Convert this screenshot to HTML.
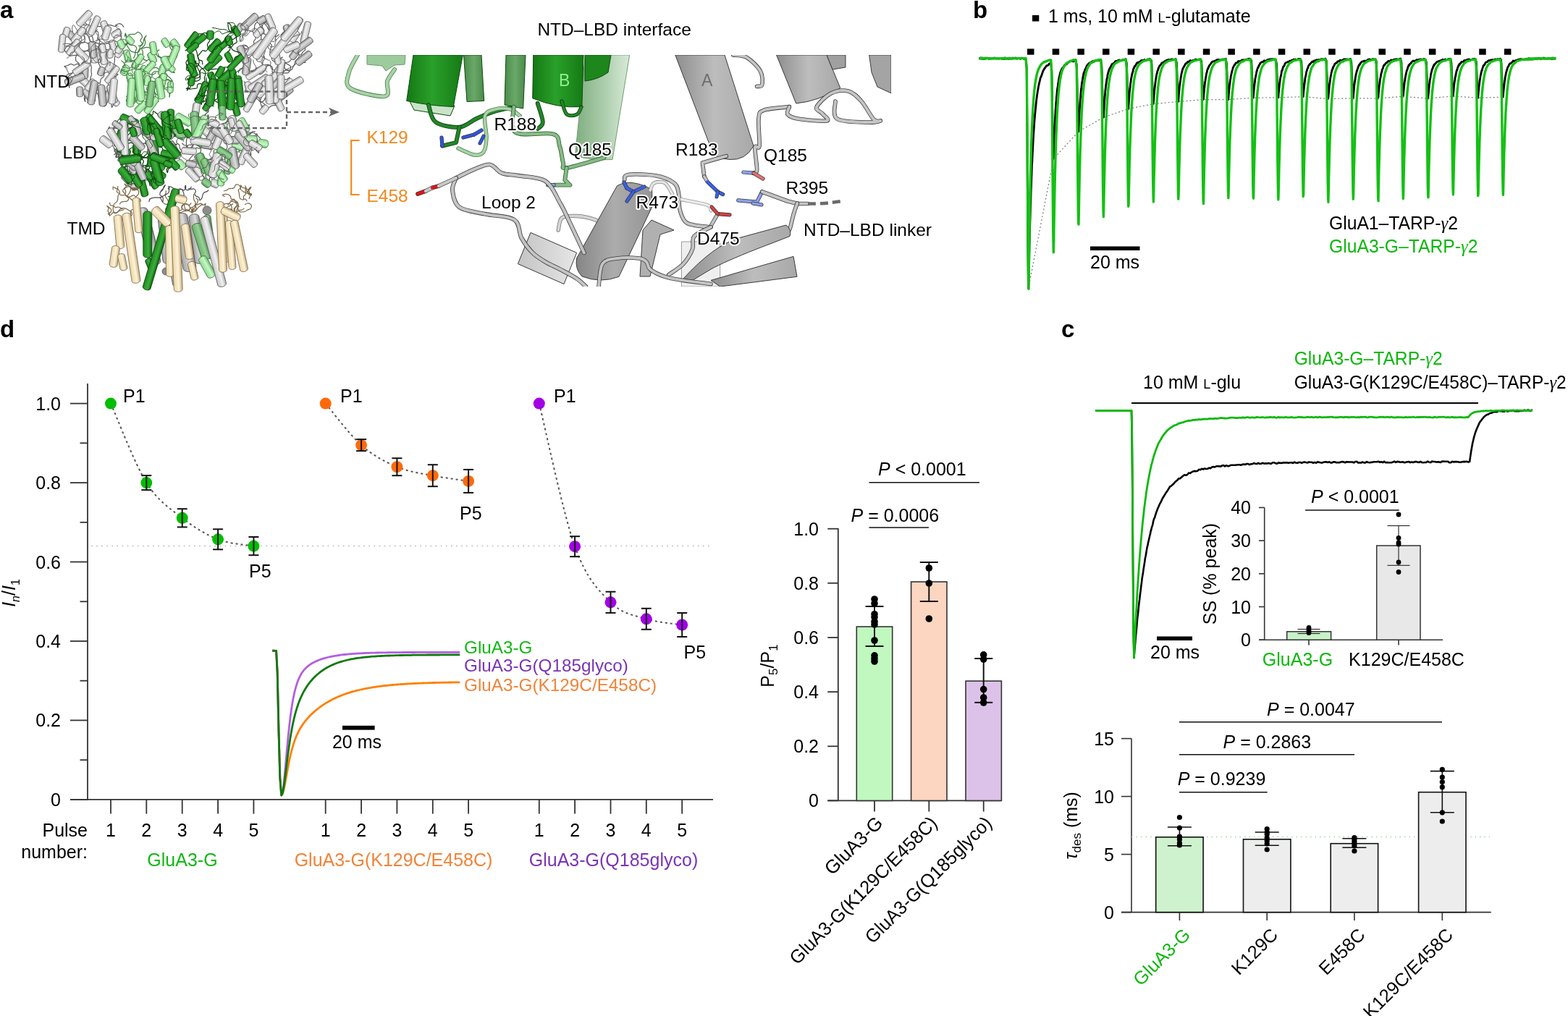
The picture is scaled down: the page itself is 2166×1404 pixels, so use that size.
<!DOCTYPE html>
<html><head><meta charset="utf-8"><title>Figure</title>
<style>html,body{margin:0;padding:0;background:#fff;overflow:hidden;}svg{display:block;}text{font-family:"Liberation Sans", Arial, sans-serif;}</style>
</head><body>
<svg width="2166" height="1404" viewBox="0 0 2166 1404" font-family='"Liberation Sans", Arial, sans-serif'>
<rect width="2166" height="1404" fill="#fff"/>
<defs><linearGradient id="c_gray" x1="0" x2="1" y1="0" y2="0"><stop offset="0" stop-color="#8a8a8a"/><stop offset="0.4" stop-color="#dcdcdc"/><stop offset="1" stop-color="#a4a4a4"/></linearGradient><linearGradient id="c_lgray" x1="0" x2="1" y1="0" y2="0"><stop offset="0" stop-color="#a8a8a8"/><stop offset="0.4" stop-color="#f2f2f2"/><stop offset="1" stop-color="#c6c6c6"/></linearGradient><linearGradient id="c_lgreen" x1="0" x2="1" y1="0" y2="0"><stop offset="0" stop-color="#6cbc6c"/><stop offset="0.4" stop-color="#c6f8c6"/><stop offset="1" stop-color="#92da92"/></linearGradient><linearGradient id="c_mgreen" x1="0" x2="1" y1="0" y2="0"><stop offset="0" stop-color="#4a964a"/><stop offset="0.4" stop-color="#9ad09a"/><stop offset="1" stop-color="#6cb06c"/></linearGradient><linearGradient id="c_dgreen" x1="0" x2="1" y1="0" y2="0"><stop offset="0" stop-color="#0c640c"/><stop offset="0.4" stop-color="#3cae3c"/><stop offset="1" stop-color="#1c881c"/></linearGradient><linearGradient id="c_tan" x1="0" x2="1" y1="0" y2="0"><stop offset="0" stop-color="#c4ab7c"/><stop offset="0.4" stop-color="#fff4d8"/><stop offset="1" stop-color="#ead4a6"/></linearGradient></defs>
<path d="M161 107 C160.2 106.9 157.7 106.1 156.1 106.1 C154.4 106 152.3 105.8 151.1 106.7 C149.9 107.5 149.1 109.6 148.8 111.1 C148.6 112.7 149.7 114.5 149.6 116.1 C149.5 117.7 148.4 119.3 148.2 120.9 C148 122.5 148.1 124.3 148.6 125.9 C149.1 127.4 150.5 128.7 151 130.2 C151.6 131.8 151.4 133.6 152 135.1 C152.6 136.7 154 137.8 154.8 139.3 C155.6 140.8 156.7 142.4 156.6 143.9 C156.6 145.4 154.7 148.4 154.3 148.3 C153.8 148.2 154.2 145 153.9 143.4 C153.5 141.7 152.3 140.3 152.1 138.7 C151.9 137.1 152.8 134.6 152.9 133.7" fill="none" stroke="#5a5a5a" stroke-width="1.2"/>
<path d="M88.5 91.6 C89.3 91.4 91.8 91.1 93.4 90.5 C95 90 96.4 88.4 97.9 88.4 C99.4 88.3 101 90.1 102.6 90.1 C104.1 90 105.8 87.9 107.2 88.1 C108.6 88.3 110.1 90 111.1 91.3 C112 92.6 112.5 94.4 112.9 96 C113.2 97.6 113.6 99.5 113.2 100.9 C112.7 102.4 110.5 103.4 110.1 104.9 C109.8 106.4 110.1 108.6 111 109.8 C111.9 111 114.3 111 115.4 112.1 C116.5 113.3 116.5 115.6 117.6 116.6 C118.7 117.7 120.7 118.7 122.2 118.6 C123.7 118.5 125.8 117.3 126.5 116 C127.1 114.8 126 111.9 125.9 111" fill="none" stroke="#5a5a5a" stroke-width="1.2"/>
<path d="M125.2 83 C125.2 83.9 124.9 86.4 125.1 88 C125.2 89.7 126.2 91.2 126.3 92.9 C126.5 94.5 126 96.2 126 97.9 C126 99.5 126.6 101.2 126.5 102.8 C126.3 104.5 125.4 106 125 107.6 C124.6 109.2 124.4 110.9 124.1 112.5 C123.8 114.2 123.6 115.9 123 117.4 C122.5 119 121.6 120.4 120.7 121.8 C119.8 123.3 118.3 124.4 117.7 125.9 C117.2 127.4 117.7 129.2 117.4 130.9 C117.2 132.5 116.3 134.1 116.3 135.7 C116.4 137.3 117.5 140.6 117.8 140.5 C118 140.5 117.1 136.9 117.7 135.5 C118.4 134.2 121 132.9 121.6 132.3" fill="none" stroke="#5a5a5a" stroke-width="1.2"/>
<path d="M115.2 48.5 C115.5 49.2 117.2 51.4 117.4 52.9 C117.6 54.5 117.2 56.7 116.2 57.8 C115.2 58.9 112.8 58.6 111.6 59.7 C110.4 60.7 109.3 62.6 109.3 64.1 C109.3 65.6 110.4 67.5 111.6 68.6 C112.8 69.6 114.6 70.2 116.2 70.5 C117.8 70.8 119.6 70.1 121.2 70.4 C122.8 70.7 124.4 72.4 125.9 72.2 C127.4 72.1 128.6 70.3 130.2 69.6 C131.7 69 133.4 68.9 135 68.6 C136.7 68.2 138.3 67.5 139.9 67.6 C141.6 67.6 143.1 68.6 144.8 68.8 C146.4 69 148.5 68.2 149.8 68.9 C151.1 69.6 152.2 72.3 152.6 73" fill="none" stroke="#5a5a5a" stroke-width="1.2"/>
<path d="M171.1 37.6 C170.6 36.9 169.3 34.4 168 33.7 C166.6 32.9 164.5 32.5 163 33 C161.6 33.4 160.7 36 159.3 36.3 C157.9 36.7 156.1 35.5 154.4 35.1 C152.8 34.8 151.1 34.6 149.5 34.3 C147.9 34 146.1 32.8 144.6 33.1 C143.2 33.5 142.2 35.7 140.8 36.3 C139.3 36.9 137.4 36.4 135.8 36.5 C134.1 36.7 132.4 36.7 130.8 37.1 C129.2 37.6 127.7 39 126.2 39.1 C124.6 39.1 122.9 38.3 121.4 37.5 C120 36.8 119 34.9 117.5 34.5 C116 34.1 114.2 35.1 112.5 35.1 C110.9 35.1 108.4 34.5 107.6 34.3" fill="none" stroke="#5a5a5a" stroke-width="1.2"/>
<path d="M114.8 46.3 C115.6 46.5 118.3 46.6 119.6 47.5 C121 48.3 121.9 50 122.7 51.4 C123.5 52.9 123.8 54.6 124.5 56.1 C125.2 57.6 125.7 59.4 126.8 60.5 C127.9 61.7 129.7 62.3 131.1 63 C132.6 63.8 134.5 64 135.7 65.1 C136.9 66.1 137.9 67.8 138.3 69.4 C138.7 70.9 138 72.7 138.2 74.4 C138.4 76 139.6 77.8 139.2 79.3 C138.9 80.7 136.6 81.7 136.2 83.2 C135.7 84.7 136.2 86.6 136.6 88.2 C137 89.8 138.3 91.1 138.8 92.7 C139.3 94.3 139.4 96 139.5 97.7 C139.6 99.3 139.3 101.8 139.3 102.7" fill="none" stroke="#5a5a5a" stroke-width="1.2"/>
<path d="M154.4 106.7 C155.2 106.6 157.9 106.5 159.3 105.8 C160.7 105.1 163.2 103 163 102.5 C162.8 102 159.7 102.7 158 102.8 C156.3 102.9 154.5 103.8 153 103.3 C151.6 102.9 150.7 100.4 149.3 100 C147.8 99.6 145.4 100 144.4 101 C143.4 102 144 104.5 143.2 105.8 C142.3 107.2 140.3 107.9 139.5 109.2 C138.7 110.6 138.9 112.5 138.3 114.1 C137.7 115.6 136.9 117.2 135.9 118.5 C134.9 119.8 132.8 120.5 132.3 122 C131.8 123.4 132.3 125.4 132.8 126.9 C133.3 128.5 134.9 129.6 135.5 131.1 C136.1 132.7 136.1 135.3 136.3 136.1" fill="none" stroke="#5a5a5a" stroke-width="1.2"/>
<path d="M119 135.1 C118.6 134.4 116.7 132.1 116.8 130.6 C116.9 129.2 118.2 127.3 119.5 126.4 C120.7 125.4 123.4 126 124.3 125 C125.2 123.9 125.2 121.5 124.9 120 C124.5 118.5 123.3 116.6 122 115.9 C120.7 115.2 118.4 116.4 117 115.7 C115.6 115 115 112.8 113.7 112 C112.3 111.1 109.9 111.5 108.9 110.4 C107.9 109.3 107.5 107 107.8 105.5 C108.1 104 110.1 103 110.7 101.5 C111.3 99.9 111 98.1 111.3 96.5 C111.5 94.8 111.8 93.2 112.2 91.6 C112.5 89.9 112.6 88 113.5 86.8 C114.5 85.5 117.1 84.7 117.9 84.3" fill="none" stroke="#5a5a5a" stroke-width="1.2"/>
<path d="M126.7 48.8 C127 49.6 128 51.9 128.3 53.5 C128.7 55.1 129.3 57 128.8 58.5 C128.3 59.9 126.3 60.8 125.5 62.2 C124.6 63.6 124.5 65.5 123.6 66.8 C122.6 68.2 121.3 69.5 119.9 70.2 C118.4 70.9 116.6 71 114.9 71 C113.3 71 111.3 71 110 70.1 C108.7 69.3 108.5 66.6 107.2 66 C105.9 65.5 103.9 66.9 102.3 66.8 C100.7 66.6 99.2 65.5 97.6 64.9 C96 64.3 94.5 63.4 92.9 63.3 C91.3 63.2 89.6 64.4 88 64.3 C86.4 64.2 83.6 62.2 83.3 62.6 C82.9 63 85.5 66.1 85.9 66.8" fill="none" stroke="#5a5a5a" stroke-width="1.2"/>
<path d="M110.9 77.4 C110 77.3 107.6 76.6 105.9 76.5 C104.3 76.4 102.6 76.5 100.9 76.6 C99.3 76.7 97.4 77.7 96 77.2 C94.6 76.7 93.7 74.8 92.6 73.5 C91.5 72.3 89.6 71 89.4 69.6 C89.3 68.2 90.5 66.3 91.6 65.1 C92.6 63.9 94.3 63.3 95.7 62.3 C97 61.3 98.3 60.2 99.7 59.2 C101 58.3 102.4 57.2 104 56.7 C105.5 56.2 107.4 55.9 108.9 56.2 C110.5 56.5 111.7 58.4 113.2 58.8 C114.8 59.1 116.6 58.2 118.2 58.5 C119.8 58.8 121.5 60.6 122.9 60.3 C124.3 60.1 125.9 57.4 126.4 56.8" fill="none" stroke="#5a5a5a" stroke-width="1.2"/>
<path d="M165.3 40.9 C165.2 41.7 164.7 44.3 165.1 45.9 C165.5 47.4 167.6 48.6 167.8 50.1 C168.1 51.6 167 53.3 166.6 54.9 C166.2 56.5 166.2 58.4 165.4 59.8 C164.7 61.2 162.9 62 162 63.4 C161.1 64.8 160.4 66.5 160.2 68.1 C160.1 69.7 160.4 71.9 161.3 73 C162.3 74.1 166 74.6 166 74.8 C165.9 75 162.2 73.6 161 74.3 C159.8 74.9 159.1 77.1 158.6 78.7 C158.2 80.2 158.5 82 158.4 83.7 C158.3 85.3 157.3 87.3 157.8 88.6 C158.4 90 160.7 90.6 161.6 91.9 C162.6 93.2 163.3 95.7 163.6 96.5" fill="none" stroke="#5a5a5a" stroke-width="1.2"/>
<path d="M150.3 80.8 C150.8 80.2 152.5 78.3 153.6 77.1 C154.7 75.8 155.8 74.6 156.8 73.2 C157.7 71.9 158.2 70.1 159.3 68.9 C160.4 67.6 162.2 67 163.2 65.8 C164.2 64.5 164.4 62.7 165.1 61.1 C165.8 59.6 167.6 57.1 167.2 56.6 C166.7 56 163.9 58.1 162.3 58 C160.8 57.9 159.3 56.2 157.8 56 C156.2 55.8 154.3 56.1 152.8 56.7 C151.3 57.3 150.3 59 148.8 59.7 C147.3 60.4 145.6 60.7 143.9 60.9 C142.3 61.1 140.6 60.9 138.9 60.7 C137.3 60.4 135.7 59.9 134.1 59.6 C132.4 59.2 130 58.9 129.1 58.8" fill="none" stroke="#5a5a5a" stroke-width="1.2"/>
<path d="M144.9 78.1 C144.1 77.9 141.1 77.5 140.2 76.4 C139.2 75.3 139.5 73.2 139.2 71.5 C138.8 69.9 138.3 68.3 137.9 66.7 C137.5 65.1 136.7 63.5 136.7 61.8 C136.7 60.2 138.2 58.4 137.9 57 C137.6 55.5 135 54.6 134.7 53.1 C134.4 51.7 136.2 50 136.2 48.4 C136.2 46.8 135.7 44.7 134.7 43.6 C133.7 42.5 131.3 42.7 130.1 41.7 C128.9 40.6 128.9 38.1 127.7 37.3 C126.5 36.5 124.1 37.4 122.7 36.7 C121.3 36 120.5 34.3 119.3 33.1 C118.1 31.9 116 31.2 115.5 29.8 C115.1 28.4 116.3 25.7 116.5 24.9" fill="none" stroke="#5a5a5a" stroke-width="1.2"/>
<path d="M100.6 67.1 C101.2 67.6 103.5 68.9 104.4 70.2 C105.4 71.5 106.3 73.3 106.3 74.9 C106.3 76.4 104.7 78 104.5 79.6 C104.4 81.2 104.5 83.2 105.2 84.5 C106 85.9 108.6 86.3 109.2 87.7 C109.7 89 108.9 91.1 108.3 92.6 C107.7 94.1 106.5 95.4 105.4 96.7 C104.3 97.9 103.2 99.4 101.9 100.2 C100.5 101 98.6 100.9 97 101.5 C95.5 102 93.3 102.4 92.5 103.6 C91.7 104.8 91.8 108.4 92.3 108.6 C92.8 108.8 94.3 105.9 95.4 104.7 C96.6 103.5 98.4 102.9 99.4 101.6 C100.4 100.3 101.1 97.8 101.4 97.1" fill="none" stroke="#5a5a5a" stroke-width="1.2"/>
<rect x="-4.1" y="-9.7" width="8.2" height="19.5" rx="4.1" ry="2.5" fill="url(#c_lgray)" stroke="#5a5a5a" stroke-width="0.8" transform="translate(156.4 64.8) rotate(-15.6)"/>
<rect x="-4.4" y="-6.3" width="8.7" height="12.6" rx="4.4" ry="2.6" fill="url(#c_gray)" stroke="#4a4a4a" stroke-width="0.8" transform="translate(139.9 98.6) rotate(20.4)"/>
<rect x="-4.5" y="-7" width="9.1" height="14" rx="4.5" ry="2.7" fill="url(#c_gray)" stroke="#4a4a4a" stroke-width="0.8" transform="translate(98.7 49.7) rotate(-38.9)"/>
<rect x="-4.9" y="-14" width="9.9" height="28.1" rx="4.9" ry="3" fill="url(#c_lgray)" stroke="#5a5a5a" stroke-width="0.8" transform="translate(142.2 75.3) rotate(-8.8)"/>
<rect x="-4.9" y="-13.1" width="9.7" height="26.1" rx="4.9" ry="2.9" fill="url(#c_lgray)" stroke="#5a5a5a" stroke-width="0.8" transform="translate(116.5 25.6) rotate(43.4)"/>
<rect x="-4.4" y="-6.8" width="8.8" height="13.5" rx="4.4" ry="2.6" fill="url(#c_lgray)" stroke="#5a5a5a" stroke-width="0.8" transform="translate(91.7 44.3) rotate(16.4)"/>
<rect x="-4.6" y="-8.3" width="9.2" height="16.5" rx="4.6" ry="2.8" fill="url(#c_lgray)" stroke="#5a5a5a" stroke-width="0.8" transform="translate(144.8 37) rotate(-19)"/>
<rect x="-4.8" y="-7" width="9.5" height="13.9" rx="4.8" ry="2.9" fill="url(#c_lgray)" stroke="#5a5a5a" stroke-width="0.8" transform="translate(160.9 46.5) rotate(57.4)"/>
<rect x="-4.8" y="-8.5" width="9.6" height="16.9" rx="4.8" ry="2.9" fill="url(#c_lgray)" stroke="#5a5a5a" stroke-width="0.8" transform="translate(122.8 42.5) rotate(-29.9)"/>
<rect x="-4.4" y="-6.7" width="8.9" height="13.4" rx="4.4" ry="2.7" fill="url(#c_lgray)" stroke="#5a5a5a" stroke-width="0.8" transform="translate(164.3 73.2) rotate(36.1)"/>
<rect x="-4.8" y="-12.7" width="9.6" height="25.4" rx="4.8" ry="2.9" fill="url(#c_lgray)" stroke="#5a5a5a" stroke-width="0.8" transform="translate(108.3 48.7) rotate(39)"/>
<rect x="-4.9" y="-8.8" width="9.9" height="17.6" rx="4.9" ry="3" fill="url(#c_lgray)" stroke="#5a5a5a" stroke-width="0.8" transform="translate(115.5 112) rotate(-47)"/>
<rect x="-4.5" y="-14" width="9" height="28.1" rx="4.5" ry="2.7" fill="url(#c_lgray)" stroke="#5a5a5a" stroke-width="0.8" transform="translate(111 73) rotate(-44.6)"/>
<rect x="-4.1" y="-7.9" width="8.2" height="15.8" rx="4.1" ry="2.4" fill="url(#c_gray)" stroke="#4a4a4a" stroke-width="0.8" transform="translate(117.7 100.9) rotate(3)"/>
<rect x="-4.6" y="-11.3" width="9.2" height="22.6" rx="4.6" ry="2.8" fill="url(#c_gray)" stroke="#4a4a4a" stroke-width="0.8" transform="translate(122.6 132.6) rotate(-36.3)"/>
<rect x="-4.5" y="-6.1" width="9" height="12.2" rx="4.5" ry="2.7" fill="url(#c_lgray)" stroke="#5a5a5a" stroke-width="0.8" transform="translate(141.6 66.8) rotate(-11.4)"/>
<rect x="-4.1" y="-11.3" width="8.2" height="22.6" rx="4.1" ry="2.5" fill="url(#c_gray)" stroke="#4a4a4a" stroke-width="0.8" transform="translate(146.3 136.1) rotate(25)"/>
<rect x="-4.5" y="-9" width="9" height="18" rx="4.5" ry="2.7" fill="url(#c_lgray)" stroke="#5a5a5a" stroke-width="0.8" transform="translate(125 117.3) rotate(38.8)"/>
<rect x="-4.5" y="-6.5" width="8.9" height="12.9" rx="4.5" ry="2.7" fill="url(#c_lgray)" stroke="#5a5a5a" stroke-width="0.8" transform="translate(159.1 140.6) rotate(-41.8)"/>
<rect x="-4.5" y="-14.1" width="8.9" height="28.2" rx="4.5" ry="2.7" fill="url(#c_lgray)" stroke="#5a5a5a" stroke-width="0.8" transform="translate(130.3 35.4) rotate(24)"/>
<rect x="-4.6" y="-6.5" width="9.1" height="12.9" rx="4.6" ry="2.7" fill="url(#c_lgray)" stroke="#5a5a5a" stroke-width="0.8" transform="translate(151.2 92.4) rotate(34.1)"/>
<rect x="-4.8" y="-13.2" width="9.6" height="26.3" rx="4.8" ry="2.9" fill="url(#c_lgray)" stroke="#5a5a5a" stroke-width="0.8" transform="translate(154.9 129.9) rotate(-16.7)"/>
<rect x="-4.1" y="-13.6" width="8.1" height="27.2" rx="4.1" ry="2.4" fill="url(#c_lgray)" stroke="#5a5a5a" stroke-width="0.8" transform="translate(155 103.1) rotate(37.5)"/>
<rect x="-4.3" y="-12.6" width="8.5" height="25.1" rx="4.3" ry="2.6" fill="url(#c_lgray)" stroke="#5a5a5a" stroke-width="0.8" transform="translate(85.7 59.9) rotate(6.3)"/>
<rect x="-4.9" y="-14.3" width="9.9" height="28.7" rx="4.9" ry="3" fill="url(#c_gray)" stroke="#4a4a4a" stroke-width="0.8" transform="translate(103.3 109.8) rotate(68.3)"/>
<rect x="-5" y="-8.7" width="9.9" height="17.4" rx="5" ry="3" fill="url(#c_lgray)" stroke="#5a5a5a" stroke-width="0.8" transform="translate(130.3 78.4) rotate(-1.2)"/>
<rect x="-4.9" y="-9.9" width="9.8" height="19.8" rx="4.9" ry="2.9" fill="url(#c_lgray)" stroke="#5a5a5a" stroke-width="0.8" transform="translate(147 45.6) rotate(17.1)"/>
<rect x="-4.5" y="-7" width="9" height="14" rx="4.5" ry="2.7" fill="url(#c_gray)" stroke="#4a4a4a" stroke-width="0.8" transform="translate(110.2 126.8) rotate(-1.7)"/>
<rect x="-4.9" y="-11.6" width="9.8" height="23.2" rx="4.9" ry="2.9" fill="url(#c_gray)" stroke="#4a4a4a" stroke-width="0.8" transform="translate(127.8 68.9) rotate(-5.5)"/>
<rect x="-4.5" y="-12.7" width="9.1" height="25.3" rx="4.5" ry="2.7" fill="url(#c_lgray)" stroke="#5a5a5a" stroke-width="0.8" transform="translate(112.1 94.4) rotate(56)"/>
<rect x="-4.3" y="-6.1" width="8.5" height="12.3" rx="4.3" ry="2.6" fill="url(#c_lgray)" stroke="#5a5a5a" stroke-width="0.8" transform="translate(152.1 74.1) rotate(-0.1)"/>
<rect x="-4.6" y="-10.7" width="9.2" height="21.3" rx="4.6" ry="2.8" fill="url(#c_lgray)" stroke="#5a5a5a" stroke-width="0.8" transform="translate(167 64.2) rotate(33.1)"/>
<rect x="-4.3" y="-12.6" width="8.5" height="25.3" rx="4.3" ry="2.6" fill="url(#c_lgray)" stroke="#5a5a5a" stroke-width="0.8" transform="translate(101.3 65.3) rotate(36)"/>
<rect x="-4.8" y="-6" width="9.7" height="12" rx="4.8" ry="2.9" fill="url(#c_lgray)" stroke="#5a5a5a" stroke-width="0.8" transform="translate(133.8 119.9) rotate(68.6)"/>
<path d="M100.7 43.9 C100.5 43 99.4 40.6 99.6 39 C99.7 37.4 100.6 34.5 101.5 34.4 C102.3 34.3 103.6 37 104.5 38.4 C105.4 39.8 106.4 41.2 106.9 42.7 C107.4 44.3 106.6 46.4 107.4 47.7 C108.2 49 110.8 49.1 111.7 50.3 C112.6 51.6 113 53.7 112.7 55.2 C112.4 56.7 110.9 58.1 109.7 59.2 C108.5 60.3 106.6 60.7 105.5 61.8 C104.3 63 103.2 64.5 102.8 66.1 C102.3 67.6 103.5 69.9 102.8 71.1 C102 72.2 99.3 71.9 98.1 73 C97 74.1 97 76.2 96 77.5 C95 78.8 92.8 80.1 92.1 80.7" fill="none" stroke="#5a5a5a" stroke-width="1.0"/>
<path d="M93.4 94.4 C92.7 94 89.4 91.6 89.1 91.8 C88.9 92.1 91.3 94.4 92.1 95.8 C93 97.3 93.5 98.9 94.3 100.4 C95.1 101.8 96 103.2 97.1 104.5 C98.1 105.8 100.2 106.8 100.5 108.2 C100.8 109.6 99.6 111.5 98.8 112.9 C97.9 114.3 95.8 115.1 95.3 116.5 C94.8 117.9 95.8 121.5 95.9 121.5 C96 121.5 95.8 118.1 96.2 116.5 C96.6 114.9 98.4 113.4 98.3 112 C98.3 110.5 97.1 108.6 95.9 107.6 C94.7 106.6 91.5 105.5 91.1 106 C90.7 106.5 92.5 110.4 93.4 110.5 C94.2 110.5 95.5 106.9 96 106.2" fill="none" stroke="#5a5a5a" stroke-width="1.0"/>
<path d="M141.5 59.2 C140.8 59.7 138.8 61.3 137.7 62.5 C136.6 63.7 136 65.5 134.8 66.5 C133.5 67.6 131.8 68 130.3 68.8 C128.8 69.6 126.9 70 125.9 71.1 C124.9 72.3 124 74.4 124.3 75.9 C124.6 77.3 126.5 78.4 127.5 79.7 C128.5 81 129.2 82.6 130.3 83.8 C131.5 85 132.9 86.5 134.4 86.7 C135.9 86.9 138.2 86.2 139.2 85.1 C140.1 84.1 140.3 81.8 140.1 80.2 C139.9 78.7 138.1 77.3 138 75.7 C137.9 74.2 139.6 72.4 139.4 70.9 C139.1 69.4 137.9 67.4 136.6 66.8 C135.3 66.1 132.4 66.9 131.6 67" fill="none" stroke="#5a5a5a" stroke-width="1.0"/>
<path d="M163.5 37.1 C162.9 36.6 160.1 33.6 159.8 33.9 C159.4 34.1 160.3 37.5 161.4 38.6 C162.4 39.7 165.1 39.4 165.9 40.6 C166.7 41.8 166.1 43.9 166.2 45.6 C166.2 47.3 167.1 50.2 166.5 50.6 C165.8 51 163.5 48.2 162.1 48.2 C160.6 48.2 158.6 49.5 157.8 50.8 C157 52.1 158 54.5 157.2 55.8 C156.3 57 154.3 57.8 152.7 58.1 C151.2 58.4 149.4 57.1 147.8 57.4 C146.2 57.6 144.7 59.6 143.3 59.5 C141.8 59.4 140 58.2 138.9 57 C137.9 55.8 136.7 53.8 136.9 52.4 C137.2 51 139.8 49.4 140.4 48.8" fill="none" stroke="#5a5a5a" stroke-width="1.0"/>
<path d="M86.8 61.3 C87.6 61.1 90 60.4 91.7 60.3 C93.3 60.2 95.2 60.2 96.7 60.8 C98.2 61.4 99.1 63.4 100.6 63.9 C102.1 64.3 104.2 64.1 105.6 63.5 C107 62.8 107.8 61 109 59.8 C110.2 58.6 111.3 57.3 112.6 56.3 C113.9 55.3 116 54.9 116.8 53.6 C117.5 52.3 116.6 50.2 116.9 48.6 C117.2 47 118.3 45.5 118.8 43.9 C119.2 42.4 119 40.5 119.6 39 C120.3 37.5 121.9 36.5 122.7 35.1 C123.4 33.6 123.6 31.9 124.2 30.3 C124.7 28.7 126.2 25.8 125.9 25.6 C125.6 25.4 122.9 28.5 122.2 29" fill="none" stroke="#5a5a5a" stroke-width="1.0"/>
<path d="M134.7 40.4 C134.3 41.1 132.4 43.4 132.4 44.8 C132.5 46.3 134.6 47.5 135.1 49.1 C135.6 50.6 135.9 52.5 135.5 54.1 C135.1 55.6 133.7 56.9 132.6 58.2 C131.5 59.4 130.2 60.5 129.1 61.7 C128 62.9 126.3 64.1 125.9 65.5 C125.4 67 126.3 68.9 126.2 70.5 C126.1 72.2 125.4 73.8 125.3 75.4 C125.1 77.1 125.1 78.8 125.2 80.4 C125.3 82.1 126.5 84.1 125.9 85.4 C125.3 86.6 123.1 87.8 121.6 87.9 C120.1 88 117.9 87.1 117 86 C116.1 84.8 116.9 82.4 116.2 81 C115.5 79.6 113.3 78 112.7 77.4" fill="none" stroke="#5a5a5a" stroke-width="1.0"/>
<path d="M123.3 51.4 C123.4 52.2 123 55.2 123.8 56.4 C124.6 57.5 126.9 58.5 128.4 58.4 C129.8 58.4 131.2 56.7 132.7 56 C134.2 55.3 135.8 54.4 137.4 54.2 C139 54 141 54 142.3 54.8 C143.7 55.5 144.3 57.6 145.6 58.5 C146.9 59.5 149.2 59.3 150.3 60.3 C151.3 61.4 151.8 63.5 151.8 65.1 C151.8 66.7 151 68.5 150.2 69.9 C149.4 71.3 147.6 72.2 146.9 73.6 C146.2 75 145.8 76.9 145.9 78.5 C146.1 80.1 147 81.8 148 83.1 C149 84.3 151.4 84.7 152 86.1 C152.6 87.4 151.8 90.2 151.7 91.1" fill="none" stroke="#5a5a5a" stroke-width="1.0"/>
<path d="M388.1 84.2 C388.9 84.5 391.4 85.1 392.9 85.8 C394.4 86.6 395.6 87.7 397 88.6 C398.4 89.5 400.5 90.1 401.2 91.3 C401.9 92.6 401.6 94.8 401.1 96.3 C400.6 97.8 399.5 99.6 398.2 100.4 C396.9 101.2 394.9 100.7 393.2 100.9 C391.6 101.1 389.9 101.6 388.3 101.7 C386.6 101.8 384.6 102 383.3 101.2 C382 100.5 381.5 98.2 380.2 97.3 C379 96.3 376.7 96.7 375.5 95.6 C374.4 94.6 374.5 92.2 373.4 91.1 C372.3 90 370.4 89.3 368.8 89.2 C367.2 89 365.2 90.6 363.9 90.1 C362.6 89.5 361.5 86.7 361 86" fill="none" stroke="#5a5a5a" stroke-width="1.2"/>
<path d="M353.1 123.1 C352.3 123.1 349.8 122.9 348.2 122.8 C346.5 122.7 344.7 122 343.2 122.3 C341.6 122.7 338.7 124.4 338.8 124.7 C338.9 125.1 342.6 123.9 343.8 124.6 C345 125.4 345.3 127.6 345.8 129.2 C346.4 130.8 347.2 132.5 347 134.1 C346.8 135.6 344.3 138.1 344.7 138.5 C345.1 139 348 137.6 349.4 136.9 C350.9 136.1 352.1 134.2 353.6 134.1 C355.1 133.9 357.2 134.8 358.2 135.9 C359.2 137.1 359.1 139.2 359.6 140.8 C360 142.4 360.5 144 360.9 145.6 C361.4 147.2 361.9 150.4 362.2 150.4 C362.5 150.4 362.8 146.3 362.9 145.5" fill="none" stroke="#5a5a5a" stroke-width="1.2"/>
<path d="M337.2 32.7 C337.1 33.6 336.1 36.2 336.5 37.7 C337 39.2 338.4 40.8 339.7 41.6 C341 42.4 343 42.1 344.6 42.5 C346.2 42.9 348.2 43.1 349.4 44.1 C350.5 45.1 350.7 47.1 351.4 48.7 C352 50.2 353.4 51.8 353.2 53.3 C353.1 54.8 350.8 55.9 350.4 57.5 C350.1 59 351.9 61.1 351.3 62.4 C350.8 63.6 348.5 64.2 347.1 65 C345.7 65.9 344.3 67.1 342.7 67.4 C341.2 67.7 338.9 67.7 337.8 66.8 C336.6 65.9 335.3 62.7 335.8 62.2 C336.3 61.6 339.4 62.5 340.7 63.3 C342 64.2 343.1 66.7 343.6 67.4" fill="none" stroke="#5a5a5a" stroke-width="1.2"/>
<path d="M350.7 105.2 C351.4 104.6 353 102.3 354.5 101.9 C355.9 101.5 357.9 102.9 359.4 102.7 C361 102.4 362.6 101.3 363.7 100.1 C364.9 99 365.7 97.4 366.4 95.9 C367.2 94.5 367.2 92.3 368.3 91.3 C369.5 90.3 371.9 89.8 373.2 90.2 C374.6 90.7 376 92.5 376.5 94 C377 95.4 375.7 97.4 376.1 99 C376.4 100.5 377.7 101.9 378.6 103.3 C379.5 104.7 380.2 106.6 381.5 107.4 C382.8 108.1 384.8 107.5 386.4 107.8 C388.1 108.2 389.6 109.2 391.2 109.5 C392.8 109.8 394.6 110 396.2 109.6 C397.7 109.1 399.7 107.3 400.4 106.8" fill="none" stroke="#5a5a5a" stroke-width="1.2"/>
<path d="M388.4 48.8 C388.9 48.1 390 45.8 391.2 44.7 C392.4 43.6 394.4 43.3 395.6 42.1 C396.7 41 396.9 38.6 398.2 37.9 C399.4 37.1 402.7 36.9 403.2 37.6 C403.6 38.3 402.2 41 401.1 42.2 C400.1 43.4 397.7 43.5 396.8 44.8 C395.9 46 396.5 48.3 395.7 49.6 C394.8 51 392.6 51.5 391.9 52.9 C391.1 54.3 391.9 56.5 391.1 57.8 C390.3 59.2 388 59.5 387.1 60.8 C386.1 62 386.2 64.2 385.2 65.4 C384.1 66.5 381.9 66.6 380.7 67.7 C379.6 68.8 378.5 70.6 378.4 72.1 C378.2 73.6 379.6 76 379.9 76.8" fill="none" stroke="#5a5a5a" stroke-width="1.2"/>
<path d="M361.2 59.4 C361.1 58.6 360.8 56.1 360.7 54.4 C360.7 52.7 360.7 51.1 361 49.4 C361.3 47.8 362.2 46.2 362.4 44.6 C362.6 43 362.5 41.1 362 39.6 C361.5 38.1 359.7 37 359.2 35.5 C358.7 34 358.3 31.8 359 30.5 C359.7 29.2 362.4 29.2 363.3 28 C364.2 26.7 365 23.5 364.5 23.1 C364 22.8 361.3 24.6 360.3 25.9 C359.4 27.2 360.1 29.8 359 30.7 C358 31.6 355.3 30.5 354.1 31.3 C352.8 32.2 352.1 34.2 351.7 35.7 C351.2 37.3 352.2 39.4 351.5 40.7 C350.8 42.1 348.2 43.3 347.5 43.8" fill="none" stroke="#5a5a5a" stroke-width="1.2"/>
<path d="M379.7 55.3 C379.9 54.5 381 52.1 381 50.4 C381 48.8 380.8 46.7 379.8 45.6 C378.9 44.4 376.8 44.2 375.3 43.5 C373.8 42.7 372 42.2 370.9 41 C369.9 39.8 369.7 37.9 368.8 36.5 C367.9 35.1 366.7 33.9 365.5 32.7 C364.3 31.6 362.8 30.7 361.7 29.5 C360.6 28.3 360.2 26 358.9 25.3 C357.6 24.7 354.2 24.9 353.9 25.5 C353.7 26.1 356.2 27.9 357.4 29.1 C358.5 30.3 359.9 31.4 360.7 32.8 C361.6 34.2 361.7 36 362.4 37.5 C363.1 39.1 364.4 40.4 364.8 42 C365.1 43.5 364.5 46.1 364.5 46.9" fill="none" stroke="#5a5a5a" stroke-width="1.2"/>
<path d="M368.9 122 C368.5 122.8 367.5 125.1 366.7 126.5 C365.9 128 364.8 129.2 363.8 130.6 C362.9 132 361.7 133.3 361.1 134.8 C360.4 136.3 359.3 138.3 359.8 139.6 C360.3 140.9 362.5 141.5 363.8 142.6 C365.1 143.7 366.6 144.7 367.4 146.1 C368.2 147.5 367.9 150.6 368.8 150.9 C369.7 151.2 371.3 148.6 372.7 147.7 C374.1 146.8 375.7 146.1 377.2 145.7 C378.8 145.3 382.2 145.9 382.2 145.5 C382.3 145.1 379.3 143.8 377.8 143.3 C376.2 142.8 374.2 143.2 372.8 142.5 C371.4 141.8 370.5 140.1 369.3 139 C368.1 137.8 366.2 136.2 365.6 135.6" fill="none" stroke="#5a5a5a" stroke-width="1.2"/>
<path d="M341.7 87.2 C341.9 86.4 342.5 83.9 343.1 82.4 C343.8 80.9 344.6 79.3 345.7 78.1 C346.8 76.9 348.3 75.2 349.7 75.1 C351.1 75 352.6 77.6 354 77.5 C355.5 77.5 356.7 75.1 358.2 74.8 C359.8 74.6 361.9 75.1 363.1 76 C364.3 76.9 365.4 78.9 365.5 80.4 C365.5 81.9 363.8 83.3 363.2 84.9 C362.7 86.5 362.8 88.3 362.3 89.8 C361.7 91.4 361.1 93.5 359.9 94.2 C358.7 94.9 356.4 93.3 354.9 93.8 C353.4 94.2 352.5 96.2 351 96.9 C349.6 97.6 347.8 97.9 346.2 98.2 C344.5 98.4 342 98.3 341.2 98.3" fill="none" stroke="#5a5a5a" stroke-width="1.2"/>
<path d="M336.6 112.5 C337.2 113 339.2 114.7 340.6 115.4 C342.1 116.1 344.2 115.7 345.5 116.5 C346.8 117.4 348 119 348.6 120.5 C349.2 122 349.1 123.8 349.1 125.5 C349.1 127.1 349.3 129.3 348.4 130.4 C347.5 131.5 343.6 131.9 343.6 132 C343.7 132.1 347.1 130.7 348.5 131.1 C350 131.5 350.9 133.5 352.2 134.5 C353.5 135.6 355 136.3 356.3 137.4 C357.6 138.5 358.4 140.7 359.8 141 C361.1 141.3 363.3 140.2 364.4 139.2 C365.6 138.1 365.7 135.7 366.9 134.8 C368.2 134 370.4 134.8 371.9 134.1 C373.4 133.5 375.1 131.5 375.8 131" fill="none" stroke="#5a5a5a" stroke-width="1.2"/>
<path d="M422.6 86.4 C421.8 86.4 419.3 86.4 417.6 86.3 C416 86.2 414.2 85.6 412.7 85.9 C411.1 86.2 409.5 87.3 408.3 88.3 C407 89.3 405.9 90.7 405 92.1 C404.1 93.4 403.9 95.7 402.7 96.5 C401.5 97.3 399.4 96.6 397.7 96.8 C396.1 97 394.1 97 392.8 97.9 C391.6 98.8 391.1 100.7 390.4 102.2 C389.7 103.7 389.7 106.1 388.5 106.9 C387.4 107.7 385.1 107.4 383.5 107 C382 106.6 380.7 104.6 379.2 104.5 C377.7 104.3 375.6 105 374.5 106 C373.4 107.1 372.5 109.3 372.7 110.7 C372.9 112.2 375 114.2 375.5 114.9" fill="none" stroke="#5a5a5a" stroke-width="1.2"/>
<path d="M357.8 48 C358.3 47.3 360.2 45.4 360.7 43.9 C361.3 42.4 360.9 40.5 361.3 38.9 C361.7 37.3 362.1 35.6 363 34.2 C363.8 32.8 365.4 31.9 366.5 30.6 C367.6 29.4 369.1 28.1 369.4 26.6 C369.8 25.1 368.9 21.7 368.7 21.7 C368.5 21.7 368.3 25 368.1 26.6 C367.9 28.3 367.1 30.2 367.5 31.6 C368 33 370.4 33.8 371 35.2 C371.6 36.7 370.8 38.6 371.2 40.2 C371.5 41.8 372.2 43.5 373.3 44.8 C374.3 46 375.8 46.9 377.2 47.8 C378.6 48.8 380.1 50.5 381.4 50.5 C382.8 50.4 384.9 48.1 385.6 47.6" fill="none" stroke="#5a5a5a" stroke-width="1.2"/>
<path d="M416.3 64 C416.7 63.3 417.7 60.5 419 59.8 C420.3 59.1 423.8 59.2 424 59.8 C424.3 60.4 420.9 62 420.6 63.4 C420.2 64.8 422.1 66.9 421.8 68.3 C421.4 69.7 419.4 70.7 418.4 71.9 C417.3 73.2 416.7 75.4 415.4 75.9 C414 76.5 412 74.9 410.4 75.2 C408.9 75.5 407.4 76.7 406.1 77.7 C404.8 78.7 403.7 80.1 402.7 81.3 C401.6 82.6 401 84.4 399.7 85.3 C398.4 86.2 396.1 85.8 394.9 86.7 C393.7 87.7 392.7 89.7 392.6 91.2 C392.6 92.7 393.5 94.7 394.6 95.8 C395.6 97 398.3 97.7 399.1 98" fill="none" stroke="#5a5a5a" stroke-width="1.2"/>
<path d="M390.8 78.7 C390.1 79.2 387.9 80.4 386.6 81.5 C385.4 82.5 384.6 84.5 383.2 85.1 C381.8 85.7 379.5 85.6 378.2 84.8 C376.9 84.1 375.6 82.3 375.2 80.8 C374.9 79.4 376.5 77.4 376.1 75.9 C375.7 74.5 373.3 73.5 372.9 72.1 C372.6 70.6 373.5 68.8 373.9 67.2 C374.3 65.6 375.7 63.8 375.4 62.4 C375 61 372.8 60.1 372 58.7 C371.1 57.3 370.8 55.6 370.3 54 C369.7 52.4 369.6 50.5 368.6 49.3 C367.7 48.1 365.9 46.9 364.4 46.6 C362.9 46.3 361.1 47.1 359.5 47.4 C357.8 47.8 355.4 48.4 354.6 48.6" fill="none" stroke="#5a5a5a" stroke-width="1.2"/>
<rect x="-4.4" y="-15.7" width="8.9" height="31.3" rx="4.4" ry="2.7" fill="url(#c_lgray)" stroke="#5a5a5a" stroke-width="0.8" transform="translate(422.2 45.1) rotate(13.7)"/>
<rect x="-4.2" y="-16.3" width="8.4" height="32.6" rx="4.2" ry="2.5" fill="url(#c_gray)" stroke="#4a4a4a" stroke-width="0.8" transform="translate(391 132.3) rotate(51.6)"/>
<rect x="-4.8" y="-10.1" width="9.6" height="20.3" rx="4.8" ry="2.9" fill="url(#c_gray)" stroke="#4a4a4a" stroke-width="0.8" transform="translate(398 43.9) rotate(-18.9)"/>
<rect x="-4.9" y="-12.3" width="9.8" height="24.6" rx="4.9" ry="2.9" fill="url(#c_gray)" stroke="#4a4a4a" stroke-width="0.8" transform="translate(340.7 91.6) rotate(8.5)"/>
<rect x="-4.9" y="-12.9" width="9.8" height="25.8" rx="4.9" ry="2.9" fill="url(#c_gray)" stroke="#4a4a4a" stroke-width="0.8" transform="translate(335.5 75.4) rotate(-22.6)"/>
<rect x="-4.5" y="-7.1" width="9.1" height="14.1" rx="4.5" ry="2.7" fill="url(#c_gray)" stroke="#4a4a4a" stroke-width="0.8" transform="translate(406.2 75.7) rotate(37)"/>
<rect x="-4.6" y="-15.3" width="9.2" height="30.6" rx="4.6" ry="2.8" fill="url(#c_gray)" stroke="#4a4a4a" stroke-width="0.8" transform="translate(418.5 62.7) rotate(54)"/>
<rect x="-4.6" y="-6.7" width="9.3" height="13.4" rx="4.6" ry="2.8" fill="url(#c_gray)" stroke="#4a4a4a" stroke-width="0.8" transform="translate(361.5 27.6) rotate(58.5)"/>
<rect x="-4.4" y="-16.1" width="8.7" height="32.1" rx="4.4" ry="2.6" fill="url(#c_lgray)" stroke="#5a5a5a" stroke-width="0.8" transform="translate(346.8 140.2) rotate(30.2)"/>
<rect x="-4.4" y="-13.2" width="8.8" height="26.4" rx="4.4" ry="2.6" fill="url(#c_gray)" stroke="#4a4a4a" stroke-width="0.8" transform="translate(409.4 36.1) rotate(29.4)"/>
<rect x="-4.2" y="-16.2" width="8.3" height="32.5" rx="4.2" ry="2.5" fill="url(#c_lgray)" stroke="#5a5a5a" stroke-width="0.8" transform="translate(393.2 122) rotate(39)"/>
<rect x="-4.6" y="-6.3" width="9.2" height="12.7" rx="4.6" ry="2.8" fill="url(#c_gray)" stroke="#4a4a4a" stroke-width="0.8" transform="translate(331.1 38.6) rotate(33.9)"/>
<rect x="-4.4" y="-7.1" width="8.8" height="14.3" rx="4.4" ry="2.6" fill="url(#c_lgray)" stroke="#5a5a5a" stroke-width="0.8" transform="translate(343 119.8) rotate(-13.3)"/>
<rect x="-4.8" y="-8.4" width="9.7" height="16.9" rx="4.8" ry="2.9" fill="url(#c_lgray)" stroke="#5a5a5a" stroke-width="0.8" transform="translate(406.6 50.3) rotate(31.9)"/>
<rect x="-4.4" y="-6.8" width="8.7" height="13.6" rx="4.4" ry="2.6" fill="url(#c_lgray)" stroke="#5a5a5a" stroke-width="0.8" transform="translate(364.9 151.4) rotate(42.8)"/>
<rect x="-4.1" y="-9.5" width="8.1" height="19.1" rx="4.1" ry="2.4" fill="url(#c_lgray)" stroke="#5a5a5a" stroke-width="0.8" transform="translate(360.3 76.2) rotate(18.7)"/>
<rect x="-4.1" y="-15.7" width="8.2" height="31.3" rx="4.1" ry="2.5" fill="url(#c_lgray)" stroke="#5a5a5a" stroke-width="0.8" transform="translate(353.8 99.9) rotate(57)"/>
<rect x="-4.2" y="-11.8" width="8.4" height="23.6" rx="4.2" ry="2.5" fill="url(#c_lgray)" stroke="#5a5a5a" stroke-width="0.8" transform="translate(373.3 30.3) rotate(-23.3)"/>
<rect x="-4.6" y="-9" width="9.2" height="18" rx="4.6" ry="2.8" fill="url(#c_lgray)" stroke="#5a5a5a" stroke-width="0.8" transform="translate(386 144.8) rotate(-24.5)"/>
<rect x="-4.9" y="-16.5" width="9.9" height="32.9" rx="4.9" ry="3" fill="url(#c_lgray)" stroke="#5a5a5a" stroke-width="0.8" transform="translate(357.7 114.1) rotate(56.5)"/>
<rect x="-4.6" y="-15.2" width="9.1" height="30.5" rx="4.6" ry="2.7" fill="url(#c_lgray)" stroke="#5a5a5a" stroke-width="0.8" transform="translate(352.3 65.4) rotate(54.7)"/>
<rect x="-4.9" y="-10.2" width="9.8" height="20.5" rx="4.9" ry="3" fill="url(#c_lgray)" stroke="#5a5a5a" stroke-width="0.8" transform="translate(362.5 126.1) rotate(43.9)"/>
<rect x="-4.2" y="-7.5" width="8.5" height="15" rx="4.2" ry="2.5" fill="url(#c_lgray)" stroke="#5a5a5a" stroke-width="0.8" transform="translate(381.6 135) rotate(12.2)"/>
<rect x="-4.1" y="-9.8" width="8.2" height="19.6" rx="4.1" ry="2.5" fill="url(#c_lgray)" stroke="#5a5a5a" stroke-width="0.8" transform="translate(374.3 48.6) rotate(44.3)"/>
<rect x="-4.4" y="-16.9" width="8.8" height="33.8" rx="4.4" ry="2.6" fill="url(#c_lgray)" stroke="#5a5a5a" stroke-width="0.8" transform="translate(382.2 100.8) rotate(31.5)"/>
<rect x="-4.3" y="-11.8" width="8.7" height="23.6" rx="4.3" ry="2.6" fill="url(#c_lgray)" stroke="#5a5a5a" stroke-width="0.8" transform="translate(387.8 93.5) rotate(10.8)"/>
<rect x="-4.4" y="-10.3" width="8.7" height="20.5" rx="4.4" ry="2.6" fill="url(#c_lgray)" stroke="#5a5a5a" stroke-width="0.8" transform="translate(382.6 79.2) rotate(-12)"/>
<rect x="-4.9" y="-11.5" width="9.7" height="23.1" rx="4.9" ry="2.9" fill="url(#c_lgray)" stroke="#5a5a5a" stroke-width="0.8" transform="translate(403 65.2) rotate(66.8)"/>
<rect x="-4.8" y="-7.7" width="9.5" height="15.5" rx="4.8" ry="2.9" fill="url(#c_lgray)" stroke="#5a5a5a" stroke-width="0.8" transform="translate(357.2 45) rotate(42.7)"/>
<rect x="-4.6" y="-7.9" width="9.3" height="15.8" rx="4.6" ry="2.8" fill="url(#c_lgray)" stroke="#5a5a5a" stroke-width="0.8" transform="translate(369.1 112.8) rotate(52.8)"/>
<rect x="-4.9" y="-15.4" width="9.7" height="30.7" rx="4.9" ry="2.9" fill="url(#c_lgray)" stroke="#5a5a5a" stroke-width="0.8" transform="translate(404.9 116.6) rotate(59.2)"/>
<rect x="-4.9" y="-14.3" width="9.9" height="28.6" rx="4.9" ry="3" fill="url(#c_gray)" stroke="#4a4a4a" stroke-width="0.8" transform="translate(344.6 29.9) rotate(47.6)"/>
<rect x="-4.2" y="-13.1" width="8.4" height="26.2" rx="4.2" ry="2.5" fill="url(#c_gray)" stroke="#4a4a4a" stroke-width="0.8" transform="translate(379.2 117.7) rotate(45.7)"/>
<rect x="-4.8" y="-12.7" width="9.5" height="25.4" rx="4.8" ry="2.9" fill="url(#c_gray)" stroke="#4a4a4a" stroke-width="0.8" transform="translate(419.6 80.5) rotate(51.8)"/>
<path d="M378.8 50.2 C378 50.4 374.9 50.3 373.9 51.3 C372.9 52.3 373.4 54.6 373 56.2 C372.6 57.8 371 59.4 371.3 60.9 C371.5 62.3 373.1 64.3 374.4 64.7 C375.8 65.2 378.3 64.4 379.2 63.4 C380.2 62.4 379.7 60.1 380.3 58.5 C380.9 57 381.6 55.4 382.6 54.1 C383.5 52.7 384.9 51.7 386 50.5 C387.2 49.3 388.1 47.6 389.5 46.9 C390.9 46.1 392.8 46.2 394.4 46.1 C396.1 45.9 398.1 46.6 399.4 46 C400.8 45.4 402.3 43.7 402.8 42.3 C403.2 40.8 403 38.4 402.1 37.3 C401.2 36.3 398.1 36.2 397.3 36" fill="none" stroke="#5a5a5a" stroke-width="1.0"/>
<path d="M335.2 64.6 C336.1 64.5 338.8 63.2 340.1 63.7 C341.5 64.1 343.1 66.1 343.3 67.5 C343.5 68.9 342.2 70.6 341.4 72.1 C340.6 73.6 339.4 74.8 338.8 76.4 C338.1 77.9 338.1 79.6 337.7 81.2 C337.2 82.8 335.9 84.5 336.1 86 C336.3 87.5 337.9 88.9 339 90.1 C340.1 91.3 342 91.9 342.9 93.2 C343.8 94.6 343.3 97 344.4 98 C345.5 99 347.8 99.4 349.3 99.2 C350.8 98.9 352.9 97.8 353.5 96.6 C354.2 95.3 353.8 93.1 353.3 91.6 C352.8 90 351.2 88.9 350.6 87.4 C350 85.9 349.8 83.3 349.6 82.5" fill="none" stroke="#5a5a5a" stroke-width="1.0"/>
<path d="M341.5 29.4 C340.9 29.9 339.3 32 337.9 32.8 C336.5 33.7 333.2 33.9 333.2 34.5 C333.2 35.1 336.9 35.3 337.9 36.4 C338.8 37.5 338.8 39.6 339 41.3 C339.2 42.9 339.6 45.1 338.9 46.3 C338.1 47.4 335.6 47.3 334.3 48.4 C333.1 49.5 332 51 331.6 52.6 C331.1 54.1 331.2 57.4 331.7 57.6 C332.1 57.7 333.7 54.8 334.3 53.3 C335 51.8 334.6 49.6 335.6 48.5 C336.6 47.4 339.3 48 340.3 46.9 C341.4 45.8 341.4 43.7 341.9 42.2 C342.4 40.6 343.8 38.8 343.5 37.4 C343.2 36.1 340.6 34.5 340 33.9" fill="none" stroke="#5a5a5a" stroke-width="1.0"/>
<path d="M369.4 100.1 C368.9 99.4 366.6 97.4 366.5 96 C366.4 94.6 367.7 92.7 368.9 91.6 C370 90.6 372.7 90.8 373.5 89.6 C374.2 88.5 374.2 85.9 373.5 84.6 C372.8 83.4 370.5 83.2 369 82.4 C367.6 81.6 366.1 80.9 364.7 80 C363.3 79.1 361.2 78.4 360.6 77.1 C360 75.8 360.9 73.7 361.3 72.1 C361.8 70.5 362.5 69 363.4 67.5 C364.2 66.1 365.3 64.8 366.3 63.5 C367.3 62.2 368.2 60.7 369.4 59.6 C370.6 58.4 371.9 56.9 373.4 56.6 C374.9 56.3 376.9 58 378.3 57.6 C379.7 57.2 381.3 54.7 381.9 54.1" fill="none" stroke="#5a5a5a" stroke-width="1.0"/>
<path d="M414 67.7 C413.6 68.4 411.6 70.5 411.5 72.1 C411.4 73.6 413.5 75.2 413.4 76.7 C413.3 78.2 412 79.8 411 81.1 C410.1 82.5 408.4 83.4 407.6 84.8 C406.8 86.2 407.2 88.3 406.3 89.6 C405.5 90.9 403.8 91.8 402.4 92.7 C401 93.6 399.4 94 397.9 94.8 C396.4 95.6 394.9 96.3 393.5 97.2 C392.1 98.2 391.1 99.8 389.6 100.4 C388.1 101 386.3 101.1 384.7 100.9 C383 100.8 381.4 99.5 379.9 99.5 C378.3 99.6 376.6 100.5 375.2 101.4 C373.9 102.4 372.7 103.7 371.9 105.1 C371 106.5 370.5 109 370.2 109.8" fill="none" stroke="#5a5a5a" stroke-width="1.0"/>
<path d="M344.3 39.8 C343.5 40.2 341 41 339.8 42 C338.5 43.1 338 45 336.8 46 C335.5 47 333 46.7 332.1 47.8 C331.2 48.9 331.2 51.1 331.4 52.8 C331.6 54.4 332.3 57.3 333.1 57.5 C333.9 57.6 336 55.1 336.3 53.7 C336.7 52.2 334.4 49.5 335.1 48.8 C335.7 48.2 338.6 50.1 340 49.6 C341.4 49.1 342.2 47.1 343.3 45.9 C344.5 44.7 345.7 43.5 346.9 42.4 C348.1 41.3 349.3 39.4 350.7 39.2 C352.1 38.9 354.1 40 355.4 40.9 C356.6 41.9 357.4 43.6 358.2 45.1 C359 46.5 359.8 48.9 360.1 49.7" fill="none" stroke="#5a5a5a" stroke-width="1.0"/>
<path d="M416.7 42.8 C416.4 43.6 416.2 46.6 415.1 47.5 C414.1 48.5 411.8 47.9 410.2 48.5 C408.6 49 407.3 50 405.7 50.7 C404.2 51.3 402.6 52.5 401.1 52.4 C399.5 52.4 398 50.3 396.5 50.4 C395 50.4 392.8 51.6 392.1 52.8 C391.4 54 392.6 56.2 392.2 57.8 C391.9 59.4 390.5 60.7 390.1 62.3 C389.8 63.9 390.8 66.1 390.1 67.3 C389.3 68.5 387.1 69.3 385.5 69.5 C384 69.6 382.3 68.3 380.7 68.2 C379.1 68.2 377.4 69.3 375.8 69.1 C374.2 68.9 372.2 68.2 371.2 67.1 C370.2 65.9 370.1 63 369.9 62.2" fill="none" stroke="#5a5a5a" stroke-width="1.0"/>
<path d="M241.4 70 C240.6 69.7 237.9 69.3 236.8 68.2 C235.6 67.1 234.6 65.1 234.7 63.7 C234.8 62.2 236.7 59.2 237.1 59.3 C237.5 59.4 236.4 63 237.1 64.3 C237.8 65.6 239.9 66.1 241.3 67 C242.7 67.9 244.9 68.5 245.5 69.7 C246.1 71 245.3 73.1 245 74.7 C244.7 76.3 244.6 78.3 243.6 79.5 C242.6 80.7 240.5 81.9 239.1 81.7 C237.7 81.6 236.6 79.3 235.1 78.7 C233.6 78.2 231.8 78.3 230.1 78.4 C228.5 78.5 226.8 79.1 225.2 79.2 C223.5 79.2 221.4 79.5 220.2 78.7 C219 77.9 218.5 74.9 218.2 74.1" fill="none" stroke="#3a7a3a" stroke-width="1.2"/>
<path d="M214.6 73.4 C215 74 216.3 76.3 217.5 77.4 C218.7 78.5 220.4 79 221.8 80 C223.1 80.9 224.4 82.1 225.7 83.1 C227 84.1 228.3 85.1 229.6 86.2 C230.9 87.2 232.5 88.2 233.3 89.5 C234.2 90.9 234.2 92.7 234.7 94.3 C235.2 95.9 235.3 98.1 236.4 99 C237.4 100 241 100.6 241.2 100.3 C241.4 99.9 237.8 98.4 237.3 97.1 C236.9 95.8 238.3 93.8 238.3 92.2 C238.4 90.6 238.5 88.3 237.5 87.3 C236.6 86.2 234.1 86.8 232.7 86 C231.4 85.1 230.7 82.7 229.3 82.3 C227.9 81.9 225.3 83.3 224.5 83.5" fill="none" stroke="#3a7a3a" stroke-width="1.2"/>
<path d="M211.3 79.1 C210.5 79.5 208.3 80.7 206.8 81.5 C205.4 82.2 203.8 83.7 202.3 83.6 C200.9 83.5 198.8 82.3 198 81.1 C197.2 79.9 197.5 77.8 197.3 76.1 C197.2 74.5 197.5 72.8 197.2 71.1 C196.9 69.5 195.1 67.8 195.4 66.5 C195.8 65.1 198.3 64.5 199.2 63.1 C200.1 61.8 200.7 60 200.8 58.4 C200.9 56.8 199.5 55 199.8 53.5 C200 52 202.3 49.2 202.2 49.1 C202.1 49.1 199.9 51.7 199.2 53.1 C198.5 54.6 198.6 56.4 198.1 58 C197.5 59.6 197.2 61.7 196 62.5 C194.8 63.4 191.8 63 191 63.1" fill="none" stroke="#3a7a3a" stroke-width="1.2"/>
<path d="M220.9 129.9 C220.1 130 217.3 131.2 216 130.6 C214.6 130.1 213.8 128.1 212.9 126.7 C212 125.3 211.3 123.7 210.6 122.2 C209.9 120.7 208.6 119.1 208.7 117.6 C208.8 116.1 210.1 114.2 211.3 113.3 C212.6 112.5 214.9 113.3 216.3 112.5 C217.6 111.7 218.1 109.7 219.3 108.5 C220.4 107.3 221.9 106.5 223.2 105.4 C224.4 104.3 225.5 103 226.6 101.8 C227.7 100.5 228.5 98.8 229.8 97.9 C231.2 97.1 233.7 97.8 234.7 96.8 C235.7 95.8 235.5 93.6 235.8 91.9 C236.1 90.3 235.9 88.4 236.6 87 C237.3 85.6 239.5 84 240.1 83.4" fill="none" stroke="#3a7a3a" stroke-width="1.2"/>
<path d="M172 50.6 C172.3 49.8 173.3 45.8 173.6 45.9 C174 45.9 173.7 49.2 174 50.9 C174.4 52.5 175.5 53.9 175.8 55.5 C176.1 57.1 176.7 59.3 176 60.5 C175.3 61.7 173.1 62.2 171.5 62.8 C170 63.4 166.7 64.1 166.7 64.1 C166.7 64 169.8 62.9 171.4 62.3 C172.9 61.7 174.4 60.2 175.9 60.2 C177.5 60.2 178.9 61.8 180.5 62.2 C182.1 62.6 184.1 62 185.5 62.7 C186.9 63.4 188.4 65.1 188.7 66.5 C189 68 187.4 69.7 187.1 71.3 C186.7 72.9 186.8 74.6 186.4 76.2 C185.9 77.8 184.7 80 184.3 80.8" fill="none" stroke="#3a7a3a" stroke-width="1.2"/>
<path d="M205.7 108.7 C206.4 108.2 209.1 107.3 209.9 106 C210.7 104.7 209.6 102.3 210.4 101 C211.2 99.8 213.1 98.9 214.7 98.6 C216.3 98.2 218.4 99.5 219.7 98.8 C221 98.2 221.4 95.7 222.6 94.8 C223.9 93.9 225.8 93.7 227.4 93.2 C229 92.7 230.8 92.5 232.1 91.6 C233.4 90.7 234.1 88.9 235.1 87.6 C236.1 86.3 238 85.1 238.2 83.6 C238.3 82.2 237.3 80 236.1 79.1 C234.9 78.2 232.7 77.7 231.2 78 C229.7 78.4 228.7 80.8 227.3 81.1 C225.8 81.4 224 80.4 222.5 79.7 C221 79 219 77.3 218.3 76.9" fill="none" stroke="#3a7a3a" stroke-width="1.2"/>
<path d="M237.3 125 C236.9 125.7 235.5 127.8 234.9 129.4 C234.4 130.9 234.1 134.3 234 134.3 C233.8 134.3 234.4 130.9 234 129.3 C233.7 127.7 232.8 126 231.7 124.9 C230.6 123.7 228.7 123.3 227.3 122.5 C225.9 121.6 224.4 120.9 223.1 119.8 C221.8 118.8 221 116.9 219.6 116.3 C218.1 115.6 215.8 115.3 214.6 116 C213.3 116.7 212.8 118.8 212.2 120.4 C211.6 121.9 210.5 123.8 210.9 125.2 C211.3 126.6 213.9 127.2 214.6 128.6 C215.3 129.9 215 131.9 215.1 133.5 C215.2 135.2 214.3 137.4 215 138.5 C215.7 139.7 218.8 140.2 219.6 140.6" fill="none" stroke="#3a7a3a" stroke-width="1.2"/>
<path d="M203 89.6 C203.8 89.6 206.7 88.8 208 89.5 C209.3 90.2 209.5 93 210.8 93.6 C212.1 94.3 214.3 93 215.8 93.4 C217.4 93.8 218.5 95.4 220 96.1 C221.5 96.8 223.3 96.9 224.8 97.6 C226.2 98.4 227.6 99.5 228.7 100.7 C229.9 101.9 230.6 103.5 231.7 104.8 C232.8 106 234.2 107 235.3 108.2 C236.4 109.4 238.6 111.7 238.3 112.2 C238 112.6 235.1 111.3 233.5 110.9 C231.9 110.5 229.9 110.7 228.6 109.8 C227.4 108.8 227.5 106.3 226.3 105.4 C225 104.5 222.7 103.9 221.4 104.4 C220 104.8 218.5 107.5 218 108.1" fill="none" stroke="#3a7a3a" stroke-width="1.2"/>
<path d="M174.3 107.2 C174.9 107.7 177.3 109 178.2 110.3 C179 111.7 179 113.6 179.1 115.3 C179.2 116.9 178.4 118.7 178.8 120.2 C179.2 121.8 180.1 123.9 181.4 124.5 C182.7 125.2 185.1 124.9 186.4 124.2 C187.7 123.4 188 120.7 189.3 120.1 C190.6 119.5 193 119.8 194.3 120.5 C195.6 121.3 196.1 123.4 197.3 124.5 C198.5 125.6 200 126.5 201.6 127.1 C203.1 127.7 205.1 128.5 206.5 128.1 C207.9 127.7 209.7 126 210.1 124.6 C210.4 123.2 208.4 121.2 208.8 119.8 C209.1 118.4 212 117.7 212.4 116.3 C212.7 114.9 211.2 112.3 210.9 111.5" fill="none" stroke="#3a7a3a" stroke-width="1.2"/>
<path d="M220.2 68.6 C219.5 69 217.4 71.1 215.9 71.1 C214.4 71.2 212.8 69.8 211.3 69 C209.9 68.3 208.6 67 207.1 66.4 C205.6 65.8 203.8 65.3 202.2 65.4 C200.6 65.4 199 66.2 197.4 66.6 C195.8 67.1 193.8 67.1 192.6 68 C191.3 69 191.2 71.6 189.9 72.3 C188.7 73 186.5 72.6 184.9 72.2 C183.3 71.9 181.6 71.2 180.4 70.2 C179.1 69.1 178.4 67.5 177.5 66.1 C176.6 64.7 175 63.3 174.9 61.8 C174.8 60.3 176.8 58.8 177 57.3 C177.2 55.7 176.8 53.9 176.2 52.3 C175.7 50.8 174.2 48.7 173.8 47.9" fill="none" stroke="#3a7a3a" stroke-width="1.2"/>
<path d="M189.9 91.4 C189.6 90.6 187.9 88 188.2 86.7 C188.5 85.3 191.4 84.6 191.8 83.2 C192.3 81.8 191.1 80 190.9 78.3 C190.6 76.7 189.8 74.9 190.2 73.4 C190.5 71.9 192.5 70.8 193 69.3 C193.6 67.8 192.9 65.8 193.5 64.3 C194 62.8 196.3 61.6 196.4 60.2 C196.5 58.8 193.9 57.4 193.9 55.9 C193.9 54.5 196.3 53 196.4 51.5 C196.5 50 195.6 48 194.6 46.9 C193.6 45.7 191.7 44.3 190.3 44.4 C188.9 44.5 187.7 46.8 186.2 47.3 C184.7 47.8 182.8 47.1 181.2 47.3 C179.5 47.6 177.2 48.5 176.4 48.7" fill="none" stroke="#3a7a3a" stroke-width="1.2"/>
<path d="M175.5 83.3 C176.3 83.7 178.5 85.5 180 85.5 C181.5 85.6 183 84 184.6 83.5 C186.1 82.9 188.1 81.8 189.4 82.3 C190.7 82.8 192.1 84.8 192.4 86.3 C192.7 87.8 192 89.8 191.3 91.2 C190.5 92.6 188.2 93.4 187.8 94.8 C187.5 96.3 188.4 98.2 189 99.7 C189.6 101.2 190.3 103.4 191.5 104 C192.8 104.6 195.2 104.1 196.5 103.2 C197.7 102.4 197.7 99.8 199 98.9 C200.2 98 202.6 97.4 203.9 98 C205.2 98.5 205.4 101.3 206.7 102.2 C207.9 103 210.1 103.2 211.6 102.9 C213.1 102.6 215.1 100.6 215.8 100.2" fill="none" stroke="#3a7a3a" stroke-width="1.2"/>
<rect x="-4.5" y="-7" width="8.9" height="14.1" rx="4.5" ry="2.7" fill="url(#c_lgreen)" stroke="#3a7a3a" stroke-width="0.8" transform="translate(203.3 111.4) rotate(12.7)"/>
<rect x="-4.1" y="-8" width="8.1" height="15.9" rx="4.1" ry="2.4" fill="url(#c_lgreen)" stroke="#3a7a3a" stroke-width="0.8" transform="translate(235.4 120.6) rotate(3.1)"/>
<rect x="-4.8" y="-8" width="9.5" height="16" rx="4.8" ry="2.9" fill="url(#c_lgreen)" stroke="#3a7a3a" stroke-width="0.8" transform="translate(210.2 79.8) rotate(-24)"/>
<rect x="-4.6" y="-7.9" width="9.2" height="15.7" rx="4.6" ry="2.8" fill="url(#c_lgreen)" stroke="#3a7a3a" stroke-width="0.8" transform="translate(224.2 96.9) rotate(17.9)"/>
<rect x="-4.9" y="-7.4" width="9.8" height="14.8" rx="4.9" ry="2.9" fill="url(#c_lgreen)" stroke="#3a7a3a" stroke-width="0.8" transform="translate(172.8 97.1) rotate(31)"/>
<rect x="-4.1" y="-9.9" width="8.3" height="19.8" rx="4.1" ry="2.5" fill="url(#c_lgreen)" stroke="#3a7a3a" stroke-width="0.8" transform="translate(183.9 133.8) rotate(14.4)"/>
<rect x="-4.8" y="-9.5" width="9.6" height="19.1" rx="4.8" ry="2.9" fill="url(#c_lgreen)" stroke="#3a7a3a" stroke-width="0.8" transform="translate(194.6 148) rotate(43)"/>
<rect x="-4.6" y="-14.3" width="9.3" height="28.7" rx="4.6" ry="2.8" fill="url(#c_lgreen)" stroke="#3a7a3a" stroke-width="0.8" transform="translate(191.9 121.5) rotate(-27.5)"/>
<rect x="-4.3" y="-6.5" width="8.6" height="13" rx="4.3" ry="2.6" fill="url(#c_lgreen)" stroke="#3a7a3a" stroke-width="0.8" transform="translate(228.7 59) rotate(-32)"/>
<rect x="-4.5" y="-7.5" width="9" height="15.1" rx="4.5" ry="2.7" fill="url(#c_lgreen)" stroke="#3a7a3a" stroke-width="0.8" transform="translate(241.9 61.3) rotate(-34.1)"/>
<rect x="-4.1" y="-7.2" width="8.3" height="14.5" rx="4.1" ry="2.5" fill="url(#c_lgreen)" stroke="#3a7a3a" stroke-width="0.8" transform="translate(179.5 108.1) rotate(-10.4)"/>
<rect x="-4.5" y="-13.1" width="9.1" height="26.2" rx="4.5" ry="2.7" fill="url(#c_lgreen)" stroke="#3a7a3a" stroke-width="0.8" transform="translate(209.1 145.5) rotate(36.3)"/>
<rect x="-4.2" y="-6.4" width="8.5" height="12.9" rx="4.2" ry="2.5" fill="url(#c_lgreen)" stroke="#3a7a3a" stroke-width="0.8" transform="translate(207.8 124.9) rotate(-29.6)"/>
<rect x="-4" y="-6.4" width="8" height="12.9" rx="4" ry="2.4" fill="url(#c_lgreen)" stroke="#3a7a3a" stroke-width="0.8" transform="translate(236.2 93.6) rotate(-36.2)"/>
<rect x="-4.5" y="-9.1" width="9" height="18.2" rx="4.5" ry="2.7" fill="url(#c_lgreen)" stroke="#3a7a3a" stroke-width="0.8" transform="translate(211.8 66.6) rotate(-9.6)"/>
<rect x="-4.1" y="-11.3" width="8.3" height="22.5" rx="4.1" ry="2.5" fill="url(#c_lgreen)" stroke="#3a7a3a" stroke-width="0.8" transform="translate(190.3 84.7) rotate(35.4)"/>
<rect x="-4.4" y="-10.7" width="8.7" height="21.5" rx="4.4" ry="2.6" fill="url(#c_lgreen)" stroke="#3a7a3a" stroke-width="0.8" transform="translate(187.9 110.8) rotate(39.9)"/>
<rect x="-4.5" y="-6.3" width="9" height="12.7" rx="4.5" ry="2.7" fill="url(#c_lgreen)" stroke="#3a7a3a" stroke-width="0.8" transform="translate(167.3 61.2) rotate(-27.3)"/>
<rect x="-4.7" y="-14.6" width="9.4" height="29.2" rx="4.7" ry="2.8" fill="url(#c_lgreen)" stroke="#3a7a3a" stroke-width="0.8" transform="translate(239.5 76.9) rotate(22.2)"/>
<rect x="-4.5" y="-8.9" width="9.1" height="17.7" rx="4.5" ry="2.7" fill="url(#c_lgreen)" stroke="#3a7a3a" stroke-width="0.8" transform="translate(196.8 99) rotate(26)"/>
<rect x="-4.3" y="-8.6" width="8.6" height="17.1" rx="4.3" ry="2.6" fill="url(#c_lgreen)" stroke="#3a7a3a" stroke-width="0.8" transform="translate(175.9 77.4) rotate(-13.7)"/>
<rect x="-4.8" y="-12.8" width="9.6" height="25.5" rx="4.8" ry="2.9" fill="url(#c_lgreen)" stroke="#3a7a3a" stroke-width="0.8" transform="translate(223.8 114.1) rotate(13.6)"/>
<rect x="-4.9" y="-9.2" width="9.8" height="18.5" rx="4.9" ry="3" fill="url(#c_lgreen)" stroke="#3a7a3a" stroke-width="0.8" transform="translate(229.3 86.7) rotate(-26.9)"/>
<rect x="-4.3" y="-6.2" width="8.6" height="12.4" rx="4.3" ry="2.6" fill="url(#c_lgreen)" stroke="#3a7a3a" stroke-width="0.8" transform="translate(179.7 55.9) rotate(-43.5)"/>
<rect x="-4.1" y="-6.8" width="8.1" height="13.6" rx="4.1" ry="2.4" fill="url(#c_lgreen)" stroke="#3a7a3a" stroke-width="0.8" transform="translate(193.3 136.9) rotate(13.9)"/>
<rect x="-4.3" y="-10.3" width="8.5" height="20.6" rx="4.3" ry="2.6" fill="url(#c_lgreen)" stroke="#3a7a3a" stroke-width="0.8" transform="translate(206.5 93.4) rotate(42.3)"/>
<path d="M199.4 116.6 C199.4 115.8 199.9 113.2 199.6 111.6 C199.3 110 197.4 108.5 197.5 107.1 C197.7 105.6 200 104.5 200.4 103 C200.8 101.5 200.5 99.4 199.8 98 C199 96.7 197.3 95.4 195.8 95 C194.3 94.5 192.3 96 190.8 95.5 C189.4 95.1 187.6 93.6 187.1 92.2 C186.6 90.8 188.3 88.6 187.8 87.3 C187.3 85.9 185.5 84.6 184 84 C182.6 83.3 180.7 83.4 179.1 83.3 C177.4 83.3 175.2 83 174.1 83.8 C173 84.7 173.3 87.2 172.5 88.6 C171.6 90 168.8 91.3 169 92.2 C169.2 93.1 172.9 93.6 173.7 93.9" fill="none" stroke="#3a7a3a" stroke-width="1.0"/>
<path d="M176.8 70.3 C176.4 71 174.1 73 174.1 74.5 C174 75.9 176.2 77.3 176.5 78.8 C176.8 80.4 176.8 82.5 176 83.8 C175.2 85 173.1 86.3 171.7 86.3 C170.2 86.3 167.5 83.6 167.4 83.7 C167.3 83.8 170.1 85.8 171.1 87.1 C172 88.5 172 90.5 173.1 91.7 C174.1 92.9 175.8 94.3 177.2 94.4 C178.7 94.6 180.4 93.1 182 92.8 C183.6 92.6 185.6 93.8 187 93.2 C188.3 92.7 188.7 90 190.1 89.3 C191.4 88.6 193.5 89.5 195.1 89.1 C196.6 88.6 197.9 87.3 199.3 86.5 C200.8 85.6 202.9 84.3 203.7 83.9" fill="none" stroke="#3a7a3a" stroke-width="1.0"/>
<path d="M208 121.6 C207.9 120.7 207.3 118.2 207.3 116.6 C207.4 115 208.6 113.4 208.6 111.8 C208.6 110.2 207.8 108.5 207.2 107 C206.6 105.4 206 103.8 205.1 102.4 C204.2 101 203.2 99.2 201.8 98.6 C200.5 98 198.3 98.3 196.9 98.9 C195.4 99.6 194.8 101.9 193.4 102.5 C192 103.2 190 103 188.4 102.7 C186.8 102.5 184.7 102.2 183.7 101.1 C182.7 100 182.4 97.9 182.3 96.3 C182.1 94.7 182.7 93 182.8 91.3 C182.9 89.7 183.4 87.8 182.9 86.3 C182.5 84.8 181 83.6 180 82.3 C179.1 80.9 177.5 79 177 78.3" fill="none" stroke="#3a7a3a" stroke-width="1.0"/>
<path d="M173.2 101.9 C172.4 101.6 169.4 101.4 168.5 100.4 C167.5 99.3 167.1 95.7 167.5 95.5 C167.9 95.3 169.5 98.4 170.9 99.1 C172.3 99.8 174.7 98.8 175.9 99.6 C177 100.4 176.8 103.4 178 104.1 C179.2 104.8 181.3 103.9 183 103.9 C184.7 103.8 186.7 104.6 188 103.9 C189.3 103.2 190.8 101.1 190.8 99.7 C190.8 98.4 189.3 96.2 188 95.6 C186.7 95 184.7 95.8 183 96.2 C181.4 96.5 179.8 97.2 178.2 97.6 C176.6 97.9 174.9 98.4 173.3 98.3 C171.6 98.2 168.4 97.5 168.4 97.2 C168.4 96.8 172.5 96.3 173.3 96.1" fill="none" stroke="#3a7a3a" stroke-width="1.0"/>
<path d="M183.2 129 C182.6 129.6 180.9 131.4 179.6 132.5 C178.3 133.5 176.3 134 175.5 135.3 C174.6 136.6 174 138.8 174.5 140.2 C175 141.5 177.3 142.1 178.4 143.3 C179.4 144.6 179.9 147.6 180.8 147.7 C181.7 147.7 182.5 144.7 183.6 143.5 C184.7 142.3 186.9 141.7 187.5 140.3 C188 139 187.6 136.8 186.9 135.4 C186.2 134 184.6 132.8 183.2 132 C181.8 131.2 179.9 130.4 178.4 130.6 C176.9 130.9 174.1 133.1 174.3 133.5 C174.4 133.9 177.6 133.1 179.3 133.1 C180.9 133.2 183.1 133 184.2 133.9 C185.4 134.8 185.8 137.7 186.1 138.5" fill="none" stroke="#3a7a3a" stroke-width="1.0"/>
<path d="M219.9 105.4 C219.7 106.2 218.4 109 219 110.3 C219.5 111.6 222.1 111.8 223.2 113 C224.2 114.2 224.3 116.2 225.3 117.6 C226.2 118.9 227.3 120.8 228.7 121.2 C230 121.7 231.9 120.1 233.5 120.1 C235.2 120.1 238.2 121.6 238.4 121.2 C238.7 120.8 235.4 118.9 235 117.5 C234.6 116.1 236.5 113.9 236 112.6 C235.4 111.3 233.4 109.8 232 109.6 C230.5 109.4 228.9 111.5 227.3 111.5 C225.8 111.5 224.3 109.4 222.8 109.5 C221.3 109.5 219.8 111.9 218.3 111.8 C216.9 111.7 215.7 109.8 214.2 108.9 C212.8 108.1 210.5 107 209.8 106.7" fill="none" stroke="#3a7a3a" stroke-width="1.0"/>
<path d="M321 44.7 C320.8 43.9 319.9 41.5 319.5 39.9 C319.2 38.3 319.6 36.3 318.9 34.9 C318.1 33.6 315.7 31.4 315.1 31.7 C314.5 31.9 315 35 315.2 36.7 C315.4 38.3 315.6 40.1 316.4 41.5 C317.1 43 318.3 44.5 319.7 45.3 C321.1 46 323.5 45 324.7 45.9 C325.8 46.8 326.7 49.3 326.4 50.6 C326.1 52 324.1 53.2 322.7 54 C321.3 54.8 319.3 54.7 318 55.6 C316.6 56.4 315.7 58.1 314.3 59 C313 60 311.4 60.9 309.8 61.1 C308.2 61.3 306.1 59.9 304.8 60.5 C303.5 61 302.4 63.8 301.9 64.5" fill="none" stroke="#083e08" stroke-width="1.2"/>
<path d="M283.4 112.9 C283.2 112.1 282.3 109.6 282.3 108 C282.4 106.4 283.6 104.8 283.7 103.2 C283.8 101.6 283.8 99.6 283.1 98.2 C282.4 96.8 280.7 95.9 279.5 94.8 C278.3 93.6 277 92.6 275.8 91.4 C274.6 90.2 273.9 88.4 272.5 87.6 C271.1 86.8 268.9 87.5 267.6 86.6 C266.4 85.7 266.3 83 265 82.3 C263.8 81.6 261.4 81.7 260 82.4 C258.7 83.1 257.3 84.9 257 86.4 C256.7 87.8 258 89.6 258.1 91.2 C258.2 92.9 257 94.9 257.6 96.2 C258.2 97.5 260.7 97.7 261.7 99 C262.7 100.2 263.3 102.8 263.6 103.6" fill="none" stroke="#083e08" stroke-width="1.2"/>
<path d="M283.6 135.7 C283.8 136.5 285.2 139 285 140.5 C284.8 142 282 144.4 282.2 144.7 C282.5 144.9 285 142.8 286.5 142.1 C288 141.4 289.7 141 291.2 140.4 C292.8 139.8 294.4 139.4 295.9 138.7 C297.4 137.9 299.4 137.3 300.2 136 C300.9 134.7 299.9 132.6 300.2 131 C300.6 129.4 302.2 128.1 302.4 126.5 C302.6 124.9 302.1 123.1 301.5 121.6 C300.9 120.1 299.9 118.3 298.6 117.5 C297.3 116.7 295.3 117.1 293.7 116.8 C292 116.5 290.2 116.4 288.8 115.6 C287.4 114.8 286 113.4 285.3 112 C284.6 110.6 284.7 107.9 284.6 107.1" fill="none" stroke="#083e08" stroke-width="1.2"/>
<path d="M314.8 65.8 C315.6 65.7 318.3 65.6 319.7 64.8 C321 64 321.6 62 322.9 61 C324.1 59.9 326.6 59.6 327.2 58.3 C327.7 57.1 326.4 55.1 326.4 53.4 C326.4 51.8 327.6 49.8 327 48.5 C326.5 47.1 324.5 46 323 45.5 C321.5 45.1 319.5 45.4 318 46 C316.5 46.5 315.3 47.9 314.1 49.1 C312.9 50.2 311.5 51.4 310.8 52.9 C310.1 54.3 309.5 56.4 309.9 57.8 C310.4 59.2 312.2 60.3 313.4 61.4 C314.7 62.5 316.8 63 317.4 64.4 C318.1 65.7 317.9 68 317.2 69.4 C316.5 70.7 313.9 71.9 313.3 72.4" fill="none" stroke="#083e08" stroke-width="1.2"/>
<path d="M255.7 70.2 C256.4 69.7 258.4 68.1 260 67.6 C261.5 67 263.3 66.7 264.9 66.7 C266.5 66.7 268.6 66.7 269.8 67.7 C271 68.6 271.4 70.6 271.9 72.2 C272.5 73.7 272.4 75.5 272.9 77.1 C273.3 78.7 274.3 80.2 274.6 81.8 C275 83.4 275.4 85.2 275.1 86.8 C274.8 88.3 274.2 90.5 273 91.3 C271.8 92.1 269.6 91.9 268 91.7 C266.4 91.4 265 90.2 263.4 89.8 C261.8 89.3 258.5 89.1 258.5 89.1 C258.4 89.2 261.8 90.3 263.4 90.1 C264.9 89.8 266.3 88.4 267.6 87.5 C269 86.5 270.7 84.7 271.4 84.1" fill="none" stroke="#083e08" stroke-width="1.2"/>
<path d="M263.5 90.6 C263.5 91.4 263 94.2 263.6 95.6 C264.2 97 266.7 97.7 267.1 99.1 C267.6 100.5 266.4 102.3 266.2 104 C266 105.6 265.7 107.4 265.9 109 C266.2 110.6 267.9 112.4 267.5 113.7 C267.2 115.1 264.7 115.7 263.8 117.1 C262.9 118.4 263.2 120.9 262.1 121.8 C261 122.6 257.2 122 257.2 122.2 C257.1 122.5 260.4 123 262.1 123.1 C263.7 123.1 265.4 122.8 267.1 122.5 C268.7 122.3 271 122.6 272 121.7 C273 120.7 272 117.7 273 116.8 C274 115.8 276.5 115.4 277.9 115.9 C279.3 116.3 280.7 118.9 281.3 119.5" fill="none" stroke="#083e08" stroke-width="1.2"/>
<path d="M323.8 93.2 C323 93.4 320.6 94.7 319 94.6 C317.5 94.6 316 93.2 314.3 92.9 C312.7 92.7 310.8 92.5 309.3 93.1 C307.9 93.6 306 95 305.6 96.4 C305.1 97.7 305.6 100.2 306.5 101.3 C307.4 102.4 309.7 103.2 311.2 103 C312.6 102.9 313.8 100.6 315.3 100.3 C316.9 100 319.2 100.2 320.3 101.1 C321.3 102.1 320.8 104.6 321.7 105.9 C322.6 107.2 324.4 107.9 325.6 109 C326.8 110.2 327.6 111.7 328.8 112.8 C330 114 331.9 114.6 332.7 116 C333.6 117.3 334.4 120.6 334.1 120.8 C333.9 120.9 331.8 117.3 331.3 116.6" fill="none" stroke="#083e08" stroke-width="1.2"/>
<path d="M260.7 120.8 C260.4 121.5 258.6 125.3 258.4 125.2 C258.3 125.2 259.2 122 259.8 120.4 C260.4 118.9 261.6 117.5 262 115.9 C262.3 114.3 261.5 112.4 262 110.9 C262.5 109.4 263.6 107.3 264.9 106.8 C266.2 106.3 268.2 107.7 269.8 107.8 C271.5 107.8 273.7 108 274.8 107.1 C275.9 106.3 276.5 104 276.5 102.5 C276.5 100.9 275.6 99.3 274.9 97.7 C274.3 96.2 273.3 94.8 272.6 93.3 C272 91.7 271.7 90.1 271.1 88.5 C270.6 86.9 270.2 85.2 269.3 83.9 C268.4 82.5 267 81.4 265.7 80.4 C264.4 79.4 262.1 78.2 261.4 77.8" fill="none" stroke="#083e08" stroke-width="1.2"/>
<path d="M323.2 84.5 C323.4 83.7 323.6 80.9 324.5 79.6 C325.5 78.4 327.3 77.7 328.9 77.1 C330.4 76.5 333.5 76.9 333.8 76.1 C334 75.3 331.9 73.1 330.6 72.2 C329.2 71.4 327.3 71.7 325.7 71.1 C324.1 70.5 322.4 69.9 321.2 68.8 C320.1 67.7 319.8 65.7 318.7 64.5 C317.6 63.3 315.9 62.7 314.6 61.7 C313.2 60.7 312.1 58.9 310.6 58.7 C309.2 58.5 307.5 59.9 305.9 60.4 C304.4 60.9 302.5 60.8 301.1 61.6 C299.7 62.4 299 64.5 297.6 65.2 C296.2 65.9 294.1 66.4 292.7 65.9 C291.3 65.4 289.8 62.9 289.2 62.2" fill="none" stroke="#083e08" stroke-width="1.2"/>
<path d="M273.7 47 C274.6 46.9 277.1 46.8 278.7 46.6 C280.4 46.3 282.1 45 283.6 45.3 C285 45.6 286.3 47.2 287.5 48.4 C288.7 49.5 290.4 50.8 290.7 52.2 C290.9 53.7 289.9 55.5 289.2 57 C288.5 58.5 286.9 59.7 286.5 61.3 C286.2 62.8 287.6 64.7 287.3 66.2 C287 67.7 286 69.9 284.7 70.5 C283.5 71.1 281.1 69.2 279.8 69.7 C278.4 70.3 277.7 72.3 276.6 73.6 C275.6 74.9 273.8 76 273.4 77.5 C273.1 78.9 273.7 81.2 274.7 82.3 C275.6 83.5 278.4 83.2 279.2 84.4 C280.1 85.5 279.7 88.5 279.7 89.3" fill="none" stroke="#083e08" stroke-width="1.2"/>
<path d="M332.8 143.9 C332.1 143.5 330.1 141.5 328.6 141.3 C327.1 141.1 325.3 142 323.8 142.8 C322.3 143.5 321.2 145 319.7 145.6 C318.2 146.2 316 146.7 314.7 146.1 C313.4 145.5 313.2 142.7 311.9 142 C310.5 141.3 308.5 142 306.9 142 C305.2 142 303.4 142.3 301.9 142 C300.3 141.6 298.8 140.6 297.3 139.8 C295.9 139 294.6 137.9 293.1 137.3 C291.5 136.6 289.6 135.6 288.2 136 C286.8 136.4 286.1 138.9 284.7 139.6 C283.3 140.2 280.8 139.1 279.7 140 C278.6 140.8 278.4 144.7 278 144.6 C277.5 144.6 277.2 140.6 277.1 139.7" fill="none" stroke="#083e08" stroke-width="1.2"/>
<path d="M258.4 107.7 C258.8 108.4 259.9 111.1 261.3 111.8 C262.6 112.5 264.6 111.7 266.3 111.8 C267.9 111.8 269.7 112.4 271.3 112.1 C272.9 111.9 275 111.4 275.9 110.2 C276.8 109.1 276.6 107 276.6 105.3 C276.6 103.6 275.9 101.9 276.1 100.3 C276.3 98.7 276.6 96.6 277.7 95.6 C278.8 94.6 280.9 94.1 282.5 94.2 C284.1 94.3 285.5 95.8 287.1 96.1 C288.7 96.4 290.5 95.9 292.1 95.8 C293.8 95.7 295.4 95.4 297.1 95.3 C298.8 95.2 300.4 95.2 302.1 95.3 C303.7 95.5 305.5 96.6 307 96.3 C308.5 95.9 310.4 93.9 311.1 93.4" fill="none" stroke="#083e08" stroke-width="1.2"/>
<rect x="-4.1" y="-11.8" width="8.2" height="23.7" rx="4.1" ry="2.5" fill="url(#c_dgreen)" stroke="#083e08" stroke-width="0.8" transform="translate(309.3 61.5) rotate(49.3)"/>
<rect x="-4.1" y="-10.7" width="8.2" height="21.3" rx="4.1" ry="2.5" fill="url(#c_dgreen)" stroke="#083e08" stroke-width="0.8" transform="translate(304.4 118.8) rotate(43)"/>
<rect x="-4.4" y="-7.9" width="8.8" height="15.9" rx="4.4" ry="2.6" fill="url(#c_dgreen)" stroke="#083e08" stroke-width="0.8" transform="translate(303.9 99.4) rotate(28.4)"/>
<rect x="-4.1" y="-7.2" width="8.2" height="14.3" rx="4.1" ry="2.5" fill="url(#c_dgreen)" stroke="#083e08" stroke-width="0.8" transform="translate(316 79.1) rotate(-27.8)"/>
<rect x="-4.3" y="-12.9" width="8.5" height="25.7" rx="4.3" ry="2.6" fill="url(#c_dgreen)" stroke="#083e08" stroke-width="0.8" transform="translate(264.6 55.3) rotate(36.5)"/>
<rect x="-4.8" y="-14.4" width="9.6" height="28.8" rx="4.8" ry="2.9" fill="url(#c_dgreen)" stroke="#083e08" stroke-width="0.8" transform="translate(309.5 107.2) rotate(47.9)"/>
<rect x="-5" y="-8.3" width="9.9" height="16.5" rx="5" ry="3" fill="url(#c_dgreen)" stroke="#083e08" stroke-width="0.8" transform="translate(276 135) rotate(31)"/>
<rect x="-5" y="-7.5" width="10" height="15" rx="5" ry="3" fill="url(#c_dgreen)" stroke="#083e08" stroke-width="0.8" transform="translate(312.1 123.9) rotate(54.5)"/>
<rect x="-4.9" y="-6.2" width="9.8" height="12.4" rx="4.9" ry="2.9" fill="url(#c_dgreen)" stroke="#083e08" stroke-width="0.8" transform="translate(290.3 48.4) rotate(3.1)"/>
<rect x="-4.1" y="-7.7" width="8.1" height="15.3" rx="4.1" ry="2.4" fill="url(#c_dgreen)" stroke="#083e08" stroke-width="0.8" transform="translate(317.6 139.6) rotate(-9.6)"/>
<rect x="-4.5" y="-6.6" width="8.9" height="13.2" rx="4.5" ry="2.7" fill="url(#c_dgreen)" stroke="#083e08" stroke-width="0.8" transform="translate(316.4 56.2) rotate(-13)"/>
<rect x="-4.4" y="-9.2" width="8.9" height="18.3" rx="4.4" ry="2.7" fill="url(#c_dgreen)" stroke="#083e08" stroke-width="0.8" transform="translate(326 151.4) rotate(-15.7)"/>
<rect x="-4.7" y="-14.4" width="9.3" height="28.8" rx="4.7" ry="2.8" fill="url(#c_dgreen)" stroke="#083e08" stroke-width="0.8" transform="translate(265 88.1) rotate(-8.5)"/>
<rect x="-4.6" y="-10.3" width="9.2" height="20.7" rx="4.6" ry="2.8" fill="url(#c_dgreen)" stroke="#083e08" stroke-width="0.8" transform="translate(296.3 62.6) rotate(41.5)"/>
<rect x="-4.2" y="-7" width="8.4" height="14" rx="4.2" ry="2.5" fill="url(#c_dgreen)" stroke="#083e08" stroke-width="0.8" transform="translate(286 146.8) rotate(33.8)"/>
<rect x="-4.5" y="-14.2" width="8.9" height="28.4" rx="4.5" ry="2.7" fill="url(#c_dgreen)" stroke="#083e08" stroke-width="0.8" transform="translate(294.8 86.7) rotate(47.9)"/>
<rect x="-4.5" y="-6.6" width="8.9" height="13.2" rx="4.5" ry="2.7" fill="url(#c_dgreen)" stroke="#083e08" stroke-width="0.8" transform="translate(264.6 112.2) rotate(11)"/>
<rect x="-4.6" y="-8.5" width="9.2" height="17.1" rx="4.6" ry="2.8" fill="url(#c_dgreen)" stroke="#083e08" stroke-width="0.8" transform="translate(321.8 103.9) rotate(-8.6)"/>
<rect x="-4.3" y="-7.1" width="8.5" height="14.3" rx="4.3" ry="2.6" fill="url(#c_dgreen)" stroke="#083e08" stroke-width="0.8" transform="translate(321.2 130.8) rotate(33.4)"/>
<rect x="-5" y="-13" width="10" height="26" rx="5" ry="3" fill="url(#c_dgreen)" stroke="#083e08" stroke-width="0.8" transform="translate(296.3 75.1) rotate(35.4)"/>
<rect x="-4.2" y="-13.7" width="8.4" height="27.3" rx="4.2" ry="2.5" fill="url(#c_dgreen)" stroke="#083e08" stroke-width="0.8" transform="translate(325.4 86.7) rotate(44.1)"/>
<rect x="-4" y="-11.5" width="8" height="23" rx="4" ry="2.4" fill="url(#c_dgreen)" stroke="#083e08" stroke-width="0.8" transform="translate(330.1 137) rotate(-33)"/>
<rect x="-4.5" y="-11.9" width="9" height="23.7" rx="4.5" ry="2.7" fill="url(#c_dgreen)" stroke="#083e08" stroke-width="0.8" transform="translate(274.5 56.2) rotate(51.7)"/>
<rect x="-4.3" y="-7.4" width="8.6" height="14.7" rx="4.3" ry="2.6" fill="url(#c_dgreen)" stroke="#083e08" stroke-width="0.8" transform="translate(329.5 128.1) rotate(-16.5)"/>
<rect x="-4.2" y="-10.1" width="8.4" height="20.2" rx="4.2" ry="2.5" fill="url(#c_dgreen)" stroke="#083e08" stroke-width="0.8" transform="translate(281 122.5) rotate(20.8)"/>
<rect x="-4.1" y="-7.7" width="8.1" height="15.4" rx="4.1" ry="2.4" fill="url(#c_dgreen)" stroke="#083e08" stroke-width="0.8" transform="translate(326.1 43.2) rotate(-31)"/>
<rect x="-4.3" y="-8.9" width="8.6" height="17.8" rx="4.3" ry="2.6" fill="url(#c_dgreen)" stroke="#083e08" stroke-width="0.8" transform="translate(266.3 65.9) rotate(50.1)"/>
<rect x="-4.7" y="-10" width="9.5" height="19.9" rx="4.7" ry="2.8" fill="url(#c_dgreen)" stroke="#083e08" stroke-width="0.8" transform="translate(265.5 97.3) rotate(-26.1)"/>
<rect x="-4.5" y="-9.2" width="9" height="18.4" rx="4.5" ry="2.7" fill="url(#c_dgreen)" stroke="#083e08" stroke-width="0.8" transform="translate(293.5 108.5) rotate(-24.4)"/>
<rect x="-4.5" y="-6.3" width="9" height="12.6" rx="4.5" ry="2.7" fill="url(#c_dgreen)" stroke="#083e08" stroke-width="0.8" transform="translate(329.1 111) rotate(-2.9)"/>
<path d="M329.4 100.8 C329.6 100 329.7 97.1 330.7 95.9 C331.6 94.8 335.1 93.7 335.2 93.9 C335.4 94.1 332.8 96.2 331.5 97.2 C330.1 98.1 328.2 98.3 327 99.3 C325.7 100.3 324.2 101.7 323.8 103.2 C323.3 104.6 323.6 106.7 324.2 108.2 C324.8 109.6 326.1 111 327.4 112.1 C328.6 113.2 331.7 114.2 331.6 114.7 C331.5 115.2 328.2 115.4 326.6 115.1 C325 114.8 323.6 112.9 322.1 113 C320.7 113.1 319.3 114.8 317.9 115.7 C316.5 116.6 315.1 118.1 313.6 118.2 C312.1 118.3 310.1 117.3 309 116.2 C307.8 115.2 307 112.6 306.6 111.8" fill="none" stroke="#083e08" stroke-width="1.0"/>
<path d="M313.6 31.6 C314.5 31.5 317 31.1 318.6 31.2 C320.2 31.3 322.4 31.4 323.5 32.4 C324.5 33.4 324.9 35.6 324.8 37.2 C324.8 38.8 323.3 40.2 323 41.8 C322.8 43.4 324 45.5 323.3 46.8 C322.7 48.1 320.1 48.3 319.1 49.5 C318.1 50.7 318 52.7 317.3 54.1 C316.5 55.6 315.7 57.6 314.4 58.3 C313.1 58.9 310.9 57.4 309.4 57.9 C308 58.4 307.2 60.6 305.8 61.3 C304.4 62 301.9 61.2 300.9 62.1 C299.8 63 300.4 65.7 299.5 66.9 C298.5 68.1 296 68 295 69.1 C294 70.3 293.7 73.1 293.5 73.9" fill="none" stroke="#083e08" stroke-width="1.0"/>
<path d="M261 87.9 C261.5 88.6 262.9 90.7 263.9 92 C265 93.3 266.7 94.4 267.1 95.8 C267.6 97.3 267.4 99.4 266.8 100.8 C266.1 102.2 264.5 103.4 263.1 104.2 C261.7 105 259.5 104.6 258.3 105.6 C257.1 106.6 255.7 109.5 256.1 110.1 C256.6 110.8 259.6 110.2 261.1 109.6 C262.6 109 263.6 107.2 265.1 106.6 C266.5 105.9 268.4 106.1 270 105.6 C271.5 105 272.9 103.9 274.3 103.1 C275.8 102.3 277.1 100.7 278.6 100.5 C280.1 100.3 281.9 101.8 283.4 101.7 C285 101.6 287.1 100.9 288 99.7 C288.9 98.6 288.6 95.6 288.8 94.8" fill="none" stroke="#083e08" stroke-width="1.0"/>
<path d="M291.7 130.7 C290.8 130.9 288.4 131.3 286.7 131.7 C285.1 132 283.5 132.3 281.9 132.7 C280.2 133.1 278.4 133.1 277 134 C275.6 134.8 275 137.3 273.6 137.6 C272.3 138 268.9 136.4 268.9 135.9 C268.9 135.5 272.3 135.5 273.7 134.7 C275.2 133.9 276.2 132.5 277.5 131.4 C278.8 130.4 280.2 129.5 281.5 128.4 C282.8 127.3 283.8 125.2 285.1 125 C286.5 124.7 288.3 127.1 289.7 126.9 C291.2 126.8 292.7 125.2 293.8 124 C294.8 122.7 295.6 121.1 296 119.5 C296.5 117.9 295.7 115.8 296.5 114.5 C297.3 113.2 299.9 112.1 300.6 111.6" fill="none" stroke="#083e08" stroke-width="1.0"/>
<path d="M292.8 38.2 C293.6 38.4 296.1 38.6 297.7 39 C299.4 39.3 300.9 40 302.6 40.3 C304.2 40.6 305.9 40.6 307.5 40.7 C309.2 40.9 311 40.6 312.5 41.2 C314 41.8 315 44.2 316.4 44.3 C317.9 44.5 319.8 43.3 321 42.3 C322.2 41.2 323.8 38.1 323.8 38.1 C323.7 38.1 322.1 41.3 320.9 42.2 C319.6 43.1 317.7 43.1 316.1 43.6 C314.5 44.2 313 44.9 311.4 45.4 C309.8 46 307.9 47.2 306.6 46.8 C305.3 46.4 304.7 43.4 303.4 43 C302 42.5 299.9 43.3 298.5 44 C297.1 44.7 295.4 46.8 294.8 47.3" fill="none" stroke="#083e08" stroke-width="1.0"/>
<path d="M295.4 147.7 C294.9 147 293.3 145.1 292.3 143.7 C291.3 142.4 290.6 140.6 289.3 139.8 C288 138.9 285.9 138.6 284.4 138.9 C282.9 139.2 280.7 141.9 280.2 141.5 C279.7 141.2 281.6 138.2 281.3 136.7 C281.1 135.2 279 134.1 278.6 132.5 C278.2 131 278.7 129.2 278.9 127.5 C279.1 125.9 279.2 124 279.9 122.6 C280.7 121.2 282.1 119.9 283.5 119.1 C284.9 118.4 286.8 118.7 288.4 118.1 C289.9 117.5 291.9 116.6 292.5 115.3 C293.2 114.1 292.2 112 292.1 110.4 C292 108.7 291.8 107 292.1 105.4 C292.5 103.8 293.8 101.6 294.2 100.8" fill="none" stroke="#083e08" stroke-width="1.0"/>
<rect x="-5.5" y="-19" width="11" height="38" rx="5.5" ry="3.3" fill="url(#c_dgreen)" stroke="#083e08" stroke-width="0.8" transform="translate(292 128) rotate(8)"/>
<rect x="-5.5" y="-21" width="11" height="42" rx="5.5" ry="3.3" fill="url(#c_dgreen)" stroke="#083e08" stroke-width="0.8" transform="translate(306 132) rotate(-4)"/>
<rect x="-5.5" y="-22" width="11" height="44" rx="5.5" ry="3.3" fill="url(#c_dgreen)" stroke="#083e08" stroke-width="0.8" transform="translate(319 130) rotate(2)"/>
<rect x="-5" y="-20" width="10" height="40" rx="5" ry="3" fill="url(#c_dgreen)" stroke="#083e08" stroke-width="0.8" transform="translate(331 128) rotate(-6)"/>
<rect x="-5" y="-20" width="10" height="40" rx="5" ry="3" fill="url(#c_lgreen)" stroke="#3a7a3a" stroke-width="0.8" transform="translate(181 128) rotate(4)"/>
<rect x="-5.5" y="-22" width="11" height="44" rx="5.5" ry="3.3" fill="url(#c_lgreen)" stroke="#3a7a3a" stroke-width="0.8" transform="translate(193 118) rotate(-6)"/>
<rect x="-5" y="-18" width="10" height="36" rx="5" ry="3" fill="url(#c_mgreen)" stroke="#2a6a2a" stroke-width="0.8" transform="translate(208 130) rotate(8)"/>
<rect x="-5" y="-15" width="10" height="30" rx="5" ry="3" fill="url(#c_lgreen)" stroke="#3a7a3a" stroke-width="0.8" transform="translate(221 122) rotate(-10)"/>
<rect x="-5" y="-17" width="10" height="34" rx="5" ry="3" fill="url(#c_gray)" stroke="#4a4a4a" stroke-width="0.8" transform="translate(128 128) rotate(10)"/>
<rect x="-5" y="-15" width="10" height="30" rx="5" ry="3" fill="url(#c_gray)" stroke="#4a4a4a" stroke-width="0.8" transform="translate(141 132) rotate(-5)"/>
<rect x="-5" y="-18" width="10" height="36" rx="5" ry="3" fill="url(#c_lgray)" stroke="#5a5a5a" stroke-width="0.8" transform="translate(156 126) rotate(6)"/>
<rect x="-5" y="-15" width="10" height="30" rx="5" ry="3" fill="url(#c_gray)" stroke="#4a4a4a" stroke-width="0.8" transform="translate(352 128) rotate(30)"/>
<rect x="-5.5" y="-20" width="11" height="40" rx="5.5" ry="3.3" fill="url(#c_lgray)" stroke="#5a5a5a" stroke-width="0.8" transform="translate(372 124) rotate(-2)"/>
<rect x="-5" y="-17" width="10" height="34" rx="5" ry="3" fill="url(#c_lgray)" stroke="#5a5a5a" stroke-width="0.8" transform="translate(388 120) rotate(0)"/>
<rect x="-5.5" y="-25" width="11" height="50" rx="5.5" ry="3.3" fill="url(#c_lgray)" stroke="#5a5a5a" stroke-width="0.8" transform="translate(366 60) rotate(35)"/>
<rect x="-5.5" y="-27.5" width="11" height="55" rx="5.5" ry="3.3" fill="url(#c_lgray)" stroke="#5a5a5a" stroke-width="0.8" transform="translate(392 58) rotate(38)"/>
<rect x="-5" y="-20" width="10" height="40" rx="5" ry="3" fill="url(#c_lgray)" stroke="#5a5a5a" stroke-width="0.8" transform="translate(403 40) rotate(40)"/>
<path d="M164 208.1 C164.7 208 166.7 207.2 167.9 207.2 C169.2 207.3 170.9 207.7 171.7 208.6 C172.5 209.5 171.7 211.7 172.5 212.5 C173.3 213.3 176.4 213.4 176.4 213.5 C176.4 213.5 173.4 213.6 172.5 212.9 C171.6 212.1 171.3 210.4 171.1 209.1 C170.8 207.8 170.5 206.2 171.1 205.1 C171.6 204.1 173.8 203.9 174.4 202.8 C174.9 201.8 174.5 200.2 174.5 198.8 C174.5 197.5 174.8 196 174.4 194.8 C173.9 193.6 172.7 192.7 171.9 191.6 C171.2 190.5 170.5 189.4 169.9 188.2 C169.3 187 169.4 185.1 168.5 184.5 C167.6 183.8 165.1 184.4 164.5 184.3" fill="none" stroke="#5a5a5a" stroke-width="1.2"/>
<path d="M176.5 209.8 C176.4 210.5 175.5 212.6 175.9 213.8 C176.2 215 178.4 216.9 178.5 216.8 C178.7 216.7 177.8 213.9 176.8 213.2 C175.9 212.4 174 211.9 172.9 212.3 C171.9 212.6 171.7 214.9 170.6 215.5 C169.6 216.1 167.8 215.3 166.7 215.8 C165.5 216.3 164.3 217.5 163.8 218.6 C163.2 219.7 162.7 222.1 163.3 222.6 C163.8 223 165.9 221.2 167.1 221.4 C168.3 221.6 170.5 223.4 170.4 223.7 C170.3 224 167.3 224 166.4 223.3 C165.5 222.6 165.4 220.8 165 219.6 C164.6 218.3 164 217 163.9 215.7 C163.8 214.4 164.4 212.4 164.5 211.7" fill="none" stroke="#5a5a5a" stroke-width="1.2"/>
<path d="M166.9 224.1 C167.2 223.5 168.2 221.7 168.5 220.5 C168.9 219.2 169.3 217.7 168.9 216.5 C168.5 215.3 167.4 214 166.3 213.5 C165.2 213 163.3 212.9 162.3 213.4 C161.3 214 160.5 217 160.2 216.9 C159.9 216.8 160.2 214.2 160.5 212.9 C160.7 211.6 162 210.1 161.7 209.1 C161.3 208 159.4 207.6 158.6 206.6 C157.7 205.5 157.6 204 156.8 203 C156 201.9 154.9 200.9 153.8 200.3 C152.6 199.7 150.9 200 149.9 199.3 C148.9 198.5 148.6 197 147.8 195.9 C147.1 194.7 146.6 193.4 145.6 192.5 C144.7 191.6 142.8 190.8 142.2 190.5" fill="none" stroke="#5a5a5a" stroke-width="1.2"/>
<path d="M158.1 205.5 C158.1 206.2 157.7 208.6 158.3 209.5 C159 210.4 161.1 210.1 162.1 210.9 C163.1 211.6 164.2 212.9 164.4 214.1 C164.7 215.3 163.2 217 163.6 218 C164 219.1 166.1 219.4 166.8 220.4 C167.5 221.4 168 224.2 167.8 224.3 C167.6 224.3 166.3 222.1 165.7 220.9 C165 219.7 165.1 217.8 164.1 217.2 C163.2 216.6 160.5 217.8 160.1 217.2 C159.8 216.6 161.9 214.9 162 213.7 C162.1 212.4 160.6 210.9 160.9 209.8 C161.2 208.7 163.3 208.2 163.8 207.1 C164.4 205.9 163.7 204.2 164.2 203.1 C164.6 201.9 166.3 200.5 166.7 200" fill="none" stroke="#5a5a5a" stroke-width="1.2"/>
<path d="M152.3 180.6 C151.8 180.1 149.3 178.3 149.5 177.7 C149.7 177.1 152.2 177 153.5 177.2 C154.8 177.4 156.2 178.1 157.1 179 C157.9 180 158.6 181.5 158.6 182.7 C158.5 184 156.6 185.2 156.7 186.3 C156.8 187.4 159 188.4 159.1 189.5 C159.2 190.7 157.3 192 157.4 193.1 C157.5 194.3 158.6 195.6 159.5 196.6 C160.4 197.5 161.7 198 162.7 199 C163.6 199.9 165 201 165.1 202.1 C165.3 203.3 164 204.6 163.8 205.9 C163.6 207.2 164.5 208.8 164 209.9 C163.4 210.9 161.8 211.4 160.7 212.1 C159.5 212.8 157.7 213.7 157.1 214" fill="none" stroke="#5a5a5a" stroke-width="1.2"/>
<path d="M150.9 177.9 C151.6 178 153.7 178.7 154.9 178.3 C156.1 178 156.7 176.3 157.8 175.6 C159 175 160.6 174.2 161.7 174.5 C162.7 174.8 163.1 177.1 164.2 177.7 C165.2 178.2 167.1 178.5 168.1 178 C169.2 177.5 169.3 175.1 170.3 174.7 C171.4 174.3 173 175.1 174.3 175.4 C175.6 175.7 178.2 176.3 178.1 176.4 C178.1 176.6 175.4 175.9 174.1 176.3 C172.9 176.6 172 177.9 170.8 178.5 C169.7 179.2 168.3 180 167.1 180 C165.9 180 164.7 178.9 163.4 178.4 C162.2 177.9 160.9 177.5 159.6 177.2 C158.3 176.9 156.3 176.8 155.6 176.7" fill="none" stroke="#5a5a5a" stroke-width="1.2"/>
<path d="M173.2 164.7 C173.7 164.3 176.5 162.6 176.5 162.4 C176.4 162.2 173.9 163.6 172.6 163.6 C171.4 163.5 170.1 161.9 168.9 162 C167.8 162.1 166.6 163.3 165.5 164.1 C164.4 164.9 163 165.6 162.5 166.7 C161.9 167.8 162.9 169.6 162.4 170.7 C161.8 171.8 160.1 172.2 159.4 173.3 C158.6 174.4 158.3 175.8 157.9 177.1 C157.5 178.3 157.8 180.2 157 180.9 C156.1 181.7 154.2 181.8 153 181.4 C151.8 181.1 150.3 179.9 150 178.8 C149.7 177.7 151.1 174.9 151.1 175 C151.2 175 150.6 177.6 150.4 178.9 C150.2 180.2 149.9 182.2 149.8 182.8" fill="none" stroke="#5a5a5a" stroke-width="1.2"/>
<path d="M168.6 189.5 C168.5 190.1 168 192.3 168.5 193.5 C168.9 194.6 170.3 195.4 171.4 196.2 C172.5 196.9 174.4 197 175 197.9 C175.5 198.9 175.4 201 174.8 201.9 C174.1 202.9 172.4 203.2 171.1 203.5 C169.8 203.9 168.4 203.8 167.1 204 C165.8 204.1 164.4 204 163.1 204.4 C161.9 204.8 160.3 205.3 159.6 206.3 C159 207.3 159 209 159.3 210.3 C159.5 211.5 160.9 212.6 161 213.9 C161.2 215.1 159.7 217.4 160.2 217.8 C160.6 218.1 162.7 216.7 163.7 216 C164.8 215.2 165.4 213.6 166.5 213.1 C167.6 212.5 169.8 212.7 170.5 212.6" fill="none" stroke="#5a5a5a" stroke-width="1.2"/>
<path d="M170.5 204.8 C170.5 204.1 170.9 202.1 170.8 200.8 C170.7 199.5 169.8 198.2 169.8 196.9 C169.8 195.6 170.8 194.3 170.8 193 C170.8 191.8 170.1 190.5 169.7 189.2 C169.3 187.9 168.5 186.7 168.5 185.4 C168.5 184.1 169.1 182.7 169.8 181.6 C170.5 180.5 172 179.9 172.6 178.8 C173.3 177.7 172.9 175.7 173.8 175 C174.6 174.2 177.7 174.4 177.7 174.2 C177.7 173.9 175 173.9 173.8 173.5 C172.5 173.2 171.1 171.9 170 172.2 C168.9 172.4 168.2 174.2 167.3 175.1 C166.3 176 164.9 176.7 164.2 177.7 C163.6 178.8 163.4 181 163.2 181.6" fill="none" stroke="#5a5a5a" stroke-width="1.2"/>
<path d="M166.1 188.3 C166.6 187.8 167.8 186 168.9 185.5 C170 184.9 171.6 185.5 172.9 185.1 C174.2 184.8 176.6 183.6 176.5 183.4 C176.4 183.2 173.8 184 172.5 183.8 C171.3 183.6 169.7 182.9 168.9 182 C168.1 181.1 168.3 179.3 167.7 178.2 C167.1 177 165.5 176.2 165.2 175.1 C164.9 173.9 165.1 172.1 165.8 171.1 C166.5 170.1 168 169.5 169.2 169.1 C170.5 168.7 172.2 168.2 173.2 168.7 C174.2 169.3 175.2 171.1 175.2 172.2 C175.1 173.4 173.7 174.5 173 175.6 C172.2 176.7 171.4 177.7 170.6 178.8 C169.8 179.8 168.5 181.3 168 181.9" fill="none" stroke="#5a5a5a" stroke-width="1.2"/>
<path d="M264.4 238.4 C265 238.1 266.7 237 268 236.7 C269.2 236.4 270.7 236.4 272 236.7 C273.2 237.1 274.5 237.9 275.4 238.8 C276.3 239.7 276.3 241.5 277.2 242.3 C278.2 243.1 280 242.8 281.1 243.5 C282.1 244.3 282.7 245.7 283.3 246.8 C283.9 248 284.6 250.6 284.9 250.5 C285.1 250.5 285 247.9 284.8 246.5 C284.7 245.2 284.1 243.9 284.1 242.6 C284 241.3 284 239.8 284.5 238.6 C285 237.5 286.2 236.5 287.3 235.7 C288.3 235 289.5 234.2 290.8 233.9 C292.1 233.6 293.8 234.7 294.8 234.1 C295.8 233.5 296.6 231.8 296.7 230.6 C296.8 229.3 295.9 228 295.4 226.8 C294.9 225.6 293.9 223.8 293.6 223.2" fill="none" stroke="#5a5a5a" stroke-width="1.2"/>
<path d="M323.6 174.3 C323.6 173.6 324 171.2 323.3 170.3 C322.6 169.4 320.8 169.2 319.6 168.8 C318.3 168.3 317 167.5 315.8 167.5 C314.5 167.6 312.7 168 312 168.9 C311.3 169.8 311 171.7 311.4 172.8 C311.7 174 313 175.1 314 175.8 C315.1 176.6 316.4 177.4 317.7 177.4 C318.9 177.5 320.5 176.9 321.4 176.1 C322.4 175.2 323.4 173.6 323.3 172.5 C323.2 171.4 321.8 170.3 320.9 169.3 C320.1 168.2 319.3 167.1 318.3 166.3 C317.3 165.4 315.9 165 314.9 164.1 C313.9 163.3 313 162.2 312.2 161.1 C311.5 160.1 311.2 158.5 310.3 157.7 C309.3 156.8 307.1 155.6 306.6 156 C306.1 156.4 307.2 159.3 307.3 160" fill="none" stroke="#5a5a5a" stroke-width="1.2"/>
<path d="M244.1 193.6 C244.1 194.3 243.7 196.6 244.2 197.6 C244.8 198.7 246.8 198.9 247.5 199.9 C248.2 200.9 247.8 202.6 248.2 203.9 C248.6 205.1 249 206.8 250 207.4 C250.9 208 252.7 207.2 254 207.4 C255.3 207.5 256.7 208.7 257.8 208.4 C259 208.2 259.8 206.6 260.9 205.8 C261.9 205 263.2 204.5 264.2 203.5 C265.1 202.6 265.5 201.2 266.4 200.2 C267.2 199.2 268.1 197.6 269.2 197.4 C270.3 197.1 272 197.8 273 198.6 C273.9 199.4 274.2 201 274.9 202.1 C275.6 203.2 277.1 204 277.5 205.1 C277.8 206.3 277.5 207.9 277.2 209.1 C276.9 210.4 276 211.6 275.7 212.8 C275.4 214.1 275.4 216.2 275.3 216.8" fill="none" stroke="#5a5a5a" stroke-width="1.2"/>
<path d="M261.4 213.4 C261.4 212.8 260.6 210.4 261.1 209.4 C261.7 208.4 263.4 207.9 264.6 207.4 C265.8 206.9 267.3 207 268.5 206.4 C269.6 205.9 270.5 204.3 271.7 204.1 C272.9 203.9 274.4 205.7 275.5 205.4 C276.6 205.1 277.8 203.5 278.1 202.3 C278.4 201.2 277.4 199.8 277.1 198.4 C276.9 197.1 276.7 195.8 276.8 194.5 C276.9 193.1 277.9 191.7 277.6 190.5 C277.3 189.4 275.7 188.5 275.1 187.4 C274.5 186.2 273.6 184.8 273.7 183.7 C273.8 182.5 275.3 181.5 275.9 180.3 C276.5 179.1 276.8 177.8 277 176.5 C277.3 175.2 277.8 173.7 277.5 172.5 C277.2 171.3 276.4 170 275.5 169.1 C274.5 168.1 272.6 167.4 272 167" fill="none" stroke="#5a5a5a" stroke-width="1.2"/>
<path d="M317 178.5 C317.6 178.4 319.7 178.3 321 178 C322.2 177.7 323.6 177.4 324.7 176.7 C325.8 176 326.5 174.1 327.6 173.9 C328.7 173.7 330.1 175 331.3 175.5 C332.5 176 333.7 176.8 335 176.9 C336.3 177.1 337.7 176.6 339 176.4 C340.3 176.2 342 176.4 342.9 175.6 C343.9 174.9 344.9 172.2 344.7 172.1 C344.6 172 342.8 173.9 342 175 C341.1 176 340.1 177 339.6 178.2 C339.1 179.4 339.7 181 339.1 182.2 C338.5 183.3 337.3 184.5 336.2 184.9 C335 185.4 333.1 184.2 332.2 184.8 C331.3 185.4 331.1 187.3 330.6 188.5 C330 189.7 328.9 190.7 328.6 192 C328.3 193.2 328.8 195.3 328.8 196" fill="none" stroke="#5a5a5a" stroke-width="1.2"/>
<path d="M274.1 179.3 C273.7 179.9 272.3 181.4 271.9 182.7 C271.5 183.9 271.9 185.4 271.6 186.7 C271.3 188 270.7 189.2 270.3 190.4 C269.9 191.7 269.8 193.1 269.2 194.3 C268.6 195.5 267.7 196.6 266.8 197.5 C265.9 198.5 265 199.6 263.8 200.1 C262.6 200.6 260.8 199.9 259.8 200.5 C258.8 201.2 258.7 203.1 257.7 204 C256.8 204.8 255.1 204.8 254.1 205.5 C253 206.3 252.4 207.6 251.5 208.6 C250.6 209.6 249.5 210.4 248.7 211.5 C248 212.6 247.4 213.9 247.3 215.2 C247.1 216.5 247.6 217.9 247.7 219.2 C247.8 220.5 247.8 221.9 247.9 223.2 C248 224.5 248 225.9 248.4 227.2 C248.8 228.4 249.9 230.2 250.2 230.8" fill="none" stroke="#5a5a5a" stroke-width="1.2"/>
<path d="M335.3 212.9 C335.9 212.6 337.8 212 339 211.5 C340.2 210.9 341.4 209.6 342.6 209.6 C343.7 209.7 345.4 210.7 346 211.7 C346.7 212.7 346.4 215.6 346.5 215.6 C346.5 215.6 347.1 212.6 346.5 211.6 C345.8 210.7 343.7 210.9 342.8 210.1 C341.8 209.2 341.6 207.7 340.9 206.5 C340.1 205.4 339.1 204.5 338.4 203.4 C337.6 202.3 336.8 201.1 336.5 199.9 C336.2 198.6 336.3 197.2 336.5 195.9 C336.7 194.6 337.4 193.4 337.8 192.1 C338.2 190.8 338.1 189.1 338.9 188.3 C339.7 187.4 341.5 187.6 342.7 187.1 C343.9 186.5 345.1 185.8 346.1 184.9 C347.1 184 347.7 182.4 348.8 181.9 C349.9 181.4 352.1 182 352.8 182" fill="none" stroke="#5a5a5a" stroke-width="1.2"/>
<path d="M268.1 182.3 C267.7 181.7 266.2 180.1 266 178.9 C265.9 177.7 266.5 176.1 267.1 175 C267.7 173.9 269 173.1 269.8 172 C270.6 171 271.5 169.9 271.9 168.7 C272.3 167.5 271.7 165.9 272.2 164.7 C272.7 163.5 273.8 162.1 274.9 161.7 C276 161.3 277.7 162.7 278.8 162.3 C280 162 280.9 160.6 281.9 159.7 C282.8 158.8 283.7 157.8 284.8 157 C285.8 156.1 288 154.6 288 154.6 C288 154.6 285.6 156 284.8 157 C283.9 158 282.9 159.3 282.8 160.5 C282.7 161.7 283.8 163 284 164.3 C284.3 165.6 284.8 167.1 284.5 168.2 C284.1 169.4 282.2 170.3 282.1 171.5 C281.9 172.6 283.4 174.5 283.6 175.1" fill="none" stroke="#5a5a5a" stroke-width="1.2"/>
<path d="M272.2 236.7 C272.6 236.1 274.5 234.6 274.6 233.5 C274.7 232.4 273 231.2 272.8 229.9 C272.5 228.7 272.3 226.9 273 225.9 C273.6 225 275.6 224.2 276.7 224.5 C277.8 224.7 278.8 226.3 279.4 227.4 C280 228.6 279.6 230.5 280.4 231.3 C281.3 232.1 283.4 231.5 284.3 232.2 C285.3 232.9 285.4 234.8 286.3 235.6 C287.3 236.5 288.9 236.4 290.1 237.1 C291.2 237.8 292.7 238.7 293.1 239.7 C293.4 240.8 292.7 242.5 292.1 243.6 C291.5 244.8 289.8 245.4 289.4 246.6 C289.1 247.7 289.5 249.3 289.9 250.5 C290.4 251.7 291.7 253.9 292.3 253.8 C292.9 253.7 293.8 251.3 293.8 250 C293.7 248.8 292.3 247.1 292 246.5" fill="none" stroke="#5a5a5a" stroke-width="1.2"/>
<path d="M318.8 194.5 C319 195.2 319 197.6 319.8 198.4 C320.7 199.2 322.6 199.5 323.8 199.2 C324.9 198.9 325.9 197.6 326.7 196.5 C327.6 195.5 328.8 194.3 328.8 193.1 C328.9 192 328 190.2 327 189.6 C326 189 324.3 189.6 323 189.4 C321.7 189.3 320.2 189.2 319.1 188.6 C318 188 316.7 186.9 316.3 185.7 C315.9 184.6 317.2 182.9 316.8 181.8 C316.5 180.6 315.1 179.7 314.1 178.8 C313.1 177.9 312.1 176.9 311 176.4 C309.8 175.8 308.3 175.9 307.1 175.5 C305.8 175.1 304.7 174.3 303.5 173.7 C302.3 173.2 300.5 173 299.8 172.1 C299.2 171.1 299.8 169.4 299.5 168.1 C299.2 166.8 298.2 165 298 164.4" fill="none" stroke="#5a5a5a" stroke-width="1.2"/>
<path d="M250.8 223.9 C251 224.6 251.6 226.5 252 227.8 C252.4 229 253.4 230.4 253.2 231.6 C253 232.7 250.6 234.6 250.6 234.7 C250.7 234.7 252.5 232.7 253.6 232 C254.7 231.2 256.2 231.1 257.2 230.2 C258.1 229.3 258.5 227.9 259.2 226.8 C260 225.7 261.3 224.8 261.7 223.6 C262.2 222.5 261.6 220.8 262 219.7 C262.5 218.5 263.7 217.6 264.6 216.6 C265.4 215.5 266.9 214.7 267.2 213.6 C267.6 212.4 267.2 210.7 266.6 209.6 C266 208.5 264.8 207.6 263.7 206.8 C262.7 206 261.1 205.9 260.2 205 C259.2 204.1 259.1 202.3 258.1 201.5 C257.2 200.8 255.4 201.1 254.3 200.5 C253.2 199.8 251.9 198.2 251.4 197.7" fill="none" stroke="#5a5a5a" stroke-width="1.2"/>
<path d="M324.2 160.4 C323.6 160.3 321.4 159.6 320.3 160.1 C319.1 160.5 318.5 162.1 317.5 163 C316.5 163.9 315 164.3 314.2 165.3 C313.5 166.3 313.8 168.2 312.9 169 C312 169.9 310.4 169.9 309.1 170.3 C307.9 170.8 306.5 171 305.4 171.8 C304.3 172.5 303.7 174.1 302.6 174.6 C301.4 175.1 299.5 174.3 298.6 174.9 C297.7 175.6 297.9 177.6 297.2 178.7 C296.4 179.7 294.5 180.1 294.1 181.2 C293.6 182.2 294.1 184.1 294.7 185.1 C295.4 186.1 297.6 186.2 298.1 187.2 C298.6 188.3 298.2 190 297.8 191.2 C297.5 192.5 296.1 193.5 295.9 194.7 C295.7 196 295.8 197.7 296.5 198.7 C297.2 199.6 299.4 200.3 300 200.6" fill="none" stroke="#5a5a5a" stroke-width="1.2"/>
<path d="M320.5 188.3 C320.9 188.9 322 190.6 322.4 191.8 C322.9 193.1 322.8 194.5 323.3 195.7 C323.8 196.9 324.6 198.1 325.5 199.1 C326.4 200.1 327.4 201.4 328.5 201.7 C329.7 202 331.3 200.8 332.5 201 C333.7 201.3 334.8 202.5 335.7 203.4 C336.6 204.4 337.6 205.5 337.9 206.8 C338.2 208 337.4 209.4 337.3 210.7 C337.2 212 337.9 213.6 337.4 214.7 C336.9 215.8 335.4 216.5 334.4 217.4 C333.4 218.3 332.4 219.2 331.3 220 C330.2 220.7 329 221.3 327.8 221.8 C326.5 222.3 325.2 223 324 223 C322.7 223 321.4 222.1 320.1 221.9 C318.8 221.7 317.2 221.2 316.1 221.8 C315 222.3 314.1 224.4 313.7 225" fill="none" stroke="#5a5a5a" stroke-width="1.2"/>
<path d="M248.1 172.5 C248.3 173.1 249 175 249.6 176.2 C250.1 177.5 251.1 178.6 251.3 179.9 C251.4 181.1 250.1 182.8 250.5 183.8 C250.9 184.8 252.7 185.3 253.9 185.9 C255 186.6 256.7 186.8 257.4 187.8 C258.1 188.8 258 190.4 258 191.8 C258 193.1 257.5 194.4 257.4 195.7 C257.3 197.1 257.4 198.4 257.5 199.7 C257.6 201.1 257.3 202.7 258 203.7 C258.6 204.7 260.3 205.5 261.5 205.6 C262.7 205.7 264.4 205.1 265.3 204.3 C266.2 203.5 266.6 201.9 266.9 200.7 C267.3 199.4 267.4 198 267.4 196.7 C267.4 195.4 266.4 193.9 266.8 192.7 C267.2 191.6 269.1 191 269.6 189.8 C270 188.7 269.3 186.5 269.3 185.9" fill="none" stroke="#5a5a5a" stroke-width="1.2"/>
<path d="M275.1 180.3 C275.7 180.6 277.4 182 278.6 182.3 C279.9 182.5 281.3 181.9 282.6 181.7 C283.9 181.5 285.7 181.8 286.5 181 C287.4 180.3 286.8 178 287.6 177.2 C288.4 176.4 290.3 176.6 291.5 176.1 C292.6 175.5 293.6 173.9 294.8 173.8 C295.9 173.8 297.4 174.8 298.4 175.6 C299.4 176.4 300.2 177.6 300.8 178.8 C301.4 179.9 301.4 181.4 301.8 182.6 C302.2 183.9 303.3 185.3 303 186.5 C302.8 187.6 300.6 188.2 300.3 189.4 C299.9 190.5 301 192 300.9 193.3 C300.9 194.6 300 195.9 300 197.2 C300 198.5 300.9 199.8 301 201.1 C301 202.4 300.9 203.8 300.3 205 C299.8 206.2 298.2 207.5 297.7 208" fill="none" stroke="#5a5a5a" stroke-width="1.2"/>
<path d="M264 172.4 C264.6 172.1 266.9 171.5 267.5 170.5 C268.2 169.5 267.9 167.8 267.8 166.5 C267.7 165.2 266.7 163.6 267.1 162.6 C267.6 161.5 269.5 161.2 270.4 160.3 C271.4 159.4 272.3 158.3 272.8 157.1 C273.3 155.9 273.5 153.2 273.6 153.2 C273.6 153.2 272.9 155.9 273.1 157.1 C273.3 158.4 274.5 159.5 274.7 160.8 C274.9 162.1 274.6 163.6 274.1 164.8 C273.6 165.9 271.9 166.7 271.6 167.9 C271.3 169.1 271.6 170.7 272.1 171.9 C272.7 173 274.2 173.7 274.9 174.8 C275.6 175.9 276.4 177.4 276.2 178.5 C276 179.7 274.6 180.7 273.6 181.6 C272.6 182.4 271.2 182.8 270.1 183.5 C269 184.2 267.5 185.6 267 186" fill="none" stroke="#5a5a5a" stroke-width="1.2"/>
<path d="M169.6 238.8 C169.7 239.5 169.9 241.5 170 242.8 C170 244.1 169.3 246.4 169.9 246.8 C170.5 247.2 172.3 245.8 173.6 245.4 C174.8 244.9 176.2 244.8 177.4 244.1 C178.5 243.5 180 242.7 180.5 241.6 C181 240.5 180.8 238.6 180.2 237.6 C179.5 236.7 177.3 236.8 176.6 235.9 C175.9 234.9 176.2 233.2 176 231.9 C175.7 230.6 174.9 229.1 175.3 228 C175.6 226.9 177.9 226.5 178.3 225.4 C178.7 224.3 178.1 222.6 177.5 221.5 C176.9 220.4 175.7 219 174.6 218.7 C173.5 218.5 172 219.4 170.8 220 C169.6 220.6 168 221.2 167.4 222.2 C166.9 223.2 167.2 225 167.7 226.2 C168.1 227.4 169.7 228.8 170.1 229.4" fill="none" stroke="#083e08" stroke-width="1.2"/>
<path d="M198.3 187 C198.8 186.5 200 184.4 201.1 184.2 C202.2 183.9 203.7 185.6 204.9 185.5 C206.1 185.5 207.3 184.4 208.5 183.9 C209.8 183.3 211.1 183 212.2 182.3 C213.4 181.6 214.3 180.7 215.4 179.9 C216.5 179.2 218.2 178.8 218.8 177.8 C219.4 176.8 219.1 175.1 218.8 173.8 C218.6 172.5 218.1 170.9 217.2 170.2 C216.2 169.4 214.5 169.7 213.2 169.4 C211.9 169.1 210.2 169.1 209.4 168.2 C208.6 167.4 208.5 165.7 208.3 164.4 C208.2 163.1 207.8 161.5 208.2 160.4 C208.7 159.3 210.6 158.8 211.2 157.7 C211.8 156.5 211.1 154 211.7 153.7 C212.4 153.4 214 155 215.1 155.8 C216.2 156.6 217.8 157.8 218.3 158.2" fill="none" stroke="#083e08" stroke-width="1.2"/>
<path d="M204.8 216.1 C204.2 216.4 202.5 217.6 201.3 217.9 C200 218.2 198.3 218.3 197.3 217.6 C196.3 217 196.2 215.1 195.3 214.1 C194.4 213.2 193.2 212.6 192 211.9 C190.9 211.2 189.3 211 188.5 210.1 C187.7 209.1 188 207.3 187.2 206.3 C186.5 205.3 185.1 204.2 183.9 204 C182.7 203.9 181.2 204.6 180.1 205.3 C179 206 177.6 207 177.3 208.1 C176.9 209.3 178.2 210.8 178.1 212.1 C177.9 213.3 177.2 214.8 176.3 215.6 C175.4 216.5 173.6 216.3 172.5 217 C171.5 217.7 170.1 218.7 169.8 219.9 C169.4 221 169.5 222.9 170.2 223.8 C170.9 224.8 172.6 225.4 173.8 225.6 C175.1 225.8 177.1 225.1 177.8 225" fill="none" stroke="#083e08" stroke-width="1.2"/>
<path d="M171.6 200.4 C170.9 200.5 168.5 200.2 167.6 200.9 C166.7 201.6 165.8 204.5 166.1 204.6 C166.3 204.8 168.8 203.2 169.1 202.1 C169.5 201 169 199.2 168.3 198.2 C167.6 197.1 165 196.1 165.1 195.8 C165.2 195.5 167.7 196.3 169.1 196.3 C170.4 196.2 172.1 196.3 173 195.6 C173.9 194.8 174.2 193.2 174.7 191.9 C175.1 190.7 175.6 189.3 175.6 188 C175.6 186.7 174.7 185.4 174.8 184.1 C174.9 182.9 175.7 181.6 176.3 180.4 C176.9 179.2 177.3 177.6 178.3 177 C179.4 176.4 181 176.5 182.3 176.6 C183.6 176.8 185.1 177 186.2 177.7 C187.2 178.5 187.9 179.8 188.6 180.9 C189.4 182 190.2 183.8 190.5 184.4" fill="none" stroke="#083e08" stroke-width="1.2"/>
<path d="M201.2 242.9 C201.5 242.4 202.2 240.3 203.1 239.4 C204 238.5 205.3 237.8 206.5 237.4 C207.8 237.1 209.3 237.6 210.5 237.2 C211.7 236.8 212.6 235.3 213.8 235 C215 234.7 216.5 235.6 217.8 235.6 C219.1 235.6 220.7 235.7 221.8 235 C222.8 234.4 223.8 232.8 223.8 231.6 C223.9 230.5 222.9 228.9 221.9 228.1 C221 227.3 219.4 227 218.1 227 C216.8 227 215.6 228 214.3 228.1 C213 228.2 211.6 227.4 210.3 227.6 C209 227.7 207.3 228.1 206.6 229 C205.9 229.9 206.6 231.9 206 233 C205.4 234.1 204.2 235 203.2 235.8 C202.2 236.7 200.4 237.2 200 238.3 C199.6 239.3 200.7 241.5 200.9 242.2" fill="none" stroke="#083e08" stroke-width="1.2"/>
<path d="M194.1 247.6 C194.8 247.6 197 247.9 198.1 247.4 C199.3 247 200.3 245.8 201.2 244.9 C202.1 243.9 203.1 243 203.8 241.8 C204.5 240.7 205 239.4 205.3 238.1 C205.5 236.8 205.8 235 205.1 234.1 C204.5 233.2 202.6 233.3 201.4 232.7 C200.2 232.1 198.7 231.5 198 230.5 C197.3 229.5 197.1 227.9 197.2 226.6 C197.2 225.3 198.6 224 198.5 222.8 C198.3 221.7 196.8 220.7 196.1 219.6 C195.3 218.5 194.9 217 193.9 216.3 C192.9 215.6 191.2 216 190 215.4 C188.8 214.8 188 213.6 187 212.8 C185.9 212 184.1 211.6 183.6 210.6 C183.1 209.5 183.4 207.7 183.9 206.6 C184.4 205.4 186.2 204.2 186.7 203.7" fill="none" stroke="#083e08" stroke-width="1.2"/>
<path d="M174.4 188.2 C174.9 187.8 176.6 186.7 177.6 185.9 C178.6 185 179.6 184 180.4 183 C181.3 182 181.8 180.6 182.8 179.8 C183.9 179.1 185.6 178.4 186.7 178.7 C187.8 179 188.6 180.5 189.6 181.5 C190.5 182.4 192.1 183.4 192.2 184.5 C192.4 185.6 191.3 187 190.7 188.2 C190 189.3 188.5 190.2 188.3 191.4 C188.2 192.6 189.7 193.9 189.6 195.2 C189.5 196.4 188.4 197.6 187.9 198.8 C187.5 200.1 186.7 201.6 187 202.7 C187.3 203.8 189.7 204.3 190 205.4 C190.3 206.5 188.5 208.1 188.8 209.2 C189 210.3 190.8 211 191.7 211.9 C192.5 212.9 193.2 214.1 194 215.2 C194.8 216.3 196.1 217.8 196.5 218.3" fill="none" stroke="#083e08" stroke-width="1.2"/>
<path d="M237.5 196.5 C238 197 239.1 198.9 240.3 199.4 C241.4 200 244.2 199.9 244.2 199.8 C244.3 199.7 241.7 198.9 240.4 198.8 C239 198.7 237.6 199.5 236.4 199.2 C235.1 198.9 234.1 197.5 232.9 197.2 C231.6 197 230.2 197.3 228.9 197.7 C227.7 198 226.3 198.6 225.3 199.5 C224.4 200.3 224.4 202.4 223.4 203 C222.4 203.5 220.5 203.2 219.4 202.6 C218.4 202 217.3 200.6 217 199.5 C216.7 198.3 217.2 196.8 217.7 195.5 C218.1 194.3 219 193.2 219.4 191.9 C219.9 190.7 220.5 189.2 220.3 188 C220 186.9 218.2 186 217.9 184.8 C217.6 183.6 218.4 182.2 218.6 180.9 C218.7 179.6 219 177.6 219.1 176.9" fill="none" stroke="#083e08" stroke-width="1.2"/>
<path d="M172.8 232.1 C172.9 231.4 173 229.2 173.6 228.2 C174.3 227.1 176 226.8 176.9 225.8 C177.7 224.8 178 223.3 178.8 222.3 C179.7 221.4 180.9 220.2 182.1 220 C183.3 219.8 184.7 220.5 186 221 C187.2 221.5 188.6 222.1 189.4 223.1 C190.1 224.1 190 225.7 190.6 226.9 C191.1 228.1 191.8 229.8 192.8 230.2 C193.8 230.6 195.4 229.6 196.7 229.4 C198 229.1 199.3 228.8 200.7 228.7 C202 228.6 203.5 229.2 204.7 228.8 C205.8 228.4 206.8 227.2 207.7 226.2 C208.5 225.2 209.4 224.1 209.9 222.8 C210.3 221.6 210.9 219.9 210.4 218.9 C210 217.8 208.3 217.1 207.1 216.7 C205.9 216.2 203.8 216.3 203.1 216.2" fill="none" stroke="#083e08" stroke-width="1.2"/>
<path d="M196.3 205.6 C195.9 205.1 194.2 203.3 194.2 202.2 C194.3 201.1 195.5 199.6 196.6 198.9 C197.6 198.3 199.4 197.8 200.5 198.2 C201.6 198.5 202.6 200 203.2 201.1 C203.8 202.3 204.2 203.7 204.3 205 C204.4 206.3 204 207.6 203.8 208.9 C203.6 210.2 203.6 211.8 202.9 212.8 C202.3 213.9 200.6 214.3 199.7 215.2 C198.8 216.2 198.3 217.5 197.5 218.5 C196.6 219.5 195.7 220.6 194.5 221.2 C193.4 221.9 192 222.1 190.7 222.5 C189.4 222.8 188 222.9 186.9 223.5 C185.7 224.1 184.3 225.2 184 226.3 C183.7 227.4 184.1 229.3 184.9 230.2 C185.7 231.1 187.3 231.4 188.6 231.6 C189.9 231.9 192 231.7 192.6 231.7" fill="none" stroke="#083e08" stroke-width="1.2"/>
<path d="M212.6 236.7 C212.2 236.2 210.3 234.7 210.1 233.6 C209.9 232.4 211.3 231.1 211.4 229.8 C211.5 228.5 210.5 227.2 210.6 225.9 C210.7 224.6 212.1 223.2 211.9 222.1 C211.7 221 209.8 220.2 209.3 219.1 C208.8 217.9 208.8 216.4 208.9 215.1 C209 213.8 209.3 212 210.1 211.3 C211 210.5 212.9 210.2 214.1 210.6 C215.2 211 216.2 212.3 216.9 213.4 C217.6 214.6 218.3 216 218.2 217.2 C218.1 218.5 217.2 219.9 216.3 220.8 C215.4 221.7 214.1 222.3 212.9 222.8 C211.6 223.3 210 223 209 223.8 C208 224.5 207.5 225.9 206.7 227 C205.9 228.1 205.3 229.7 204.2 230.2 C203.1 230.7 200.9 230 200.2 230" fill="none" stroke="#083e08" stroke-width="1.2"/>
<path d="M184.4 260.2 C185 260.2 187.4 260.9 188.4 260.3 C189.3 259.7 189.6 257.9 189.9 256.6 C190.3 255.3 190.8 253.9 190.5 252.7 C190.2 251.5 188.7 250.6 188.1 249.4 C187.5 248.3 186.8 246.7 187 245.6 C187.3 244.4 188.5 242.9 189.6 242.5 C190.6 242.1 192.2 242.6 193.5 242.9 C194.8 243.2 196 244.1 197.3 244.4 C198.5 244.7 200.1 245.2 201.2 244.8 C202.3 244.4 202.8 242.6 203.9 241.8 C205 241.1 206.4 240.7 207.6 240.3 C208.9 239.9 210.2 239.3 211.5 239.3 C212.8 239.3 214 240.2 215.4 240.3 C216.7 240.5 218.3 239.7 219.4 240.2 C220.4 240.7 220.8 242.6 221.9 243.3 C223 243.9 225.1 243.9 225.8 244.1" fill="none" stroke="#083e08" stroke-width="1.2"/>
<path d="M189.9 182.8 C190 182.1 190.8 180 190.5 178.9 C190.2 177.7 188.7 176.8 188.1 175.7 C187.4 174.5 186.8 173.1 186.8 171.9 C186.8 170.6 188 169.3 188 168.1 C188 166.8 187.5 165.1 186.6 164.3 C185.7 163.6 182.7 163.5 182.7 163.6 C182.6 163.7 185.5 164.1 186.5 164.9 C187.4 165.7 188.2 167.3 188.2 168.5 C188.2 169.7 187.3 171.2 186.4 172.1 C185.6 173.1 184.1 173.4 183 174.3 C182 175.1 181 176 180.1 177 C179.3 178 178.6 179.2 177.8 180.3 C177 181.3 176.3 182.9 175.2 183.3 C174.1 183.8 172.5 182.8 171.2 182.9 C170 183.1 168.6 183.6 167.5 184.4 C166.5 185.2 165.5 187 165.1 187.5" fill="none" stroke="#083e08" stroke-width="1.2"/>
<path d="M174.2 215.1 C173.5 215.2 171.3 215 170.2 215.5 C169.1 216.1 167.4 218.4 167.5 218.5 C167.7 218.7 169.6 216.8 170.8 216.2 C172 215.6 173.3 215.2 174.6 215.1 C175.9 215.1 177.4 215.3 178.6 215.8 C179.7 216.4 180.4 218.3 181.6 218.5 C182.7 218.8 184.1 217.7 185.3 217.3 C186.6 216.8 187.9 215.8 189.1 215.9 C190.3 215.9 192.1 216.6 192.7 217.6 C193.3 218.5 192.5 220.3 192.8 221.6 C193.1 222.8 194.6 223.9 194.6 225.2 C194.7 226.4 193.8 227.8 193.1 228.9 C192.4 230 191.6 231.5 190.5 231.9 C189.4 232.3 187.8 231 186.5 231.2 C185.3 231.3 184.2 232.7 183 233 C181.7 233.3 179.6 233 179 233" fill="none" stroke="#083e08" stroke-width="1.2"/>
<path d="M234.1 205.7 C234.8 205.6 237 205.9 238.1 205.3 C239.2 204.7 240.3 203.3 240.5 202.1 C240.7 200.9 240 199.2 239.2 198.3 C238.4 197.4 236.7 197.4 235.5 196.7 C234.4 196.1 233.6 194.5 232.4 194.2 C231.3 194 229.8 195.3 228.6 195.3 C227.3 195.2 225.8 194.7 224.8 193.9 C223.8 193.1 222.7 191.9 222.4 190.7 C222 189.5 222.2 187.9 222.8 186.8 C223.4 185.6 224.6 184.7 225.8 184.1 C226.9 183.5 228.6 182.9 229.7 183.2 C230.8 183.5 232.2 184.9 232.5 186 C232.7 187.1 231.8 188.7 231.2 189.8 C230.6 191 229.9 192.7 228.9 193.1 C227.8 193.5 226.1 192.1 224.9 192.4 C223.8 192.8 222.6 194.8 222.1 195.3" fill="none" stroke="#083e08" stroke-width="1.2"/>
<path d="M181.7 194.5 C181 194.4 178.9 194.4 177.7 193.8 C176.6 193.2 176 191.4 174.8 191.1 C173.7 190.8 172.2 191.6 170.9 192 C169.7 192.5 167.4 193.8 167.4 193.9 C167.4 193.9 170 193.1 171.1 192.4 C172.3 191.7 173.7 191 174.2 189.9 C174.8 188.8 174 187.2 174.2 185.9 C174.3 184.6 174.9 183.3 175 182 C175.1 180.7 174.5 179.3 174.7 178 C174.9 176.7 175.6 175.5 176.1 174.3 C176.5 173 176.6 171.2 177.4 170.5 C178.3 169.8 180.4 169.6 181.4 170.1 C182.5 170.5 182.7 172.8 183.7 173.3 C184.8 173.8 186.5 172.7 187.7 173 C189 173.3 190.2 174.2 191.1 175.1 C192 176 192.7 178 193 178.6" fill="none" stroke="#083e08" stroke-width="1.2"/>
<path d="M287.7 236.5 C287.1 236 284.6 234.8 283.8 233.5 C282.9 232.1 282.1 229.9 282.6 228.6 C283.1 227.3 285.6 226.8 286.6 225.5 C287.5 224.2 287.2 222 288.2 220.8 C289.2 219.7 291.4 219.6 292.7 218.6 C293.9 217.5 294.8 216 295.8 214.7 C296.8 213.3 297.4 211.3 298.7 210.6 C300 209.9 302 210.5 303.7 210.2 C305.3 210 307 209.7 308.5 209.1 C310.1 208.5 311.9 207.7 312.8 206.4 C313.7 205.2 314.1 203.1 313.8 201.5 C313.6 200 311.9 198.8 311.2 197.2 C310.6 195.7 310.2 194.1 309.9 192.4 C309.7 190.8 309.9 188.3 309.9 187.4" fill="none" stroke="#5a5a5a" stroke-width="1.2"/>
<path d="M309.1 242.4 C308.6 243.1 306.8 245 306.3 246.5 C305.7 248 305.5 251.4 305.7 251.5 C305.9 251.5 307.7 248.4 307.7 246.9 C307.7 245.4 305.5 243.7 305.7 242.3 C305.9 240.9 307.9 239.8 309 238.5 C310 237.3 311 235.9 312 234.6 C312.9 233.2 313.4 231.4 314.6 230.3 C315.7 229.2 318 229.1 319 228 C320 226.8 319.6 224.1 320.7 223.3 C321.8 222.4 324 223.2 325.6 222.8 C327.3 222.5 329.4 222.3 330.4 221.2 C331.4 220.1 331.7 217.9 331.6 216.3 C331.4 214.8 329.6 213.3 329.6 211.7 C329.5 210.2 331 207.8 331.3 207" fill="none" stroke="#5a5a5a" stroke-width="1.2"/>
<path d="M356.8 206.5 C356.9 207.3 358 211.2 357.5 211.5 C357.1 211.7 355 209.2 354 207.9 C353 206.6 351.6 204.9 351.7 203.5 C351.7 202.1 353.8 200.9 354.5 199.4 C355.2 197.9 355.6 196.1 355.6 194.5 C355.6 192.9 354.6 191.3 354.5 189.6 C354.4 188 355.6 184.9 355.1 184.7 C354.6 184.4 352.6 186.9 351.5 188.1 C350.3 189.3 349.7 191.5 348.4 192 C347.1 192.6 344.7 192.4 343.4 191.6 C342.1 190.9 342 188 340.7 187.4 C339.4 186.8 337.2 188.5 335.7 188.1 C334.2 187.7 332.6 186.4 331.7 185.1 C330.8 183.8 330.6 181.1 330.4 180.3" fill="none" stroke="#5a5a5a" stroke-width="1.2"/>
<path d="M358.6 196 C358.7 195.2 359.7 192.5 359.3 191.1 C358.8 189.7 357 188.6 355.8 187.5 C354.6 186.4 353.5 185 352 184.3 C350.6 183.6 348.7 183.6 347.1 183.3 C345.5 183 343.7 183 342.2 182.3 C340.7 181.6 339.8 179.2 338.4 179.1 C337 178.9 335.3 180.5 333.9 181.3 C332.4 182.1 330.8 182.7 329.6 183.9 C328.5 185.1 327.2 186.8 327.2 188.3 C327.2 189.7 328.4 191.9 329.6 192.6 C330.9 193.4 333.1 193.2 334.6 192.8 C336.2 192.4 337.9 191.4 338.9 190.2 C339.9 189 339.6 186.6 340.8 185.6 C341.9 184.6 344.8 184.6 345.6 184.4" fill="none" stroke="#5a5a5a" stroke-width="1.2"/>
<rect x="-4.9" y="-6.2" width="9.7" height="12.3" rx="4.9" ry="2.9" fill="url(#c_gray)" stroke="#4a4a4a" stroke-width="0.8" transform="translate(274.9 218.4) rotate(-33.9)"/>
<rect x="-4.6" y="-6.2" width="9.1" height="12.5" rx="4.6" ry="2.7" fill="url(#c_lgray)" stroke="#5a5a5a" stroke-width="0.8" transform="translate(314.8 218.8) rotate(-11.9)"/>
<rect x="-5.3" y="-9.5" width="10.5" height="18.9" rx="5.3" ry="3.2" fill="url(#c_lgreen)" stroke="#3a7a3a" stroke-width="0.8" transform="translate(311.4 180.3) rotate(3)"/>
<rect x="-5.2" y="-7" width="10.3" height="13.9" rx="5.2" ry="3.1" fill="url(#c_lgreen)" stroke="#3a7a3a" stroke-width="0.8" transform="translate(331.4 180) rotate(12)"/>
<rect x="-5.2" y="-12.3" width="10.4" height="24.5" rx="5.2" ry="3.1" fill="url(#c_lgreen)" stroke="#3a7a3a" stroke-width="0.8" transform="translate(253.5 165.4) rotate(-60.9)"/>
<rect x="-4.8" y="-11.1" width="9.5" height="22.2" rx="4.8" ry="2.9" fill="url(#c_mgreen)" stroke="#2a6a2a" stroke-width="0.8" transform="translate(316.5 229.9) rotate(19)"/>
<rect x="-5.1" y="-9.6" width="10.2" height="19.1" rx="5.1" ry="3.1" fill="url(#c_lgray)" stroke="#5a5a5a" stroke-width="0.8" transform="translate(323.2 175) rotate(-85.1)"/>
<rect x="-5.3" y="-6.8" width="10.6" height="13.6" rx="5.3" ry="3.2" fill="url(#c_lgray)" stroke="#5a5a5a" stroke-width="0.8" transform="translate(341.8 208) rotate(20.7)"/>
<rect x="-4.8" y="-6.7" width="9.6" height="13.4" rx="4.8" ry="2.9" fill="url(#c_mgreen)" stroke="#2a6a2a" stroke-width="0.8" transform="translate(276.4 197.9) rotate(-60.5)"/>
<rect x="-4.8" y="-12.1" width="9.6" height="24.3" rx="4.8" ry="2.9" fill="url(#c_lgreen)" stroke="#3a7a3a" stroke-width="0.8" transform="translate(343 191.6) rotate(-83.9)"/>
<rect x="-5.5" y="-7.4" width="10.9" height="14.7" rx="5.5" ry="3.3" fill="url(#c_lgreen)" stroke="#3a7a3a" stroke-width="0.8" transform="translate(363.4 198.3) rotate(-80.5)"/>
<rect x="-5.2" y="-6.1" width="10.4" height="12.2" rx="5.2" ry="3.1" fill="url(#c_lgray)" stroke="#5a5a5a" stroke-width="0.8" transform="translate(296.9 253.7) rotate(-65.7)"/>
<rect x="-5.1" y="-9.2" width="10.2" height="18.3" rx="5.1" ry="3.1" fill="url(#c_lgray)" stroke="#5a5a5a" stroke-width="0.8" transform="translate(284.4 181.7) rotate(-48.9)"/>
<rect x="-4.6" y="-8.4" width="9.2" height="16.7" rx="4.6" ry="2.7" fill="url(#c_gray)" stroke="#4a4a4a" stroke-width="0.8" transform="translate(287 201.3) rotate(-81.7)"/>
<rect x="-5.2" y="-6.5" width="10.3" height="13.1" rx="5.2" ry="3.1" fill="url(#c_mgreen)" stroke="#2a6a2a" stroke-width="0.8" transform="translate(285.3 252.8) rotate(-53.2)"/>
<rect x="-4.6" y="-7" width="9.3" height="14.1" rx="4.6" ry="2.8" fill="url(#c_lgreen)" stroke="#3a7a3a" stroke-width="0.8" transform="translate(274.1 168.5) rotate(-6.1)"/>
<rect x="-5.1" y="-12.6" width="10.1" height="25.3" rx="5.1" ry="3" fill="url(#c_lgreen)" stroke="#3a7a3a" stroke-width="0.8" transform="translate(332.5 203.1) rotate(-70.2)"/>
<rect x="-5.1" y="-11.3" width="10.3" height="22.6" rx="5.1" ry="3.1" fill="url(#c_gray)" stroke="#4a4a4a" stroke-width="0.8" transform="translate(319.8 193.7) rotate(-88.4)"/>
<rect x="-4.6" y="-12.1" width="9.2" height="24.3" rx="4.6" ry="2.8" fill="url(#c_gray)" stroke="#4a4a4a" stroke-width="0.8" transform="translate(293.4 184.3) rotate(28.4)"/>
<rect x="-5.1" y="-9.4" width="10.3" height="18.9" rx="5.1" ry="3.1" fill="url(#c_lgray)" stroke="#5a5a5a" stroke-width="0.8" transform="translate(301 214.8) rotate(-11.4)"/>
<rect x="-5.1" y="-10.9" width="10.2" height="21.9" rx="5.1" ry="3.1" fill="url(#c_mgreen)" stroke="#2a6a2a" stroke-width="0.8" transform="translate(246 185.1) rotate(-62.8)"/>
<rect x="-4.5" y="-12.8" width="9.1" height="25.7" rx="4.5" ry="2.7" fill="url(#c_lgray)" stroke="#5a5a5a" stroke-width="0.8" transform="translate(325.4 221.7) rotate(28.6)"/>
<rect x="-4.9" y="-10.6" width="9.8" height="21.2" rx="4.9" ry="2.9" fill="url(#c_lgreen)" stroke="#3a7a3a" stroke-width="0.8" transform="translate(336.9 172.8) rotate(-29.3)"/>
<rect x="-4.9" y="-12.8" width="9.7" height="25.7" rx="4.9" ry="2.9" fill="url(#c_lgray)" stroke="#5a5a5a" stroke-width="0.8" transform="translate(270.3 154.6) rotate(8.3)"/>
<rect x="-4.7" y="-7.1" width="9.5" height="14.2" rx="4.7" ry="2.8" fill="url(#c_lgreen)" stroke="#3a7a3a" stroke-width="0.8" transform="translate(305.3 249.9) rotate(8.9)"/>
<rect x="-4.8" y="-12.3" width="9.5" height="24.7" rx="4.8" ry="2.9" fill="url(#c_lgray)" stroke="#5a5a5a" stroke-width="0.8" transform="translate(336.4 215.6) rotate(23.5)"/>
<rect x="-5.1" y="-9.8" width="10.1" height="19.6" rx="5.1" ry="3" fill="url(#c_lgray)" stroke="#5a5a5a" stroke-width="0.8" transform="translate(300.2 197.1) rotate(22.4)"/>
<rect x="-4.6" y="-10.1" width="9.3" height="20.2" rx="4.6" ry="2.8" fill="url(#c_mgreen)" stroke="#2a6a2a" stroke-width="0.8" transform="translate(307.1 156) rotate(-1.7)"/>
<rect x="-5" y="-12.7" width="9.9" height="25.4" rx="5" ry="3" fill="url(#c_lgray)" stroke="#5a5a5a" stroke-width="0.8" transform="translate(271.7 232.7) rotate(-34)"/>
<rect x="-5.4" y="-6.9" width="10.8" height="13.8" rx="5.4" ry="3.2" fill="url(#c_lgreen)" stroke="#3a7a3a" stroke-width="0.8" transform="translate(249.7 227.5) rotate(-41.2)"/>
<path d="M291.4 204.2 C291.4 205 291.8 207.6 291.4 209.2 C291 210.7 289 212.2 289.1 213.6 C289.2 215 291.7 216.3 291.8 217.8 C291.9 219.3 290.1 220.8 289.9 222.4 C289.6 224 291.1 226.1 290.4 227.4 C289.8 228.6 287.7 229.6 286.1 229.9 C284.6 230.2 282.4 230.1 281.2 229.2 C279.9 228.4 278.7 226.2 278.8 224.8 C278.9 223.4 280.6 221.7 281.9 220.9 C283.3 220.2 285.3 220.6 286.9 220.5 C288.6 220.5 290.4 221 291.9 220.6 C293.5 220.2 295.5 219.5 296.3 218.2 C297.1 217 296.1 214.7 296.7 213.3 C297.4 211.8 299.7 210.3 300.3 209.7" fill="none" stroke="#5a5a5a" stroke-width="1.0"/>
<path d="M253.8 205.2 C253.6 206.1 253.4 208.6 252.8 210.1 C252.3 211.7 250.2 213.1 250.3 214.5 C250.4 215.9 252.2 217.3 253.4 218.4 C254.6 219.5 256.5 219.9 257.7 221.1 C258.8 222.2 259.4 224 260.4 225.3 C261.4 226.6 262.4 228.1 263.7 229 C265.1 229.8 266.9 229.9 268.5 230.3 C270.2 230.8 271.8 231 273.4 231.5 C275 232.1 276.4 233.1 277.9 233.6 C279.5 234.1 281.5 233.7 282.9 234.5 C284.2 235.2 285.4 236.8 286.2 238.2 C287 239.6 286.9 241.7 287.8 242.9 C288.8 244.1 290.6 245 292.1 245.5 C293.6 246.1 296.2 246.3 297 246.5" fill="none" stroke="#5a5a5a" stroke-width="1.0"/>
<path d="M234.6 174.6 C234.7 173.8 234.8 171.1 235.5 169.7 C236.3 168.3 239.2 166.3 239.2 166.3 C239.1 166.2 235.8 168 235.2 169.3 C234.6 170.6 235.4 172.6 235.7 174.3 C235.9 175.9 236.1 177.6 236.6 179.2 C237.2 180.7 237.9 182.4 238.9 183.6 C240 184.9 243 185.8 242.9 186.6 C242.8 187.5 239.8 189 238.5 188.9 C237.1 188.7 236 186 234.6 185.7 C233.2 185.4 231.3 186.4 229.8 187 C228.2 187.6 226.3 188.1 225.3 189.3 C224.3 190.5 223.3 192.7 223.7 194 C224 195.4 226 196.8 227.5 197.3 C228.9 197.8 231.6 196.9 232.4 196.8" fill="none" stroke="#083e08" stroke-width="1.2"/>
<path d="M231.6 229.6 C232.4 229.8 236.3 230 236.5 230.7 C236.7 231.4 233.4 232.5 232.6 233.8 C231.7 235.2 231.8 238.7 231.4 238.7 C231 238.7 229.9 235.2 230.3 233.8 C230.7 232.4 233.4 231.7 233.8 230.3 C234.2 228.9 233.3 226.9 232.6 225.4 C231.8 224 230.4 222.9 229.2 221.7 C228.1 220.5 226.3 219.7 225.6 218.3 C224.9 216.9 225.1 215 225 213.4 C225 211.7 225.6 210 225.4 208.4 C225.1 206.8 224.6 204.9 223.5 203.7 C222.5 202.5 220.6 202.1 219.2 201.3 C217.8 200.4 216.5 199.1 215 198.5 C213.5 197.9 210.9 197.7 210.1 197.6" fill="none" stroke="#083e08" stroke-width="1.2"/>
<path d="M184.6 221.4 C184.2 220.7 183.2 217.7 182 217.1 C180.7 216.5 178.5 218.3 177.1 217.9 C175.6 217.4 174.8 215 173.4 214.5 C171.9 213.9 168.5 214.1 168.4 214.6 C168.2 215.1 171 216.8 172.5 217.5 C174 218.2 175.7 218.4 177.3 218.7 C179 219 181 219.7 182.3 219.1 C183.6 218.5 184.4 216.5 185.2 215.1 C186.1 213.7 187.2 212.1 187.3 210.5 C187.4 209 186.3 207.3 186 205.7 C185.7 204.1 186.2 202.1 185.5 200.7 C184.8 199.3 183.3 197.6 181.9 197.3 C180.5 196.9 178.5 197.8 177 198.5 C175.6 199.3 173.8 201.2 173.2 201.7" fill="none" stroke="#083e08" stroke-width="1.2"/>
<path d="M201.8 238.1 C201.8 237.3 201.4 234.8 201.5 233.1 C201.6 231.5 201.7 229.6 202.5 228.2 C203.3 226.8 205.7 226.3 206.3 224.9 C206.8 223.5 206.5 221.1 205.7 219.9 C204.9 218.7 202.8 218.2 201.3 217.6 C199.7 217.1 197.9 216.5 196.4 216.7 C194.8 216.8 193.4 218.4 191.8 218.7 C190.2 219.1 188.5 219 186.8 218.9 C185.2 218.8 183.2 217.7 181.9 218.2 C180.6 218.8 179.5 220.8 178.9 222.2 C178.3 223.7 179 225.9 178.3 227.2 C177.5 228.5 175.7 229.6 174.3 230.2 C172.8 230.8 170.6 231.4 169.3 230.9 C168 230.3 166.9 227.5 166.4 226.8" fill="none" stroke="#083e08" stroke-width="1.2"/>
<rect x="-5.4" y="-7.6" width="10.8" height="15.1" rx="5.4" ry="3.2" fill="url(#c_dgreen)" stroke="#083e08" stroke-width="0.8" transform="translate(188.9 206.1) rotate(-1.9)"/>
<rect x="-5.1" y="-11.5" width="10.1" height="23" rx="5.1" ry="3" fill="url(#c_dgreen)" stroke="#083e08" stroke-width="0.8" transform="translate(233.5 213.6) rotate(-78.3)"/>
<rect x="-4.8" y="-12.6" width="9.7" height="25.2" rx="4.8" ry="2.9" fill="url(#c_dgreen)" stroke="#083e08" stroke-width="0.8" transform="translate(197.6 259.4) rotate(-15)"/>
<rect x="-4.5" y="-6.8" width="9" height="13.6" rx="4.5" ry="2.7" fill="url(#c_dgreen)" stroke="#083e08" stroke-width="0.8" transform="translate(188.3 220) rotate(-5)"/>
<rect x="-5.1" y="-13.4" width="10.3" height="26.8" rx="5.1" ry="3.1" fill="url(#c_dgreen)" stroke="#083e08" stroke-width="0.8" transform="translate(178.7 166.3) rotate(-67.1)"/>
<rect x="-5.4" y="-7.7" width="10.8" height="15.5" rx="5.4" ry="3.2" fill="url(#c_dgreen)" stroke="#083e08" stroke-width="0.8" transform="translate(220.4 229.3) rotate(-57.5)"/>
<rect x="-5.3" y="-6.3" width="10.6" height="12.7" rx="5.3" ry="3.2" fill="url(#c_dgreen)" stroke="#083e08" stroke-width="0.8" transform="translate(238.8 171.6) rotate(1.5)"/>
<rect x="-5.2" y="-10.1" width="10.4" height="20.1" rx="5.2" ry="3.1" fill="url(#c_dgreen)" stroke="#083e08" stroke-width="0.8" transform="translate(219.6 240.3) rotate(-54.2)"/>
<rect x="-5.2" y="-8.9" width="10.3" height="17.8" rx="5.2" ry="3.1" fill="url(#c_gray)" stroke="#4a4a4a" stroke-width="0.8" transform="translate(189.3 178.5) rotate(-9.6)"/>
<rect x="-5.2" y="-13.5" width="10.4" height="27" rx="5.2" ry="3.1" fill="url(#c_gray)" stroke="#4a4a4a" stroke-width="0.8" transform="translate(227.8 183.2) rotate(-63.3)"/>
<rect x="-4.7" y="-10.3" width="9.5" height="20.7" rx="4.7" ry="2.8" fill="url(#c_gray)" stroke="#4a4a4a" stroke-width="0.8" transform="translate(211.4 190.8) rotate(-59.1)"/>
<rect x="-5" y="-13.9" width="10.1" height="27.8" rx="5" ry="3" fill="url(#c_dgreen)" stroke="#083e08" stroke-width="0.8" transform="translate(209.6 216.5) rotate(7.6)"/>
<rect x="-4.7" y="-13.5" width="9.3" height="26.9" rx="4.7" ry="2.8" fill="url(#c_gray)" stroke="#4a4a4a" stroke-width="0.8" transform="translate(179.1 251.4) rotate(-44)"/>
<rect x="-5.2" y="-7.4" width="10.3" height="14.8" rx="5.2" ry="3.1" fill="url(#c_gray)" stroke="#4a4a4a" stroke-width="0.8" transform="translate(202.6 183.5) rotate(-59.2)"/>
<rect x="-4.8" y="-13.3" width="9.5" height="26.5" rx="4.8" ry="2.9" fill="url(#c_dgreen)" stroke="#083e08" stroke-width="0.8" transform="translate(209.6 248.9) rotate(-32.3)"/>
<rect x="-4.9" y="-10.3" width="9.8" height="20.6" rx="4.9" ry="2.9" fill="url(#c_dgreen)" stroke="#083e08" stroke-width="0.8" transform="translate(225.6 220.7) rotate(-78.7)"/>
<rect x="-4.7" y="-8.9" width="9.4" height="17.9" rx="4.7" ry="2.8" fill="url(#c_gray)" stroke="#4a4a4a" stroke-width="0.8" transform="translate(186.1 237.7) rotate(-39.1)"/>
<rect x="-5.2" y="-8.5" width="10.3" height="17.1" rx="5.2" ry="3.1" fill="url(#c_dgreen)" stroke="#083e08" stroke-width="0.8" transform="translate(193.2 243.4) rotate(-1.9)"/>
<rect x="-4.7" y="-12.4" width="9.4" height="24.7" rx="4.7" ry="2.8" fill="url(#c_dgreen)" stroke="#083e08" stroke-width="0.8" transform="translate(164.6 191.5) rotate(16.9)"/>
<rect x="-5" y="-14" width="10" height="28" rx="5" ry="3" fill="url(#c_dgreen)" stroke="#083e08" stroke-width="0.8" transform="translate(214 208.1) rotate(-4.2)"/>
<rect x="-5" y="-8.9" width="9.9" height="17.9" rx="5" ry="3" fill="url(#c_dgreen)" stroke="#083e08" stroke-width="0.8" transform="translate(240 226.9) rotate(-43.9)"/>
<rect x="-4.6" y="-8.6" width="9.3" height="17.2" rx="4.6" ry="2.8" fill="url(#c_dgreen)" stroke="#083e08" stroke-width="0.8" transform="translate(211.8 176.7) rotate(-11.9)"/>
<rect x="-5.1" y="-10" width="10.2" height="19.9" rx="5.1" ry="3.1" fill="url(#c_dgreen)" stroke="#083e08" stroke-width="0.8" transform="translate(170.8 208.3) rotate(-62.9)"/>
<rect x="-4.6" y="-11.6" width="9.1" height="23.1" rx="4.6" ry="2.7" fill="url(#c_gray)" stroke="#4a4a4a" stroke-width="0.8" transform="translate(227.8 163.9) rotate(-44.5)"/>
<rect x="-4.8" y="-8.3" width="9.6" height="16.6" rx="4.8" ry="2.9" fill="url(#c_dgreen)" stroke="#083e08" stroke-width="0.8" transform="translate(235.7 159.1) rotate(1)"/>
<rect x="-5.4" y="-10.3" width="10.8" height="20.6" rx="5.4" ry="3.2" fill="url(#c_gray)" stroke="#4a4a4a" stroke-width="0.8" transform="translate(181.3 226.6) rotate(-48.8)"/>
<path d="M167.4 181.1 C167.2 181.9 166.1 184.5 166.5 186 C166.8 187.5 169.2 188.4 169.6 189.9 C170 191.4 169.1 193.2 168.7 194.8 C168.3 196.4 166.6 198.9 167.2 199.6 C167.7 200.3 170.6 199.5 172.1 198.9 C173.6 198.3 175.1 197.3 176.2 196 C177.3 194.8 177.5 192.7 178.7 191.7 C179.9 190.7 182.1 189.8 183.4 190.2 C184.8 190.6 186 192.5 186.7 194 C187.4 195.4 187.2 197.3 187.8 198.8 C188.4 200.3 190 201.5 190.6 203 C191.1 204.5 191 206.3 191.1 208 C191.2 209.6 191.7 211.5 191.1 213 C190.6 214.4 188.4 216.2 187.9 216.8" fill="none" stroke="#083e08" stroke-width="1.0"/>
<path d="M206.6 250.4 C207.3 249.9 209.3 248 210.9 247.8 C212.4 247.5 214.7 247.9 215.8 248.8 C216.8 249.8 216 252.7 217 253.7 C218 254.7 221.8 255.1 221.8 255 C221.8 255 218.7 253.8 217.1 253.3 C215.5 252.8 213.3 253 212.3 252 C211.3 251 211.7 248.7 211.1 247.1 C210.6 245.6 209.6 244.2 209.1 242.6 C208.6 241 209.2 239 208.4 237.6 C207.6 236.3 205.9 234.9 204.4 234.6 C202.9 234.3 200.5 234.8 199.5 235.8 C198.5 236.8 199 239.1 198.5 240.7 C197.9 242.2 196.1 243.6 196 245.1 C195.9 246.6 197.6 248.9 197.9 249.7" fill="none" stroke="#083e08" stroke-width="1.0"/>
<rect x="-5" y="-12.6" width="10" height="25.1" rx="5" ry="3" fill="url(#c_gray)" stroke="#4a4a4a" stroke-width="0.8" transform="translate(189.5 197) rotate(137.1)"/>
<rect x="-5" y="-12.8" width="10" height="25.7" rx="5" ry="3" fill="url(#c_gray)" stroke="#4a4a4a" stroke-width="0.8" transform="translate(210 205) rotate(156)"/>
<rect x="-5" y="-12.8" width="10" height="25.7" rx="5" ry="3" fill="url(#c_gray)" stroke="#4a4a4a" stroke-width="0.8" transform="translate(194 237) rotate(156)"/>
<rect x="-5.5" y="-14.5" width="11" height="29.1" rx="5.5" ry="3.3" fill="url(#c_mgreen)" stroke="#2a6a2a" stroke-width="0.8" transform="translate(280 225.5) rotate(159.1)"/>
<rect x="-5" y="-12.2" width="10" height="24.4" rx="5" ry="3" fill="url(#c_mgreen)" stroke="#2a6a2a" stroke-width="0.8" transform="translate(285.5 230.5) rotate(157.6)"/>
<rect x="-5" y="-12.4" width="10" height="24.9" rx="5" ry="3" fill="url(#c_gray)" stroke="#4a4a4a" stroke-width="0.8" transform="translate(304 185) rotate(122)"/>
<rect x="-5" y="-15.3" width="10" height="30.7" rx="5" ry="3" fill="url(#c_lgray)" stroke="#5a5a5a" stroke-width="0.8" transform="translate(311.5 185.5) rotate(148.2)"/>
<rect x="-4.5" y="-11.5" width="9" height="23.1" rx="4.5" ry="2.7" fill="url(#c_lgray)" stroke="#5a5a5a" stroke-width="0.8" transform="translate(346 221.5) rotate(137.3)"/>
<rect x="-4.5" y="-11.5" width="9" height="23.1" rx="4.5" ry="2.7" fill="url(#c_lgray)" stroke="#5a5a5a" stroke-width="0.8" transform="translate(266 241.5) rotate(137.3)"/>
<rect x="-4.5" y="-13" width="9" height="26" rx="4.5" ry="2.7" fill="url(#c_gray)" stroke="#4a4a4a" stroke-width="0.8" transform="translate(241 207) rotate(150.9)"/>
<rect x="-4.5" y="-10.8" width="9" height="21.7" rx="4.5" ry="2.7" fill="url(#c_gray)" stroke="#4a4a4a" stroke-width="0.8" transform="translate(180 220.5) rotate(132.5)"/>
<rect x="-5.2" y="-24.5" width="10.4" height="48.9" rx="5.2" ry="3.1" fill="url(#c_lgray)" stroke="#5a5a5a" stroke-width="0.8" transform="translate(171.6 190.2) rotate(176.9)"/>
<rect x="-5.2" y="-17.4" width="10.4" height="34.7" rx="5.2" ry="3.1" fill="url(#c_lgray)" stroke="#5a5a5a" stroke-width="0.8" transform="translate(159.4 192.5) rotate(148.2)"/>
<rect x="-5.2" y="-9.7" width="10.4" height="19.4" rx="5.2" ry="3.1" fill="url(#c_lgray)" stroke="#5a5a5a" stroke-width="0.8" transform="translate(146.7 196) rotate(127.6)"/>
<rect x="-4" y="-7.4" width="8" height="14.8" rx="4" ry="2.4" fill="url(#c_gray)" stroke="#4a4a4a" stroke-width="0.8" transform="translate(162 173) rotate(126.9)"/>
<rect x="-4" y="-7" width="8" height="14" rx="4" ry="2.4" fill="url(#c_gray)" stroke="#4a4a4a" stroke-width="0.8" transform="translate(183 166.5) rotate(139.4)"/>
<rect x="-4.5" y="-19.1" width="9" height="38.2" rx="4.5" ry="2.7" fill="url(#c_dgreen)" stroke="#083e08" stroke-width="0.8" transform="translate(215.4 173.5) rotate(140.7)"/>
<rect x="-5.8" y="-12.4" width="11.5" height="24.8" rx="5.8" ry="3.4" fill="url(#c_dgreen)" stroke="#083e08" stroke-width="0.8" transform="translate(201.6 174.1) rotate(164.8)"/>
<rect x="-5.8" y="-19.7" width="11.5" height="39.4" rx="5.8" ry="3.4" fill="url(#c_dgreen)" stroke="#083e08" stroke-width="0.8" transform="translate(229.8 173.4) rotate(173.6)"/>
<rect x="-5.8" y="-15.7" width="11.5" height="31.5" rx="5.8" ry="3.4" fill="url(#c_dgreen)" stroke="#083e08" stroke-width="0.8" transform="translate(236.1 204.7) rotate(138.8)"/>
<rect x="-4.5" y="-6.4" width="9" height="12.8" rx="4.5" ry="2.7" fill="url(#c_dgreen)" stroke="#083e08" stroke-width="0.8" transform="translate(184.2 182.5) rotate(161.1)"/>
<rect x="-5.8" y="-15.2" width="11.5" height="30.3" rx="5.8" ry="3.4" fill="url(#c_dgreen)" stroke="#083e08" stroke-width="0.8" transform="translate(179.6 220.2) rotate(81.7)"/>
<rect x="-5.8" y="-12.5" width="11.5" height="25" rx="5.8" ry="3.4" fill="url(#c_dgreen)" stroke="#083e08" stroke-width="0.8" transform="translate(173.8 241.6) rotate(140.2)"/>
<rect x="-5.8" y="-19" width="11.5" height="38" rx="5.8" ry="3.4" fill="url(#c_dgreen)" stroke="#083e08" stroke-width="0.8" transform="translate(217.1 238) rotate(164.7)"/>
<rect x="-5.2" y="-13.5" width="10.4" height="27.1" rx="5.2" ry="3.1" fill="url(#c_dgreen)" stroke="#083e08" stroke-width="0.8" transform="translate(220.6 219.5) rotate(109.7)"/>
<rect x="-4.5" y="-5.8" width="9" height="11.6" rx="4.5" ry="2.7" fill="url(#c_dgreen)" stroke="#083e08" stroke-width="0.8" transform="translate(232.1 226.6) rotate(111.6)"/>
<rect x="-4.8" y="-10.1" width="9.5" height="20.2" rx="4.8" ry="2.9" fill="url(#c_dgreen)" stroke="#083e08" stroke-width="0.8" transform="translate(247.7 174.6) rotate(161.6)"/>
<rect x="-4.2" y="-6.3" width="8.5" height="12.5" rx="4.2" ry="2.5" fill="url(#c_dgreen)" stroke="#083e08" stroke-width="0.8" transform="translate(259.3 184.4) rotate(141.6)"/>
<rect x="-4.8" y="-9.6" width="9.5" height="19.1" rx="4.8" ry="2.9" fill="url(#c_dgreen)" stroke="#083e08" stroke-width="0.8" transform="translate(188.9 249.7) rotate(149)"/>
<rect x="-4.5" y="-13.1" width="9" height="26.3" rx="4.5" ry="2.7" fill="url(#c_dgreen)" stroke="#083e08" stroke-width="0.8" transform="translate(219 190) rotate(163.3)"/>
<rect x="-5.8" y="-17.9" width="11.5" height="35.9" rx="5.8" ry="3.4" fill="url(#c_mgreen)" stroke="#2a6a2a" stroke-width="0.8" transform="translate(269.6 171.8) rotate(175.4)"/>
<rect x="-5.8" y="-18.2" width="11.5" height="36.4" rx="5.8" ry="3.4" fill="url(#c_lgreen)" stroke="#3a7a3a" stroke-width="0.8" transform="translate(277.1 176.3) rotate(-154.5)"/>
<rect x="-5.2" y="-14.2" width="10.4" height="28.4" rx="5.2" ry="3.1" fill="url(#c_lgray)" stroke="#5a5a5a" stroke-width="0.8" transform="translate(277.1 195.9) rotate(99.1)"/>
<rect x="-4.8" y="-10.4" width="9.5" height="20.7" rx="4.8" ry="2.9" fill="url(#c_lgray)" stroke="#5a5a5a" stroke-width="0.8" transform="translate(261 208.6) rotate(94.6)"/>
<rect x="-4.5" y="-7.5" width="9" height="15" rx="4.5" ry="2.7" fill="url(#c_gray)" stroke="#4a4a4a" stroke-width="0.8" transform="translate(263.9 226.6) rotate(103.9)"/>
<rect x="-6.3" y="-17.6" width="12.7" height="35.1" rx="6.3" ry="3.8" fill="url(#c_lgray)" stroke="#5a5a5a" stroke-width="0.8" transform="translate(297.4 228.3) rotate(-165.5)"/>
<rect x="-5.8" y="-15.2" width="11.5" height="30.5" rx="5.8" ry="3.4" fill="url(#c_gray)" stroke="#4a4a4a" stroke-width="0.8" transform="translate(322.7 218.4) rotate(168.7)"/>
<rect x="-5.5" y="-11" width="11" height="22" rx="5.5" ry="3.3" fill="url(#c_lgray)" stroke="#5a5a5a" stroke-width="0.8" transform="translate(322.1 170.5) rotate(166.9)"/>
<rect x="-5.2" y="-15" width="10.4" height="30" rx="5.2" ry="3.1" fill="url(#c_gray)" stroke="#4a4a4a" stroke-width="0.8" transform="translate(336 195.4) rotate(140.8)"/>
<rect x="-4.8" y="-9.6" width="9.5" height="19.1" rx="4.8" ry="2.9" fill="url(#c_lgray)" stroke="#5a5a5a" stroke-width="0.8" transform="translate(352.8 201.1) rotate(121)"/>
<rect x="-4.8" y="-7.2" width="9.5" height="14.4" rx="4.8" ry="2.9" fill="url(#c_lgray)" stroke="#5a5a5a" stroke-width="0.8" transform="translate(295.6 170.6) rotate(113)"/>
<rect x="-4.8" y="-11.2" width="9.5" height="22.3" rx="4.8" ry="2.9" fill="url(#c_mgreen)" stroke="#2a6a2a" stroke-width="0.8" transform="translate(310 211.5) rotate(122.7)"/>
<rect x="-4.8" y="-9.2" width="9.5" height="18.3" rx="4.8" ry="2.9" fill="url(#c_lgreen)" stroke="#3a7a3a" stroke-width="0.8" transform="translate(306.5 243.2) rotate(146.3)"/>
<rect x="-4" y="-6" width="8" height="12" rx="4" ry="2.4" fill="url(#c_lgreen)" stroke="#3a7a3a" stroke-width="0.8" transform="translate(319 234) rotate(123.7)"/>
<rect x="-4.5" y="-8.5" width="9" height="16.9" rx="4.5" ry="2.7" fill="url(#c_lgray)" stroke="#5a5a5a" stroke-width="0.8" transform="translate(310 228.9) rotate(126.9)"/>
<rect x="-4.5" y="-11.6" width="9" height="23.3" rx="4.5" ry="2.7" fill="url(#c_lgray)" stroke="#5a5a5a" stroke-width="0.8" transform="translate(334 178) rotate(153.4)"/>
<path d="M189.1 166.3 C188.5 166.6 186.8 167.9 185.5 168.1 C184.3 168.4 181.9 167.3 181.5 167.8 C181.2 168.3 182.6 170.3 183.4 171.3 C184.2 172.4 185.1 173.6 186.1 174.2 C187.2 174.9 188.7 175 190 175.4 C191.2 175.8 192.7 176 193.8 176.6 C194.9 177.3 196.1 178.3 196.6 179.4 C197.2 180.6 197 182.1 197 183.4 C197.1 184.8 196.5 186.1 196.7 187.4 C196.9 188.7 197.6 190 198.3 191.1 C199.1 192.2 200.7 192.7 201.2 193.9 C201.6 195 201.1 197.2 201 197.9" fill="none" stroke="#083e08" stroke-width="1.0"/>
<path d="M207.5 159 C207.3 159.6 206.6 161.6 205.8 162.6 C205 163.7 203.2 164.2 202.8 165.3 C202.5 166.4 203 168.1 203.6 169.2 C204.1 170.4 205.1 171.8 206.2 172.2 C207.3 172.6 208.9 171.9 210.2 171.7 C211.5 171.5 213.1 170.5 214.1 171 C215.2 171.4 215.7 173.1 216.4 174.3 C217 175.4 217.5 176.7 218.2 177.8 C219 178.9 220.7 179.6 221 180.7 C221.3 181.8 219.7 183.4 219.9 184.5 C220.2 185.7 221.5 186.8 222.5 187.6 C223.5 188.4 225.4 189.3 226 189.6" fill="none" stroke="#083e08" stroke-width="1.0"/>
<path d="M231.7 154.1 C231.8 154.7 231.8 157.2 232.6 158 C233.4 158.7 236.5 158.3 236.5 158.7 C236.6 159 234.1 159.7 232.9 160.3 C231.7 160.9 230.4 161.5 229.4 162.3 C228.4 163.1 227.6 164.2 226.6 165.2 C225.7 166.1 224 166.8 223.7 167.9 C223.4 169 224.1 170.7 224.8 171.8 C225.5 172.8 227.6 173.1 228 174.1 C228.4 175.2 227.4 176.7 227.2 178.1 C227 179.4 227 180.7 227 182.1 C226.9 183.4 226.4 185 227 186.1 C227.6 187.1 229.8 187.9 230.4 188.2" fill="none" stroke="#083e08" stroke-width="1.0"/>
<path d="M187.7 258 C187.4 257.4 187.1 255 186.2 254.3 C185.3 253.6 183.6 253.8 182.2 253.8 C180.9 253.9 179.5 254.6 178.3 254.4 C177 254.1 174.8 252.4 174.8 252.4 C174.9 252.3 177.4 253.2 178.6 253.8 C179.7 254.4 181.3 256.4 181.9 256.1 C182.4 255.8 181.6 253.4 181.8 252.1 C182.1 250.8 182.5 249.5 183.2 248.3 C183.8 247.2 185.5 246.3 185.7 245.2 C185.8 244.1 184.9 242.2 183.9 241.6 C183 241 181.1 242 179.9 241.6 C178.7 241.2 177.3 239.7 176.7 239.3" fill="none" stroke="#083e08" stroke-width="1.0"/>
<path d="M198.8 249.2 C199.4 249.2 201.5 249.2 202.8 248.8 C204 248.5 205.4 247.1 206.5 247.3 C207.5 247.5 208.7 249.1 209.2 250.2 C209.8 251.3 210.2 253 209.8 254.2 C209.4 255.3 207.5 257.2 207 257 C206.5 256.8 206.4 254.2 206.8 253 C207.1 251.8 208.4 250.9 209.1 249.7 C209.8 248.6 209.8 246.7 210.8 246.1 C211.7 245.5 213.9 245.5 214.8 246.1 C215.7 246.7 215.4 248.9 216.3 249.8 C217.1 250.7 218.6 251.2 219.8 251.7 C221 252.2 223 252.8 223.6 253" fill="none" stroke="#083e08" stroke-width="1.0"/>
<path d="M187 204.9 C186.6 205.5 184.9 207 184.7 208.2 C184.4 209.4 185 211.1 185.7 212 C186.5 213 188 213.4 189.2 214 C190.4 214.5 191.8 215.6 192.9 215.5 C194.1 215.4 195.2 214.1 196.2 213.2 C197.1 212.3 197.6 210.5 198.6 210 C199.7 209.5 201.6 209.6 202.6 210.2 C203.7 210.8 203.9 212.8 204.9 213.5 C205.9 214.2 207.7 214.8 208.8 214.5 C209.8 214.1 210.2 211.9 211.2 211.3 C212.3 210.7 214.2 210.3 215.2 210.8 C216.2 211.3 217 213.6 217.4 214.1" fill="none" stroke="#083e08" stroke-width="1.0"/>
<path d="M214.1 168.4 C213.6 168.8 212.1 170.7 210.9 170.8 C209.8 171 208.4 169.1 207.3 169.3 C206.1 169.4 204.8 170.8 204.3 171.9 C203.7 173 203.9 174.6 203.9 175.9 C203.9 177.2 203.8 178.7 204.2 179.9 C204.6 181.1 206.2 181.9 206.6 183.1 C207 184.3 206.5 185.8 206.7 187.1 C206.9 188.4 208 189.6 208 190.9 C208 192.1 206.6 193.4 206.7 194.7 C206.8 195.9 208 197 208.7 198.2 C209.3 199.3 210.6 200.6 210.5 201.7 C210.3 202.8 208.4 204.3 208 204.9" fill="none" stroke="#083e08" stroke-width="1.0"/>
<path d="M222.7 163.4 C223 163.9 223.8 165.8 224.7 166.8 C225.5 167.8 226.5 168.8 227.6 169.5 C228.7 170.2 230 170.7 231.3 171.2 C232.5 171.7 233.8 172 235 172.6 C236.2 173.2 237.9 173.8 238.4 174.8 C238.8 175.8 237.7 177.5 237.9 178.8 C238.1 180 239.3 181 239.8 182.3 C240.4 183.5 241.5 185.8 241.2 186 C240.9 186.2 239 184.4 238 183.6 C237 182.7 235.8 181.9 235.1 180.8 C234.5 179.7 234.9 177.8 234.2 176.9 C233.4 176 231.2 175.5 230.6 175.2" fill="none" stroke="#083e08" stroke-width="1.0"/>
<path d="M302.9 224.8 C303.5 225.3 304.9 226.7 306 227.4 C307.1 228.2 308.3 228.7 309.5 229.4 C310.7 230 311.9 230.5 313 231.3 C314 232.1 315.3 233 315.8 234.2 C316.3 235.3 316.7 237.7 316.1 238.1 C315.6 238.5 313.7 237 312.5 236.5 C311.3 236 310 234.7 308.8 234.9 C307.7 235 306.6 236.4 305.8 237.4 C304.9 238.4 304 239.5 303.5 240.7 C302.9 241.9 302.1 243.5 302.5 244.6 C302.9 245.6 304.5 246.5 305.7 247 C306.9 247.6 309 247.6 309.6 247.7" fill="none" stroke="#5a5a5a" stroke-width="1.0"/>
<path d="M299.1 219.5 C299.6 219.1 301 217.6 302 216.7 C302.9 215.8 303.8 214.7 305 214.1 C306.2 213.5 307.8 212.9 308.9 213.3 C310 213.7 311.3 215.2 311.6 216.3 C311.8 217.4 311.1 219.4 310.2 220.1 C309.3 220.7 307.4 219.9 306.2 220.2 C304.9 220.6 303.4 221.2 302.7 222.2 C301.9 223.2 302.5 225.2 301.7 226.1 C300.9 226.9 298.7 226.4 297.8 227.2 C297 228 297 229.7 296.7 231 C296.5 232.3 296.7 233.8 296.1 235 C295.6 236.1 293.9 237.5 293.5 238" fill="none" stroke="#5a5a5a" stroke-width="1.0"/>
<path d="M308.8 191.9 C309.2 191.3 310.2 189.7 311.1 188.6 C311.9 187.6 312.7 186.2 313.8 185.7 C314.9 185.1 316.7 186.1 317.8 185.5 C318.8 184.9 319.6 183.5 320.2 182.3 C320.8 181.2 321 179.8 321.4 178.5 C321.8 177.3 322.1 175.9 322.6 174.7 C323 173.5 324.2 172.3 324.3 171.1 C324.4 169.8 323.7 168.5 323.3 167.2 C322.9 165.9 322.8 164.2 321.9 163.5 C321 162.8 319 162.5 317.9 162.9 C316.8 163.3 315.9 164.7 315.2 165.9 C314.6 167 314.1 169 313.9 169.6" fill="none" stroke="#5a5a5a" stroke-width="1.0"/>
<path d="M276.3 180.1 C276.7 179.7 278.5 178.5 279.1 177.3 C279.7 176.2 279.3 174.4 280 173.4 C280.7 172.4 282.1 171.8 283.4 171.3 C284.6 170.8 286 170.8 287.2 170.3 C288.4 169.8 289.5 168.7 290.7 168.3 C291.9 167.8 293.5 168 294.6 167.4 C295.7 166.8 296.7 165.6 297.3 164.5 C297.9 163.3 297.3 161.5 298 160.5 C298.7 159.5 300.4 159.3 301.5 158.6 C302.6 157.9 303.6 156.4 304.7 156.2 C305.9 156 308.5 157 308.5 157.5 C308.6 158 305.5 159 304.9 159.3" fill="none" stroke="#5a5a5a" stroke-width="1.0"/>
<path d="M260.8 156.9 C260.8 157.6 260 159.9 260.5 160.9 C261 161.9 262.9 162.8 264 162.7 C265.2 162.6 266.1 160.7 267.3 160.4 C268.5 160.1 269.9 160.8 271.3 161 C272.6 161.2 274.2 160.9 275.2 161.6 C276.2 162.3 276.2 164.5 277.2 165 C278.3 165.6 279.9 164.7 281.2 164.8 C282.6 164.8 284.1 165.7 285.2 165.3 C286.3 165 286.9 163.2 288.1 162.5 C289.2 161.9 290.6 161.7 291.9 161.6 C293.3 161.4 294.6 161.5 295.9 161.7 C297.2 161.9 299.1 162.6 299.8 162.8" fill="none" stroke="#5a5a5a" stroke-width="1.0"/>
<path d="M271.1 250.1 C271.8 249.9 273.6 248.9 274.9 248.7 C276.2 248.6 277.8 249.6 278.9 249.1 C280 248.7 281.2 247.2 281.4 246 C281.6 244.9 280.6 243.5 280 242.3 C279.5 241 278.6 239.9 278.3 238.7 C277.9 237.4 277.5 235.8 277.9 234.7 C278.4 233.6 279.8 232.6 280.9 232 C282.1 231.5 284 232 284.9 231.3 C285.7 230.5 285.6 228.7 286.2 227.5 C286.9 226.4 287.7 225 288.8 224.4 C289.9 223.9 291.7 224.8 292.8 224.2 C293.8 223.6 294.7 221.5 295 220.9" fill="none" stroke="#5a5a5a" stroke-width="1.0"/>
<path d="M336.4 178.4 C336.9 178.8 338.8 179.8 339.5 180.9 C340.2 182 340.3 183.5 340.6 184.7 C340.9 186 341.8 187.5 341.5 188.6 C341.2 189.8 339.7 190.6 338.9 191.6 C338 192.6 336.7 193.6 336.4 194.8 C336.2 196 336.5 197.6 337.2 198.7 C337.8 199.8 339 200.8 340.2 201.3 C341.3 201.9 343.2 201.2 344.1 201.9 C345 202.6 344.7 204.7 345.5 205.7 C346.3 206.6 347.8 207.6 349 207.6 C350.2 207.6 351.5 206.6 352.6 205.8 C353.6 205 354.8 203.3 355.3 202.8" fill="none" stroke="#5a5a5a" stroke-width="1.0"/>
<path d="M253.7 195.7 C253.4 195.1 252.9 192.9 252 192.1 C251.1 191.2 249.4 190.6 248.2 190.7 C247 190.8 244.7 192.7 244.7 192.7 C244.7 192.7 246.9 191 248.2 190.6 C249.4 190.2 250.8 190.5 252.1 190.3 C253.5 190.1 254.7 189.6 256 189.4 C257.4 189.2 259 188.7 260 189.2 C261.1 189.7 261.3 191.9 262.4 192.5 C263.4 193.1 265.1 193.1 266.4 192.8 C267.6 192.6 268.8 191.6 269.9 191 C271.1 190.4 272.3 189.8 273.5 189.2 C274.7 188.6 276.6 187.9 277.2 187.7" fill="none" stroke="#5a5a5a" stroke-width="1.0"/>
<path d="M191 278.7 C190.6 278.2 188.8 276.9 188.3 275.7 C187.8 274.6 187.6 272.9 188.1 271.7 C188.5 270.6 190.2 269.9 190.8 268.8 C191.4 267.6 192 266.1 191.8 264.9 C191.5 263.7 190.3 262.5 189.2 261.8 C188.1 261.1 186.7 260.8 185.4 260.6 C184.1 260.5 182.5 261.3 181.4 260.8 C180.3 260.3 179.9 258.4 178.9 257.7 C177.8 256.9 176.3 257 175.1 256.4 C173.9 255.8 172.1 253.8 171.9 254 C171.7 254.1 174.1 256.2 174.1 257.3 C174.2 258.4 172.3 259.6 172.2 260.8 C172.2 262 173.7 263.2 173.8 264.5 C174 265.7 173.1 267.7 172.9 268.4" fill="none" stroke="#7a6644" stroke-width="1.2"/>
<path d="M162.8 256.9 C162.8 257.6 162.7 259.6 162.5 260.9 C162.2 262.2 161.1 263.7 161.4 264.8 C161.7 265.9 164 266.5 164.2 267.6 C164.5 268.7 163.2 270 162.9 271.3 C162.6 272.6 163 274 162.7 275.3 C162.4 276.6 162 278 161.2 279 C160.4 280.1 158.7 280.4 158 281.5 C157.2 282.5 156.9 283.9 156.6 285.2 C156.3 286.5 156 287.9 156.1 289.2 C156.2 290.5 156.4 292.2 157.2 293 C158 293.9 159.9 294.5 161 294.3 C162.1 294 162.9 292.2 164 291.6 C165.2 291 166.7 291.2 167.9 290.8 C169.2 290.4 171 289.5 171.6 289.2" fill="none" stroke="#7a6644" stroke-width="1.2"/>
<path d="M189.5 255 C189.8 255.6 191.3 257.5 191.2 258.6 C191.1 259.8 189.9 261.2 188.9 261.9 C187.8 262.6 186.2 263.1 185 262.9 C183.9 262.6 183 261.2 181.9 260.3 C180.9 259.4 180.1 258 178.9 257.7 C177.8 257.4 176.3 258.2 175 258.6 C173.8 259.1 172.3 259.5 171.4 260.3 C170.5 261.2 169.5 262.8 169.6 263.9 C169.7 265 171.3 265.9 172 267.1 C172.8 268.2 173.1 269.6 174 270.6 C174.9 271.5 176.2 272.6 177.3 272.7 C178.5 272.8 179.8 271.7 181.1 271.2 C182.3 270.7 183.7 269.6 184.8 269.8 C186 270 187.4 272 187.9 272.4" fill="none" stroke="#7a6644" stroke-width="1.2"/>
<path d="M193.3 274.4 C193.5 275 194.8 277.8 194.4 278.2 C194 278.6 191.9 277.3 190.7 276.8 C189.4 276.3 188.2 275 187.1 275 C185.9 275.1 184.8 277.1 183.7 277.1 C182.5 277 181.5 275.6 180.4 274.7 C179.4 273.9 178.5 272.9 177.4 272.1 C176.4 271.3 175.3 270.3 174.1 269.9 C172.9 269.5 171.4 269.9 170.1 269.8 C168.8 269.6 167 269.9 166.1 269.2 C165.3 268.4 165.5 266.6 165 265.3 C164.5 264.1 164.2 262.6 163.3 261.7 C162.4 260.9 160.8 260.7 159.6 260.1 C158.4 259.5 156.5 258 156 258.3 C155.5 258.7 156.4 261.7 156.5 262.3" fill="none" stroke="#7a6644" stroke-width="1.2"/>
<path d="M165.1 282.4 C165.5 281.9 166.4 279.9 167.5 279.2 C168.5 278.6 170.1 278.7 171.4 278.5 C172.7 278.3 174.4 278.7 175.4 278 C176.4 277.4 177.6 275.9 177.6 274.7 C177.7 273.6 175.7 272.3 175.8 271.2 C175.8 270 177.3 269 178 267.8 C178.6 266.7 179.3 265.5 179.8 264.3 C180.4 263.1 180.4 261.3 181.2 260.5 C182.1 259.8 183.8 259.9 185.2 259.7 C186.5 259.5 187.8 259.6 189.2 259.6 C190.5 259.5 193 259.1 193.1 259.4 C193.2 259.8 191 261.2 189.7 261.5 C188.5 261.9 187 261.1 185.7 261.4 C184.5 261.7 182.9 263.1 182.3 263.5" fill="none" stroke="#7a6644" stroke-width="1.2"/>
<path d="M169.5 288.4 C168.9 288.6 166.7 288.6 165.6 289.3 C164.6 290 164.2 291.7 163.2 292.5 C162.2 293.3 160.9 294 159.7 294.3 C158.4 294.5 156.8 293.5 155.7 293.9 C154.6 294.4 154.2 296.7 153.1 297 C152 297.3 149.4 296.3 149.3 295.7 C149.2 295.2 152 294.6 152.7 293.6 C153.4 292.6 153.9 290.8 153.6 289.7 C153.3 288.6 151.8 287.7 150.8 286.8 C149.8 285.9 147.8 284.2 147.7 284.3 C147.5 284.5 149.7 286.4 150 287.6 C150.2 288.8 148.8 290.3 149 291.5 C149.2 292.7 150.7 293.6 151.1 294.9 C151.5 296.1 151.4 298.2 151.4 298.9" fill="none" stroke="#7a6644" stroke-width="1.2"/>
<path d="M151.3 279.9 C151.5 280.5 151.7 282.9 152.6 283.6 C153.4 284.4 155.3 283.8 156.5 284.3 C157.7 284.8 158.4 286.6 159.6 286.8 C160.8 287.1 162.2 285.9 163.5 286 C164.8 286.1 165.9 287.3 167.2 287.6 C168.4 287.9 169.8 287.6 171.2 287.7 C172.5 287.9 173.8 288.2 175 288.7 C176.2 289.3 177.2 290.2 178.4 290.9 C179.5 291.6 181.1 292 181.8 293 C182.4 294 182.7 295.9 182.2 297 C181.8 298.1 179.4 299.7 179.1 299.5 C178.9 299.3 180.4 297.1 180.6 295.8 C180.8 294.5 179.9 292.9 180.4 291.8 C180.9 290.7 183 289.6 183.5 289.2" fill="none" stroke="#7a6644" stroke-width="1.2"/>
<path d="M310.7 271.8 C310.2 271.4 307.3 270.1 307.4 269.5 C307.5 269 310 268.5 311.3 268.4 C312.6 268.3 314.1 268.3 315.2 268.7 C316.4 269.2 317.6 270.3 318.3 271.3 C319 272.4 318.7 274.5 319.6 275.1 C320.4 275.8 322.6 274.7 323.5 275.3 C324.5 276 324.5 277.9 325.3 278.9 C326.1 280 327.9 280.3 328.4 281.4 C329 282.5 328.8 284.1 328.7 285.4 C328.5 286.7 327.7 287.9 327.3 289.2 C327 290.5 326.3 292.9 326.8 293.2 C327.2 293.4 328.8 291.4 330 290.8 C331.2 290.3 332.7 290.6 334 290.1 C335.2 289.6 336.7 288.2 337.3 287.9" fill="none" stroke="#7a6644" stroke-width="1.2"/>
<path d="M336.5 275.2 C336.5 274.5 336.1 272.4 336.6 271.2 C337.1 270.1 338.9 269.4 339.3 268.3 C339.7 267.1 339.1 265.6 339 264.3 C338.9 262.9 339.4 261.1 338.7 260.3 C338 259.4 335.8 259.9 334.8 259.2 C333.8 258.4 333 255.7 332.6 255.8 C332.2 255.9 332.9 258.7 332.4 259.8 C331.8 260.9 329.6 261.3 329.3 262.4 C328.9 263.5 329.9 265 330.2 266.3 C330.4 267.6 330.5 268.9 330.7 270.3 C330.9 271.6 330.7 273.2 331.5 274.2 C332.2 275.1 333.8 275.8 335 276 C336.3 276.1 337.8 274.7 338.9 275 C340 275.4 341 277.6 341.4 278.1" fill="none" stroke="#7a6644" stroke-width="1.2"/>
<path d="M341.7 264.5 C342.2 264.1 343.8 262.9 344.7 261.9 C345.6 260.9 347.1 258.7 346.9 258.6 C346.7 258.4 344.4 259.9 343.7 261 C343 262 342.6 263.5 342.6 264.8 C342.6 266.1 342.8 267.9 343.6 268.7 C344.5 269.4 347.5 269.4 347.6 269.2 C347.7 269 345.2 268 344.1 267.3 C343 266.5 341.7 265.7 341 264.7 C340.3 263.6 340.3 262.1 339.9 260.8 C339.6 259.5 338.7 257 338.8 257 C338.9 256.9 339.7 259.6 340.5 260.6 C341.3 261.6 342.9 262.1 343.6 263.1 C344.4 264.2 344.3 265.7 344.9 266.9 C345.5 268.1 346.9 269.6 347.3 270.1" fill="none" stroke="#7a6644" stroke-width="1.2"/>
<path d="M330.7 285.3 C330 285.2 327.7 284.4 326.7 284.9 C325.6 285.4 324.8 287 324.4 288.2 C324 289.4 324.7 291.1 324.2 292.2 C323.7 293.3 321.7 295 321.2 294.8 C320.7 294.6 321.8 291.8 321.2 290.8 C320.7 289.8 318.9 288.7 317.8 288.8 C316.6 288.9 315.8 290.8 314.6 291.2 C313.4 291.6 311.6 290.7 310.6 291.2 C309.5 291.8 308.3 294.5 308.2 294.5 C308.2 294.4 309.6 292.2 310.2 291 C310.8 289.8 310.8 288.2 311.7 287.3 C312.5 286.4 314.1 286.1 315.2 285.5 C316.4 284.8 317.5 284.1 318.7 283.4 C319.9 282.8 321.6 281.9 322.2 281.6" fill="none" stroke="#7a6644" stroke-width="1.2"/>
<path d="M306.1 286.8 C306.3 286.2 306.8 284 307.6 283.1 C308.5 282.3 310.1 282 311.4 281.7 C312.7 281.4 314.1 281.2 315.4 281.4 C316.6 281.6 318.2 282.1 319 283 C319.8 284 320 285.6 320.2 286.9 C320.4 288.2 319.6 289.9 320.2 290.9 C320.9 291.8 323.5 292.8 323.9 292.4 C324.4 292 322.6 289.6 323 288.6 C323.3 287.5 325.5 287.2 326.2 286.2 C326.8 285.1 327.4 283.4 327 282.3 C326.7 281.1 325.2 280.2 324.1 279.5 C322.9 278.9 321.5 278 320.3 278.1 C319.1 278.3 318 279.5 317 280.4 C316.1 281.3 315 283 314.6 283.6" fill="none" stroke="#7a6644" stroke-width="1.2"/>
<path d="M308.8 263.8 C309.5 263.7 311.6 263.7 312.8 263.2 C314 262.7 314.8 261.3 316 260.8 C317.2 260.4 318.7 260.8 320 260.5 C321.3 260.2 322.9 260 323.8 259.2 C324.7 258.3 324.5 256.2 325.4 255.5 C326.3 254.9 328.3 254.8 329.4 255.3 C330.5 255.7 331.4 257.2 331.9 258.4 C332.5 259.5 332.2 261.2 332.8 262.2 C333.5 263.3 334.9 264 336 264.7 C337.1 265.4 338.4 265.9 339.6 266.4 C340.9 266.8 342.2 267.3 343.5 267.6 C344.8 267.8 347.1 267.3 347.4 267.9 C347.8 268.6 346 270.2 345.4 271.4 C344.8 272.6 344.1 274.4 343.8 275.1" fill="none" stroke="#7a6644" stroke-width="1.2"/>
<path d="M338 282.7 C338.6 282.5 340.4 281.2 341.6 281 C342.9 280.9 344.6 281.1 345.6 281.8 C346.5 282.5 347.5 284.2 347.4 285.3 C347.4 286.5 346.4 288 345.5 288.8 C344.5 289.6 342.9 289.6 341.7 290.2 C340.5 290.8 339.6 291.9 338.3 292.3 C337.1 292.8 335.7 293 334.4 293 C333.1 293 331.4 292.9 330.5 292.2 C329.5 291.5 329 289.9 328.8 288.6 C328.5 287.3 329 285.9 329 284.6 C329 283.3 329.3 281.7 328.7 280.6 C328.2 279.5 327 278.5 325.8 277.9 C324.7 277.2 323.3 276.6 322.1 276.5 C320.8 276.4 318.9 277.3 318.2 277.5" fill="none" stroke="#7a6644" stroke-width="1.2"/>
<path d="M265.9 287.4 C266.1 288 267.2 290 267 291.2 C266.9 292.4 265.2 294.8 265 294.7 C264.8 294.6 266.2 291.9 265.8 290.8 C265.5 289.6 263.9 288.9 263.1 287.9 C262.3 286.8 261.9 285.4 261.1 284.4 C260.3 283.3 259.3 282.1 258.2 281.7 C257 281.3 255.4 281.7 254.2 282.2 C253 282.7 251.3 283.5 251 284.6 C250.6 285.6 251.2 287.5 251.9 288.4 C252.7 289.4 254.2 289.8 255.5 290.3 C256.7 290.8 258.1 291.7 259.3 291.5 C260.4 291.3 261.9 289.5 262.5 289.1" fill="none" stroke="#7a6644" stroke-width="1.2"/>
<path d="M225.4 280.1 C225.9 280.5 227.6 281.8 228.8 282.2 C230 282.6 231.8 282 232.8 282.7 C233.7 283.4 233.5 285.6 234.4 286.3 C235.4 287 237.2 287.2 238.4 286.8 C239.6 286.5 241.2 285.3 241.5 284.2 C241.7 283.1 241 281.2 240.2 280.4 C239.3 279.7 237.5 280.1 236.3 279.7 C235 279.3 233.6 278.8 232.6 278 C231.7 277.1 231.3 275.7 230.6 274.5 C229.9 273.4 228.7 272.4 228.5 271.2 C228.2 269.9 228.9 268.5 229.1 267.2 C229.2 265.9 229.2 263.9 229.2 263.2" fill="none" stroke="#7a6644" stroke-width="1.2"/>
<path d="M280.1 282.1 C279.6 282.4 277.8 283.4 276.7 284.2 C275.7 285 274.7 285.9 273.8 286.9 C272.8 287.8 272.3 289.4 271.2 289.9 C270.1 290.5 268.4 289.8 267.2 290.4 C266.1 290.9 264.6 293.3 264.3 293.1 C264 292.9 264.8 290.2 265.6 289.3 C266.4 288.4 268.5 288.4 269.1 287.4 C269.8 286.5 269.2 284.8 269.4 283.4 C269.5 282.1 270.2 280.7 269.9 279.5 C269.7 278.2 268.3 277.3 267.9 276 C267.5 274.8 267.4 273.4 267.4 272.1 C267.4 270.7 267.7 268.7 267.8 268.1" fill="none" stroke="#7a6644" stroke-width="1.2"/>
<path d="M230.7 286.1 C230.3 286.7 228.2 289 228.5 289.5 C228.8 290 231.3 288.6 232.5 288.9 C233.7 289.1 234.7 290.5 236 290.8 C237.2 291.2 238.7 290.7 240 291 C241.2 291.4 242.3 292.9 243.5 292.9 C244.7 292.9 245.9 291.8 247.2 291.3 C248.4 290.7 250.1 290.7 250.9 289.8 C251.6 288.9 251.2 287.1 251.6 285.9 C252.1 284.6 252.7 283 253.7 282.4 C254.7 281.8 256.4 282.1 257.7 282.2 C259 282.4 260.4 283.7 261.5 283.4 C262.6 283.1 263.8 280.9 264.2 280.4" fill="none" stroke="#7a6644" stroke-width="1.2"/>
<path d="M255.8 277.5 C255.5 278.1 254.5 279.9 254.3 281.2 C254.2 282.5 254.7 283.9 254.9 285.2 C255.2 286.5 255.2 288.2 256 289 C256.9 289.8 258.7 289.5 259.9 290.1 C261.1 290.6 261.8 292.1 263 292.6 C264.2 293 265.7 293.1 267 292.8 C268.3 292.6 269.9 292.1 270.6 291.2 C271.3 290.2 271.3 288.5 271.2 287.2 C271.1 285.9 269.7 284.5 270 283.4 C270.2 282.3 272 281.5 272.6 280.4 C273.2 279.2 273.7 277.6 273.4 276.5 C273.1 275.3 271.1 274 270.7 273.6" fill="none" stroke="#7a6644" stroke-width="1.2"/>
<path d="M245.7 293.2 C246.4 293.3 248.5 294.1 249.7 293.9 C250.9 293.7 251.9 292.3 253.1 291.9 C254.4 291.5 255.8 291.7 257.1 291.5 C258.5 291.4 260.1 291.5 261.1 290.8 C262 290.1 261.8 288 262.7 287.2 C263.6 286.4 265.4 286.7 266.6 286.1 C267.7 285.5 268.5 284.1 269.7 283.6 C270.8 283 272.3 283 273.6 282.6 C274.8 282.2 276.1 281.1 277.3 281.2 C278.5 281.3 279.6 283.3 280.7 283.3 C281.9 283.3 283.9 281 284.2 281.3 C284.5 281.6 282.9 284.4 282.7 285" fill="none" stroke="#7a6644" stroke-width="1.2"/>
<path d="M232.1 261.6 C232.4 261 233.7 258 233.9 258 C234.1 258.1 233.7 260.7 233.5 262 C233.4 263.3 233.7 264.9 233.1 266 C232.5 267 231 267.7 229.9 268.4 C228.8 269 227.5 269.5 226.3 270.2 C225.2 270.8 224.2 271.9 223 272.4 C221.8 272.9 220.4 273.1 219.1 273.2 C217.8 273.3 216.4 272.8 215.1 272.9 C213.8 273 212.4 273.2 211.1 273.5 C209.8 273.8 208.2 274 207.3 274.8 C206.5 275.7 206.1 278.6 206 278.6 C205.9 278.6 206.7 275.3 206.8 274.7" fill="none" stroke="#4a4a4a" stroke-width="1.2"/>
<path d="M288.5 262.7 C287.9 263 286.4 264.3 285.2 264.9 C284 265.5 282.4 265.5 281.5 266.4 C280.6 267.3 280.3 268.8 279.9 270.1 C279.4 271.3 279.5 272.8 278.8 273.9 C278.1 275 276.5 276.8 275.8 276.6 C275.1 276.4 275.6 273.6 274.8 272.7 C274 271.8 272 272.1 271.1 271.3 C270.1 270.5 269 269.1 268.8 267.9 C268.7 266.7 270.5 265.4 270.4 264.2 C270.2 263.1 269 261.5 267.9 261 C266.9 260.6 265.3 261.5 263.9 261.4 C262.6 261.3 260.7 260.6 260 260.5" fill="none" stroke="#4a4a4a" stroke-width="1.2"/>
<path d="M232 271.4 C232.7 271.5 234.8 272.2 236 271.9 C237.2 271.5 238.3 270.3 239.1 269.3 C239.9 268.2 240 266.7 240.9 265.7 C241.7 264.7 243 264.1 244.1 263.3 C245.2 262.5 246.1 261.2 247.3 261 C248.5 260.8 250.3 261.2 251.2 261.9 C252.2 262.7 252.7 264.2 253.2 265.4 C253.7 266.6 254.4 268.1 254.1 269.3 C253.9 270.5 252.1 271.4 251.9 272.6 C251.6 273.8 252.6 276.5 252.5 276.5 C252.5 276.5 252.2 273.8 251.6 272.6 C251.1 271.5 249.6 270 249.1 269.5" fill="none" stroke="#4a4a4a" stroke-width="1.2"/>
<path d="M264.4 257.8 C264 258.4 263.3 260.4 262.3 261.2 C261.4 262 259.7 262.8 258.6 262.6 C257.4 262.4 255.9 261.1 255.5 260 C255.2 258.9 256.1 256 256.3 256.1 C256.5 256.1 257 258.9 256.6 260 C256.2 261.2 254.8 262.7 253.7 262.9 C252.7 263.1 251.3 261.2 250.1 261.3 C248.9 261.3 247.8 262.9 246.5 263.1 C245.3 263.3 243.7 263.1 242.5 262.6 C241.4 262.1 240.5 260.9 239.4 260.1 C238.3 259.4 237.2 258.4 236 258 C234.8 257.6 232.7 257.9 232 257.9" fill="none" stroke="#4a4a4a" stroke-width="1.2"/>
<path d="M221.5 265.3 C222 264.9 223.9 263.9 224.6 262.8 C225.4 261.8 225.3 260.2 225.9 259 C226.5 257.9 228.1 255.7 228.2 255.7 C228.3 255.8 227.1 258.2 226.4 259.3 C225.7 260.4 224.6 261.3 223.7 262.3 C222.9 263.4 221.9 264.4 221.4 265.6 C221 266.8 220.5 268.5 221 269.6 C221.5 270.6 223.6 270.7 224.4 271.7 C225.1 272.7 225.3 274.3 225.3 275.6 C225.4 276.9 225.2 279.5 224.8 279.5 C224.4 279.6 223.6 277.2 222.9 276 C222.3 274.8 221.4 273 221.1 272.4" fill="none" stroke="#4a4a4a" stroke-width="1.2"/>
<rect x="-8" y="-40.9" width="16" height="81.9" rx="8" ry="4.8" fill="url(#c_gray)" stroke="#4a4a4a" stroke-width="0.8" transform="translate(205 327) rotate(165.6)"/>
<rect x="-9" y="-40.9" width="18" height="81.8" rx="9" ry="5.4" fill="url(#c_gray)" stroke="#4a4a4a" stroke-width="0.8" transform="translate(256 335) rotate(170.3)"/>
<rect x="-7" y="-34.5" width="14" height="68.9" rx="7" ry="4.2" fill="url(#c_gray)" stroke="#4a4a4a" stroke-width="0.8" transform="translate(272 330) rotate(172.4)"/>
<rect x="-7" y="-34.4" width="14" height="68.8" rx="7" ry="4.2" fill="url(#c_gray)" stroke="#4a4a4a" stroke-width="0.8" transform="translate(228.5 330) rotate(173.3)"/>
<rect x="-5" y="-30.7" width="10" height="61.5" rx="5" ry="3" fill="url(#c_mgreen)" stroke="#2a6a2a" stroke-width="0.8" transform="translate(289.7 327.5) rotate(172.3)"/>
<rect x="-5" y="-24.4" width="10" height="48.8" rx="5" ry="3" fill="url(#c_tan)" stroke="#7a6644" stroke-width="0.8" transform="translate(189.8 297.3) rotate(175)"/>
<rect x="-5" y="-33" width="10" height="66" rx="5" ry="3" fill="url(#c_tan)" stroke="#7a6644" stroke-width="0.8" transform="translate(310 330) rotate(178.1)"/>
<rect x="-5.5" y="-14.5" width="11" height="29" rx="5.5" ry="3.3" fill="url(#c_gray)" stroke="#4a4a4a" stroke-width="0.8" transform="translate(242 381) rotate(169.7)"/>
<circle cx="286" cy="290.8" r="6" fill="#8c8c8c" stroke="#555" stroke-width="0.8"/>
<circle cx="229" cy="375" r="5" fill="#8c8c8c" stroke="#555" stroke-width="0.8"/>
<rect x="-5.5" y="-23.3" width="11" height="46.7" rx="5.5" ry="3.3" fill="url(#c_tan)" stroke="#7a6644" stroke-width="0.8" transform="translate(164.5 320.4) rotate(174.8)"/>
<rect x="-5.5" y="-14.9" width="11" height="29.8" rx="5.5" ry="3.3" fill="url(#c_tan)" stroke="#7a6644" stroke-width="0.8" transform="translate(158.3 354.5) rotate(-171.6)"/>
<rect x="-5" y="-11.7" width="10" height="23.4" rx="5" ry="3" fill="url(#c_tan)" stroke="#7a6644" stroke-width="0.8" transform="translate(169.2 362.2) rotate(168.4)"/>
<rect x="-6" y="-48.9" width="12" height="97.8" rx="6" ry="3.6" fill="url(#c_tan)" stroke="#7a6644" stroke-width="0.8" transform="translate(181.4 342.8) rotate(171.6)"/>
<rect x="-6" y="-32" width="12" height="64" rx="6" ry="3.6" fill="url(#c_dgreen)" stroke="#083e08" stroke-width="0.8" transform="translate(203.8 324.1) rotate(180)"/>
<rect x="-4.5" y="-9.2" width="9" height="18.4" rx="4.5" ry="2.7" fill="url(#c_dgreen)" stroke="#083e08" stroke-width="0.8" transform="translate(207.5 366) rotate(157.4)"/>
<rect x="-5.5" y="-72.8" width="11" height="145.6" rx="5.5" ry="3.3" fill="url(#c_dgreen)" stroke="#083e08" stroke-width="0.8" transform="translate(222.6 330.8) rotate(-163.3)"/>
<rect x="-6.5" y="-15.9" width="13" height="31.8" rx="6.5" ry="3.9" fill="url(#c_tan)" stroke="#7a6644" stroke-width="0.8" transform="translate(223.1 299.3) rotate(135.2)"/>
<rect x="-5.5" y="-8.2" width="11" height="16.5" rx="5.5" ry="3.3" fill="url(#c_tan)" stroke="#7a6644" stroke-width="0.8" transform="translate(249.8 275.1) rotate(103.5)"/>
<rect x="-5.5" y="-35.3" width="11" height="70.6" rx="5.5" ry="3.3" fill="url(#c_tan)" stroke="#7a6644" stroke-width="0.8" transform="translate(234.5 347) rotate(179.1)"/>
<rect x="-6" y="-59.3" width="12" height="118.6" rx="6" ry="3.6" fill="url(#c_tan)" stroke="#7a6644" stroke-width="0.8" transform="translate(243.8 344) rotate(177.5)"/>
<rect x="-5.5" y="-24.7" width="11" height="49.4" rx="5.5" ry="3.3" fill="url(#c_tan)" stroke="#7a6644" stroke-width="0.8" transform="translate(258.9 333.8) rotate(171.8)"/>
<rect x="-5" y="-13" width="10" height="26" rx="5" ry="3" fill="url(#c_tan)" stroke="#7a6644" stroke-width="0.8" transform="translate(266.6 374.3) rotate(166.4)"/>
<rect x="-6.5" y="-26.1" width="13" height="52.2" rx="6.5" ry="3.9" fill="url(#c_mgreen)" stroke="#2a6a2a" stroke-width="0.8" transform="translate(278.2 333.8) rotate(162.6)"/>
<rect x="-6" y="-16.1" width="12" height="32.3" rx="6" ry="3.6" fill="url(#c_lgreen)" stroke="#3a7a3a" stroke-width="0.8" transform="translate(286 369) rotate(151.4)"/>
<rect x="-6" y="-50" width="12" height="99.9" rx="6" ry="3.6" fill="url(#c_lgray)" stroke="#5a5a5a" stroke-width="0.8" transform="translate(294.6 347.8) rotate(164.9)"/>
<rect x="-5.5" y="-48.8" width="11" height="97.7" rx="5.5" ry="3.3" fill="url(#c_tan)" stroke="#7a6644" stroke-width="0.8" transform="translate(306 327.5) rotate(177.5)"/>
<rect x="-5.5" y="-14.1" width="11" height="28.2" rx="5.5" ry="3.3" fill="url(#c_tan)" stroke="#7a6644" stroke-width="0.8" transform="translate(318.7 295.8) rotate(116.1)"/>
<rect x="-5" y="-33.9" width="10" height="67.9" rx="5" ry="3" fill="url(#c_tan)" stroke="#7a6644" stroke-width="0.8" transform="translate(318.6 338.6) rotate(175.6)"/>
<rect x="-5.5" y="-36.1" width="11" height="72.2" rx="5.5" ry="3.3" fill="url(#c_tan)" stroke="#7a6644" stroke-width="0.8" transform="translate(330.3 339.9) rotate(168.2)"/>
<text x="0" y="24.5" font-size="33" font-weight="bold">a</text>
<text x="46.5" y="121" font-size="24.5">NTD</text>
<text x="86.5" y="219" font-size="24.5">LBD</text>
<text x="92.5" y="324" font-size="24.5">TMD</text>
<path d="M287.5 126.5 H396 V177 H287.5 Z" fill="none" stroke="#666" stroke-width="2.4" stroke-dasharray="6 4"/>
<path d="M396 155 H458" fill="none" stroke="#666" stroke-width="2.4" stroke-dasharray="6 4"/>
<path d="M454 148.8 L469 154.9 L454 161 L458 154.9 Z" fill="#666"/>
<defs><linearGradient id="gdk" x1="0" x2="1" y1="0" y2="0"><stop offset="0" stop-color="#147814"/><stop offset="0.45" stop-color="#2aa02a"/><stop offset="1" stop-color="#157a15"/></linearGradient><linearGradient id="gmid" x1="0" x2="1"><stop offset="0" stop-color="#4a8c4a"/><stop offset="0.5" stop-color="#6aa86a"/><stop offset="1" stop-color="#4a8a4a"/></linearGradient><linearGradient id="gpale" x1="0" x2="1"><stop offset="0" stop-color="#7fae7f"/><stop offset="0.5" stop-color="#a9cba9"/><stop offset="1" stop-color="#d8ead8"/></linearGradient><linearGradient id="ggr" x1="0" x2="1"><stop offset="0" stop-color="#8e8e8e"/><stop offset="0.5" stop-color="#bdbdbd"/><stop offset="1" stop-color="#a8a8a8"/></linearGradient><linearGradient id="ggr2" x1="0" x2="1"><stop offset="0" stop-color="#868686"/><stop offset="0.5" stop-color="#acacac"/><stop offset="1" stop-color="#959595"/></linearGradient><linearGradient id="ggl" x1="0" x2="1"><stop offset="0" stop-color="#c4c4c4"/><stop offset="1" stop-color="#e6e6e6"/></linearGradient><clipPath id="ccl"><rect x="470" y="76" width="761" height="320"/></clipPath></defs>
<g clip-path="url(#ccl)">
<path d="M507 76 L560 76 L559 89 L545 90 L533 98 L528 91 L507 89 Z" fill="#9ccc9c" stroke="#6a9a6a" stroke-width="1"/>
<path d="M494 76 C492 80 483.7 92.3 482 100 C480.3 107.7 475.7 116.5 484 122 C492.3 127.5 523.5 134.7 532 133 C540.5 131.3 532.8 118.2 535 112 C537.2 105.8 543.3 98.7 545 96" fill="none" stroke="#4a7a4a" stroke-width="5.800000000000001" stroke-linecap="round" stroke-linejoin="round" /><path d="M494 76 C492 80 483.7 92.3 482 100 C480.3 107.7 475.7 116.5 484 122 C492.3 127.5 523.5 134.7 532 133 C540.5 131.3 532.8 118.2 535 112 C537.2 105.8 543.3 98.7 545 96" fill="none" stroke="#a8d4a8" stroke-width="4.2" stroke-linecap="round" stroke-linejoin="round" />
<path d="M566 140 L628 146 L622 160 L572 152 Z" fill="#c9e3c9" stroke="#0c4a0c" stroke-width="1"/>
<path d="M640.5 76 L665 76 L668.7 139.4 L645 140.5 Z" fill="url(#gmid)" stroke="#0c4a0c" stroke-width="1"/>
<path d="M571 76 L639.3 76 L626.3 147.6 Q592 146 561.7 139.4 Z" fill="url(#gdk)" stroke="#0c4a0c" stroke-width="1"/>
<path d="M699 76 L726 76 L722.7 150 L697 145 Z" fill="url(#gmid)" stroke="#0c4a0c" stroke-width="1"/>
<path d="M808.5 76 L869.7 76 L846 220.5 Q820 222 794.4 215.8 Z" fill="url(#gpale)" stroke="#6f9f6f" stroke-width="1"/>
<path d="M736.8 76 L806 76 L803.8 147.6 Q770 150 735.7 135.8 Z" fill="url(#gdk)" stroke="#0c4a0c" stroke-width="1"/>
<path d="M808 76 L844 76 L840 100 Q826 110 808 112 Z" fill="#1d861d" stroke="#0c4a0c" stroke-width="1"/>
<text x="772" y="118.5" font-size="23" fill="#8ef08e">B</text>
<path d="M592 145 C593.6 148.9 594.6 163.6 601.7 168.7 C608.8 173.8 625.2 176.6 634.6 175.8 C644 175 650.2 167.5 658 164 C665.8 160.5 673.8 157.1 681.6 154.6 C689.4 152.1 701.1 149.8 705 148.8" fill="none" stroke="#0a3a0a" stroke-width="5.800000000000001" stroke-linecap="round" stroke-linejoin="round" /><path d="M592 145 C593.6 148.9 594.6 163.6 601.7 168.7 C608.8 173.8 625.2 176.6 634.6 175.8 C644 175 650.2 167.5 658 164 C665.8 160.5 673.8 157.1 681.6 154.6 C689.4 152.1 701.1 149.8 705 148.8" fill="none" stroke="#23862a" stroke-width="4.2" stroke-linecap="round" stroke-linejoin="round" />
<path d="M634.6 175.8 L630 197 L611 201.6" fill="none" stroke="#0a3a0a" stroke-width="5.800000000000001" stroke-linecap="round" stroke-linejoin="round" /><path d="M634.6 175.8 L630 197 L611 201.6" fill="none" stroke="#23862a" stroke-width="4.2" stroke-linecap="round" stroke-linejoin="round" />
<path d="M742.7 142.9 C743.9 147.2 749.8 162.8 749.8 168.7 C749.8 174.5 743.9 176.4 742.7 178" fill="none" stroke="#0a3a0a" stroke-width="5.800000000000001" stroke-linecap="round" stroke-linejoin="round" /><path d="M742.7 142.9 C743.9 147.2 749.8 162.8 749.8 168.7 C749.8 174.5 743.9 176.4 742.7 178" fill="none" stroke="#23862a" stroke-width="4.2" stroke-linecap="round" stroke-linejoin="round" />
<path d="M776 140 C777.2 143 779.5 155 783 158 C786.5 161 793.7 159.7 797 158 C800.3 156.3 802 149.7 803 148" fill="none" stroke="#0a3a0a" stroke-width="5.1" stroke-linecap="round" stroke-linejoin="round" /><path d="M776 140 C777.2 143 779.5 155 783 158 C786.5 161 793.7 159.7 797 158 C800.3 156.3 802 149.7 803 148" fill="none" stroke="#23862a" stroke-width="3.5" stroke-linecap="round" stroke-linejoin="round" />
<path d="M633 205 C636.7 206.5 649.2 213.2 655 214 C660.8 214.8 665.2 214 668 210 C670.8 206 671.7 198.3 672 190 C672.3 181.7 668 166.5 670 160 C672 153.5 678.2 152.5 684 151 C689.8 149.5 699.3 149.5 705 151 C710.7 152.5 715.8 158.5 718 160" fill="none" stroke="#4a7a4a" stroke-width="5.4" stroke-linecap="round" stroke-linejoin="round" /><path d="M633 205 C636.7 206.5 649.2 213.2 655 214 C660.8 214.8 665.2 214 668 210 C670.8 206 671.7 198.3 672 190 C672.3 181.7 668 166.5 670 160 C672 153.5 678.2 152.5 684 151 C689.8 149.5 699.3 149.5 705 151 C710.7 152.5 715.8 158.5 718 160" fill="none" stroke="#a8d4a8" stroke-width="3.8" stroke-linecap="round" stroke-linejoin="round" />
<path d="M709.8 147.6 C710.2 153.5 703 176.5 712 182.8 C721 189.1 753.7 182.1 763.9 185.2 C774.1 188.3 770.6 195 773 201.6 C775.4 208.2 776.4 219.9 778 225 C779.6 230.1 773.3 233.2 782.7 232 C792.1 230.8 825.8 220.3 834.4 218" fill="none" stroke="#2c5a2c" stroke-width="5.800000000000001" stroke-linecap="round" stroke-linejoin="round" /><path d="M709.8 147.6 C710.2 153.5 703 176.5 712 182.8 C721 189.1 753.7 182.1 763.9 185.2 C774.1 188.3 770.6 195 773 201.6 C775.4 208.2 776.4 219.9 778 225 C779.6 230.1 773.3 233.2 782.7 232 C792.1 230.8 825.8 220.3 834.4 218" fill="none" stroke="#86bc86" stroke-width="4.2" stroke-linecap="round" stroke-linejoin="round" />
<path d="M782.7 232 L780.3 248.7 L787.4 255.7 L765 255.7" fill="none" stroke="#2c5a2c" stroke-width="5.800000000000001" stroke-linecap="round" stroke-linejoin="round" /><path d="M782.7 232 L780.3 248.7 L787.4 255.7 L765 255.7" fill="none" stroke="#86bc86" stroke-width="4.2" stroke-linecap="round" stroke-linejoin="round" />
<line x1="765" y1="255.7" x2="756.8" y2="255.7" stroke="#333" stroke-width="5.199999999999999" stroke-linecap="round"/><line x1="765" y1="255.7" x2="756.8" y2="255.7" stroke="#8aa0e8" stroke-width="3.8" stroke-linecap="round"/>
<line x1="611" y1="201.6" x2="610" y2="190" stroke="#333" stroke-width="5.199999999999999" stroke-linecap="round"/><line x1="611" y1="201.6" x2="610" y2="190" stroke="#2f55e0" stroke-width="3.8" stroke-linecap="round"/>
<line x1="640" y1="190" x2="655" y2="186" stroke="#333" stroke-width="5.199999999999999" stroke-linecap="round"/><line x1="655" y1="186" x2="665" y2="180" stroke="#333" stroke-width="5.199999999999999" stroke-linecap="round"/><line x1="640" y1="190" x2="655" y2="186" stroke="#2f55e0" stroke-width="3.8" stroke-linecap="round"/><line x1="655" y1="186" x2="665" y2="180" stroke="#2f55e0" stroke-width="3.8" stroke-linecap="round"/>
<line x1="668" y1="188" x2="663" y2="198" stroke="#333" stroke-width="5.0" stroke-linecap="round"/><line x1="668" y1="188" x2="663" y2="198" stroke="#2f55e0" stroke-width="3.6" stroke-linecap="round"/>
<path d="M733 321.4 L796.6 349.3 L779 392.5 L715.4 364.6 Z" fill="url(#ggl)" stroke="#3a3a3a" stroke-width="1"/>
<path d="M771.2 318 C772.1 315.2 772.1 304.2 776.3 301 C780.5 297.8 789 298.1 796.6 298.5 C804.2 298.9 816.1 301.5 822 303.6 C827.9 305.7 830.5 309.9 832.2 311.2" fill="none" stroke="#777" stroke-width="5.4" stroke-linecap="round" stroke-linejoin="round" /><path d="M771.2 318 C772.1 315.2 772.1 304.2 776.3 301 C780.5 297.8 789 298.1 796.6 298.5 C804.2 298.9 816.1 301.5 822 303.6 C827.9 305.7 830.5 309.9 832.2 311.2" fill="none" stroke="#d4d4d4" stroke-width="3.8" stroke-linecap="round" stroke-linejoin="round" />
<path d="M852.5 256.7 Q872 246 900.7 262 L900.7 285.9 L855 382.3 Q830 392 804 382 Q794 372 796.6 357 Z" fill="url(#ggr2)" stroke="#3a3a3a" stroke-width="1"/>
<path d="M888 318 L900 304 L931 318 L912 324 L898 382 L884 382 Z" fill="#b0b0b0" stroke="#3a3a3a" stroke-width="1"/>
<path d="M932.8 76 L1001 76 L1040.9 201.6 Q1030 222 1008 220.4 Q990 219 984.5 211 Z" fill="url(#ggr)" stroke="#3a3a3a" stroke-width="1"/>
<text x="969" y="118.5" font-size="23" fill="#6e6e6e">A</text>
<path d="M1072.6 76 L1142 76 L1160.8 121.7 Q1130 140 1099.7 142.9 Z" fill="url(#ggr)" stroke="#3a3a3a" stroke-width="1"/>
<path d="M1142 76 L1168 76 L1168 93 L1150 96 Z" fill="#a0a0a0" stroke="#3a3a3a" stroke-width="1"/>
<path d="M1200.7 76 L1231 76 L1231 128.8 L1212 120 L1204 100 Z" fill="#a4a4a4" stroke="#3a3a3a" stroke-width="1"/>
<path d="M1012.7 75.9 C1015.8 76.5 1025.2 75.7 1031.5 79.4 C1037.8 83.1 1046.8 91.9 1050.3 98.2 C1053.8 104.5 1053.5 113.5 1052.7 117 C1051.9 120.5 1046.8 119 1045.6 119.4" fill="none" stroke="#3a3a3a" stroke-width="5.6" stroke-linecap="round" stroke-linejoin="round" /><path d="M1012.7 75.9 C1015.8 76.5 1025.2 75.7 1031.5 79.4 C1037.8 83.1 1046.8 91.9 1050.3 98.2 C1053.8 104.5 1053.5 113.5 1052.7 117 C1051.9 120.5 1046.8 119 1045.6 119.4" fill="none" stroke="#c4c4c4" stroke-width="4" stroke-linecap="round" stroke-linejoin="round" />
<path d="M1090.3 147.6 C1084.4 148.4 1062 149.6 1055 152.3 C1048 155 1049 155.8 1048 164 C1047 172.2 1049.8 194.9 1049 201.6 C1048.2 208.3 1043.6 198.5 1043 204 C1042.4 209.5 1045.9 228.6 1045.6 234.5 C1045.3 240.4 1041.8 238.4 1041 239.2" fill="none" stroke="#3a3a3a" stroke-width="5.6" stroke-linecap="round" stroke-linejoin="round" /><path d="M1090.3 147.6 C1084.4 148.4 1062 149.6 1055 152.3 C1048 155 1049 155.8 1048 164 C1047 172.2 1049.8 194.9 1049 201.6 C1048.2 208.3 1043.6 198.5 1043 204 C1042.4 209.5 1045.9 228.6 1045.6 234.5 C1045.3 240.4 1041.8 238.4 1041 239.2" fill="none" stroke="#c4c4c4" stroke-width="4" stroke-linecap="round" stroke-linejoin="round" />
<path d="M1090.3 147.6 C1089.9 149.3 1086 155.3 1088 158 C1090 160.7 1093 162.5 1102 164 C1111 165.5 1136.3 168.2 1142 167 C1147.7 165.8 1138.3 160.2 1136 157 C1133.7 153.8 1126 152.7 1128 148 C1130 143.3 1140.7 132.7 1148 129 C1155.3 125.3 1165 124.2 1172 126 C1179 127.8 1184.2 133.5 1190 140 C1195.8 146.5 1202.7 160.5 1207 165 C1211.3 169.5 1218 166.3 1216 167 C1214 167.7 1205 169.5 1195 169 C1185 168.5 1162.8 168.8 1156 164 C1149.2 159.2 1154.3 144 1154 140" fill="none" stroke="#3a3a3a" stroke-width="5.6" stroke-linecap="round" stroke-linejoin="round" /><path d="M1090.3 147.6 C1089.9 149.3 1086 155.3 1088 158 C1090 160.7 1093 162.5 1102 164 C1111 165.5 1136.3 168.2 1142 167 C1147.7 165.8 1138.3 160.2 1136 157 C1133.7 153.8 1126 152.7 1128 148 C1130 143.3 1140.7 132.7 1148 129 C1155.3 125.3 1165 124.2 1172 126 C1179 127.8 1184.2 133.5 1190 140 C1195.8 146.5 1202.7 160.5 1207 165 C1211.3 169.5 1218 166.3 1216 167 C1214 167.7 1205 169.5 1195 169 C1185 168.5 1162.8 168.8 1156 164 C1149.2 159.2 1154.3 144 1154 140" fill="none" stroke="#c4c4c4" stroke-width="4" stroke-linecap="round" stroke-linejoin="round" />
<line x1="1041" y1="239.2" x2="1027" y2="238" stroke="#333" stroke-width="5.199999999999999" stroke-linecap="round"/><line x1="1041" y1="239.2" x2="1027" y2="238" stroke="#8aa0e8" stroke-width="3.8" stroke-linecap="round"/>
<line x1="1041" y1="239.2" x2="1054" y2="247" stroke="#333" stroke-width="5.199999999999999" stroke-linecap="round"/><line x1="1041" y1="239.2" x2="1054" y2="247" stroke="#e07070" stroke-width="3.8" stroke-linecap="round"/>
<path d="M1003.3 215.7 L970.4 225 L972.8 243.9" fill="none" stroke="#3a3a3a" stroke-width="5.6" stroke-linecap="round" stroke-linejoin="round" /><path d="M1003.3 215.7 L970.4 225 L972.8 243.9" fill="none" stroke="#c4c4c4" stroke-width="4" stroke-linecap="round" stroke-linejoin="round" />
<line x1="972.8" y1="243.9" x2="977" y2="251" stroke="#333" stroke-width="5.199999999999999" stroke-linecap="round"/><line x1="977" y1="251" x2="991.5" y2="265" stroke="#333" stroke-width="5.199999999999999" stroke-linecap="round"/><line x1="991.5" y1="265" x2="998.6" y2="268.6" stroke="#333" stroke-width="5.199999999999999" stroke-linecap="round"/><line x1="972.8" y1="243.9" x2="977" y2="251" stroke="#c2c2c2" stroke-width="3.8" stroke-linecap="round"/><line x1="977" y1="251" x2="991.5" y2="265" stroke="#3a60e8" stroke-width="3.8" stroke-linecap="round"/><line x1="991.5" y1="265" x2="998.6" y2="268.6" stroke="#3a60e8" stroke-width="3.8" stroke-linecap="round"/>
<line x1="991.5" y1="265" x2="990" y2="272" stroke="#333" stroke-width="5.0" stroke-linecap="round"/><line x1="991.5" y1="265" x2="990" y2="272" stroke="#3a60e8" stroke-width="3.6" stroke-linecap="round"/>
<line x1="1019.8" y1="276.8" x2="1045.6" y2="279.2" stroke="#333" stroke-width="5.199999999999999" stroke-linecap="round"/><line x1="1045.6" y1="279.2" x2="1052.7" y2="265" stroke="#333" stroke-width="5.199999999999999" stroke-linecap="round"/><line x1="1019.8" y1="276.8" x2="1045.6" y2="279.2" stroke="#8aa0e8" stroke-width="3.8" stroke-linecap="round"/><line x1="1045.6" y1="279.2" x2="1052.7" y2="265" stroke="#8aa0e8" stroke-width="3.8" stroke-linecap="round"/>
<line x1="1040" y1="281" x2="1052" y2="283" stroke="#333" stroke-width="5.0" stroke-linecap="round"/><line x1="1040" y1="281" x2="1052" y2="283" stroke="#8aa0e8" stroke-width="3.6" stroke-linecap="round"/>
<path d="M1052.7 265 L1088 278 L1102 281.5 L1116 281.5" fill="none" stroke="#3a3a3a" stroke-width="5.6" stroke-linecap="round" stroke-linejoin="round" /><path d="M1052.7 265 L1088 278 L1102 281.5 L1116 281.5" fill="none" stroke="#c4c4c4" stroke-width="4" stroke-linecap="round" stroke-linejoin="round" />
<path d="M1116 281.5 Q1140 282 1165.5 277.5" fill="none" stroke="#6a6a6a" stroke-width="4.5" stroke-dasharray="11 6"/>
<path d="M1101.3 280.8 C1100.5 283.3 1097.9 290.1 1096.2 296 C1094.5 301.9 1092.7 311.6 1091 316.3 C1089.3 321 1086.8 322.7 1086 324" fill="none" stroke="#3a3a3a" stroke-width="5.6" stroke-linecap="round" stroke-linejoin="round" /><path d="M1101.3 280.8 C1100.5 283.3 1097.9 290.1 1096.2 296 C1094.5 301.9 1092.7 311.6 1091 316.3 C1089.3 321 1086.8 322.7 1086 324" fill="none" stroke="#c4c4c4" stroke-width="4" stroke-linecap="round" stroke-linejoin="round" />
<path d="M941.4 334 L994.7 334 L994.7 396 L941.4 396 Z" fill="#efefef" stroke="#9a9a9a" stroke-width="1"/>
<path d="M944 385 Q985 340 1020 329 L1086 311 Q1094 318 1091 326.5 L1045.5 344 Q1000 362 982 372 L956.6 387.4 Z" fill="url(#ggr)" stroke="#3a3a3a" stroke-width="1"/>
<path d="M982 387.4 L1096 354.4 L1101 382.3 L994.7 396 Z" fill="url(#ggr)" stroke="#3a3a3a" stroke-width="1"/>
<path d="M862.6 249 C863.5 247.7 860.5 242.5 867.7 241.4 C874.9 240.3 895.2 240.8 905.8 242.7 C916.4 244.6 925.9 248.7 931.2 252.9 C936.5 257.1 936.3 262.1 937.6 268 C938.9 273.9 937.3 282 938.8 288.4 C940.3 294.8 943 302.4 946.4 306.2 C949.8 310 953.1 309.9 959 311.2 C964.9 312.5 978.2 313.4 982 313.8" fill="none" stroke="#3a3a3a" stroke-width="5.6" stroke-linecap="round" stroke-linejoin="round" /><path d="M862.6 249 C863.5 247.7 860.5 242.5 867.7 241.4 C874.9 240.3 895.2 240.8 905.8 242.7 C916.4 244.6 925.9 248.7 931.2 252.9 C936.5 257.1 936.3 262.1 937.6 268 C938.9 273.9 937.3 282 938.8 288.4 C940.3 294.8 943 302.4 946.4 306.2 C949.8 310 953.1 309.9 959 311.2 C964.9 312.5 978.2 313.4 982 313.8" fill="none" stroke="#c4c4c4" stroke-width="4" stroke-linecap="round" stroke-linejoin="round" />
<path d="M898.2 263 C899.1 261.3 899.9 254.6 903.3 252.9 C906.7 251.2 914.3 250.4 918.5 252.9 C922.7 255.4 927 265.5 928.7 268" fill="none" stroke="#888" stroke-width="5.0" stroke-linecap="round" stroke-linejoin="round" /><path d="M898.2 263 C899.1 261.3 899.9 254.6 903.3 252.9 C906.7 251.2 914.3 250.4 918.5 252.9 C922.7 255.4 927 265.5 928.7 268" fill="none" stroke="#e4e4e4" stroke-width="3.4" stroke-linecap="round" stroke-linejoin="round" />
<path d="M941.4 275.7 C947.3 277 970.2 280.8 977 283.3 C983.8 285.9 981.2 289.7 982 291" fill="none" stroke="#999" stroke-width="5.0" stroke-linecap="round" stroke-linejoin="round" /><path d="M941.4 275.7 C947.3 277 970.2 280.8 977 283.3 C983.8 285.9 981.2 289.7 982 291" fill="none" stroke="#ececec" stroke-width="3.4" stroke-linecap="round" stroke-linejoin="round" />
<line x1="862" y1="252" x2="866" y2="260" stroke="#333" stroke-width="5.199999999999999" stroke-linecap="round"/><line x1="866" y1="260" x2="875" y2="265" stroke="#333" stroke-width="5.199999999999999" stroke-linecap="round"/><line x1="875" y1="265" x2="890" y2="258" stroke="#333" stroke-width="5.199999999999999" stroke-linecap="round"/><line x1="862" y1="252" x2="866" y2="260" stroke="#3a60e8" stroke-width="3.8" stroke-linecap="round"/><line x1="866" y1="260" x2="875" y2="265" stroke="#3a60e8" stroke-width="3.8" stroke-linecap="round"/><line x1="875" y1="265" x2="890" y2="258" stroke="#3a60e8" stroke-width="3.8" stroke-linecap="round"/>
<line x1="875" y1="265" x2="866" y2="278" stroke="#333" stroke-width="5.0" stroke-linecap="round"/><line x1="875" y1="265" x2="866" y2="278" stroke="#3a60e8" stroke-width="3.6" stroke-linecap="round"/>
<line x1="982" y1="312" x2="991.5" y2="295.6" stroke="#333" stroke-width="5.199999999999999" stroke-linecap="round"/><line x1="991.5" y1="295.6" x2="1008" y2="296.8" stroke="#333" stroke-width="5.199999999999999" stroke-linecap="round"/><line x1="982" y1="312" x2="991.5" y2="295.6" stroke="#c2c2c2" stroke-width="3.8" stroke-linecap="round"/><line x1="991.5" y1="295.6" x2="1008" y2="296.8" stroke="#d04040" stroke-width="3.8" stroke-linecap="round"/>
<line x1="991.5" y1="295.6" x2="983" y2="286" stroke="#333" stroke-width="5.0" stroke-linecap="round"/><line x1="991.5" y1="295.6" x2="983" y2="286" stroke="#d04040" stroke-width="3.6" stroke-linecap="round"/>
<path d="M982 313.8 C978.2 315.9 963.2 321.4 959 326.5 C954.8 331.6 959.1 337.9 956.6 344.3 C954.1 350.7 949.5 358.7 944 364.6 C938.5 370.5 927 377.3 923.6 379.8" fill="none" stroke="#3a3a3a" stroke-width="5.6" stroke-linecap="round" stroke-linejoin="round" /><path d="M982 313.8 C978.2 315.9 963.2 321.4 959 326.5 C954.8 331.6 959.1 337.9 956.6 344.3 C954.1 350.7 949.5 358.7 944 364.6 C938.5 370.5 927 377.3 923.6 379.8" fill="none" stroke="#c4c4c4" stroke-width="4" stroke-linecap="round" stroke-linejoin="round" />
<path d="M630 246 C634.2 244 647.2 237.1 655 234 C662.8 230.9 670.5 226.6 676.9 227.5 C683.3 228.4 686.9 236.8 693.3 239.3 C699.7 241.8 705.4 240.9 715.4 242.7 C725.4 244.5 743.8 244 753.5 250.3 C763.2 256.7 768.3 271.5 773.8 280.8 C779.3 290.1 781 294.8 786.5 306.2 C792 317.6 803.4 342.1 806.8 349.3" fill="none" stroke="#3a3a3a" stroke-width="5.800000000000001" stroke-linecap="round" stroke-linejoin="round" /><path d="M630 246 C634.2 244 647.2 237.1 655 234 C662.8 230.9 670.5 226.6 676.9 227.5 C683.3 228.4 686.9 236.8 693.3 239.3 C699.7 241.8 705.4 240.9 715.4 242.7 C725.4 244.5 743.8 244 753.5 250.3 C763.2 256.7 768.3 271.5 773.8 280.8 C779.3 290.1 781 294.8 786.5 306.2 C792 317.6 803.4 342.1 806.8 349.3" fill="none" stroke="#c4c4c4" stroke-width="4.2" stroke-linecap="round" stroke-linejoin="round" />
<path d="M630 246 C629.2 248.8 624.2 256.1 625 262.8 C625.8 269.5 627.1 280.8 634.6 286.3 C642.1 291.8 657.2 292.8 669.8 295.7 C682.4 298.6 701.8 298.1 710.3 303.6 C718.8 309.2 716.3 321.4 720.5 329 C724.7 336.6 730.2 343.8 735.7 349.3 C741.2 354.8 747.1 358.2 753.5 362 C759.9 365.8 766.6 368.4 773.8 372.2 C781 376 790.7 380.9 796.6 384.9 C802.5 388.9 807.2 394.1 809.3 396" fill="none" stroke="#3a3a3a" stroke-width="5.800000000000001" stroke-linecap="round" stroke-linejoin="round" /><path d="M630 246 C629.2 248.8 624.2 256.1 625 262.8 C625.8 269.5 627.1 280.8 634.6 286.3 C642.1 291.8 657.2 292.8 669.8 295.7 C682.4 298.6 701.8 298.1 710.3 303.6 C718.8 309.2 716.3 321.4 720.5 329 C724.7 336.6 730.2 343.8 735.7 349.3 C741.2 354.8 747.1 358.2 753.5 362 C759.9 365.8 766.6 368.4 773.8 372.2 C781 376 790.7 380.9 796.6 384.9 C802.5 388.9 807.2 394.1 809.3 396" fill="none" stroke="#c4c4c4" stroke-width="4.2" stroke-linecap="round" stroke-linejoin="round" />
<path d="M827 396 C827.9 390.8 828 371.1 832.2 364.6 C836.5 358.1 844 358.3 852.5 357 C861 355.7 876.2 356.2 883 357 C889.8 357.8 890.6 359.5 893.1 362 C895.6 364.5 894 368.8 898.2 372.2 C902.4 375.6 910.9 379.8 918.5 382.3 C926.1 384.8 933.4 385.7 944 387.4 C954.6 389.1 975.7 391.6 982 392.5" fill="none" stroke="#3a3a3a" stroke-width="5.6" stroke-linecap="round" stroke-linejoin="round" /><path d="M827 396 C827.9 390.8 828 371.1 832.2 364.6 C836.5 358.1 844 358.3 852.5 357 C861 355.7 876.2 356.2 883 357 C889.8 357.8 890.6 359.5 893.1 362 C895.6 364.5 894 368.8 898.2 372.2 C902.4 375.6 910.9 379.8 918.5 382.3 C926.1 384.8 933.4 385.7 944 387.4 C954.6 389.1 975.7 391.6 982 392.5" fill="none" stroke="#c4c4c4" stroke-width="4" stroke-linecap="round" stroke-linejoin="round" />
<line x1="577" y1="268" x2="588" y2="264" stroke="#333" stroke-width="5.6" stroke-linecap="round"/><line x1="588" y1="264" x2="597" y2="259.5" stroke="#333" stroke-width="5.6" stroke-linecap="round"/><line x1="597" y1="259.5" x2="606" y2="257" stroke="#333" stroke-width="5.6" stroke-linecap="round"/><line x1="606" y1="257" x2="630" y2="246" stroke="#333" stroke-width="5.6" stroke-linecap="round"/><line x1="577" y1="268" x2="588" y2="264" stroke="#e01515" stroke-width="4.2" stroke-linecap="round"/><line x1="588" y1="264" x2="597" y2="259.5" stroke="#c8c8c8" stroke-width="4.2" stroke-linecap="round"/><line x1="597" y1="259.5" x2="606" y2="257" stroke="#e01515" stroke-width="4.2" stroke-linecap="round"/><line x1="606" y1="257" x2="630" y2="246" stroke="#c8c8c8" stroke-width="4.2" stroke-linecap="round"/>
</g>
<text x="682.5" y="180" font-size="24.5" fill="#000" stroke="#fff" stroke-width="4" stroke-linejoin="round" paint-order="stroke">R188</text>
<text x="785" y="215" font-size="24.5" fill="#000" stroke="#fff" stroke-width="4" stroke-linejoin="round" paint-order="stroke">Q185</text>
<text x="933" y="215" font-size="24.5" fill="#000" stroke="#fff" stroke-width="4" stroke-linejoin="round" paint-order="stroke">R183</text>
<text x="1055" y="223" font-size="24.5" fill="#000" stroke="#fff" stroke-width="4" stroke-linejoin="round" paint-order="stroke">Q185</text>
<text x="1085.5" y="267.5" font-size="24.5" fill="#000" stroke="#fff" stroke-width="4" stroke-linejoin="round" paint-order="stroke">R395</text>
<text x="665" y="288" font-size="24.5" fill="#000" stroke="#fff" stroke-width="4" stroke-linejoin="round" paint-order="stroke">Loop 2</text>
<text x="878.5" y="288" font-size="24.5" fill="#000" stroke="#fff" stroke-width="4" stroke-linejoin="round" paint-order="stroke">R473</text>
<text x="963" y="337.5" font-size="24.5" fill="#000" stroke="#fff" stroke-width="4" stroke-linejoin="round" paint-order="stroke">D475</text>
<text x="1110" y="325.5" font-size="24.5" fill="#000" stroke="#fff" stroke-width="4" stroke-linejoin="round" paint-order="stroke">NTD–LBD linker</text>
<text x="506.5" y="197.5" font-size="24.5" fill="#f08a1e">K129</text>
<text x="506.5" y="278.5" font-size="24.5" fill="#f08a1e">E458</text>
<path d="M496.6 194 H485.2 V269 H496.6" fill="none" stroke="#f08a1e" stroke-width="2.2"/>
<text x="742.4" y="49" font-size="24.5">NTD–LBD interface</text>
<text x="1344" y="24.5" font-size="33" font-weight="bold">b</text>
<rect x="1426" y="21" width="9.3" height="8.5" fill="#000" />
<text x="1448" y="31" font-size="25">1 ms, 10 mM <tspan font-size="18">L</tspan>-glutamate</text>
<rect x="1419" y="67.4" width="9.5" height="8.3" fill="#000" />
<rect x="1453.7" y="67.4" width="9.5" height="8.3" fill="#000" />
<rect x="1488.4" y="67.4" width="9.5" height="8.3" fill="#000" />
<rect x="1523" y="67.4" width="9.5" height="8.3" fill="#000" />
<rect x="1557.7" y="67.4" width="9.5" height="8.3" fill="#000" />
<rect x="1592.4" y="67.4" width="9.5" height="8.3" fill="#000" />
<rect x="1627.1" y="67.4" width="9.5" height="8.3" fill="#000" />
<rect x="1661.8" y="67.4" width="9.5" height="8.3" fill="#000" />
<rect x="1696.4" y="67.4" width="9.5" height="8.3" fill="#000" />
<rect x="1731.1" y="67.4" width="9.5" height="8.3" fill="#000" />
<rect x="1765.8" y="67.4" width="9.5" height="8.3" fill="#000" />
<rect x="1800.5" y="67.4" width="9.5" height="8.3" fill="#000" />
<rect x="1835.2" y="67.4" width="9.5" height="8.3" fill="#000" />
<rect x="1869.8" y="67.4" width="9.5" height="8.3" fill="#000" />
<rect x="1904.5" y="67.4" width="9.5" height="8.3" fill="#000" />
<rect x="1939.2" y="67.4" width="9.5" height="8.3" fill="#000" />
<rect x="1973.9" y="67.4" width="9.5" height="8.3" fill="#000" />
<rect x="2008.6" y="67.4" width="9.5" height="8.3" fill="#000" />
<rect x="2043.2" y="67.4" width="9.5" height="8.3" fill="#000" />
<rect x="2077.9" y="67.4" width="9.5" height="8.3" fill="#000" />
<path d="M1353 80.5 L1353.3 80.2 L1353.7 81 L1354 80.1 L1354.4 80.9 L1354.7 80.6 L1355.1 80.1 L1355.4 80.8 L1355.8 80.1 L1356.1 80.7 L1356.5 80.1 L1356.8 80.1 L1357.2 80.7 L1357.5 81.3 L1357.9 80.2 L1358.2 80.4 L1358.6 81 L1358.9 81.5 L1359.3 80.9 L1359.6 80.6 L1360 81.6 L1360.3 80.1 L1360.7 81.4 L1361 80.5 L1362.2 80.2 L1363.4 80.2 L1364.6 80.5 L1365.8 81.3 L1367 80.3 L1368.2 80.9 L1369.4 81 L1370.6 80.6 L1371.8 80.9 L1373 80.1 L1374.2 80.1 L1375.4 80.3 L1376.6 81.1 L1377.8 80.7 L1379 80.5 L1380.2 80.9 L1381.4 80.7 L1382.6 80.5 L1383.8 81.3 L1384.2 81.1 L1384.5 80.4 L1384.9 80.9 L1385.2 80.8 L1385.6 81.4 L1385.9 81.2 L1386.3 80.5 L1386.6 81.6 L1387 80.2 L1387.3 80.7 L1387.7 81.2 L1388 80.2 L1388.4 80.8 L1388.7 80.1 L1389.1 81.1 L1389.4 81.2 L1389.8 80.9 L1390.1 81.4 L1390.5 80.5 L1390.8 81.1 L1391.2 81 L1391.5 80.9 L1391.9 80.7 L1392.2 81.3 L1392.6 81.5 L1392.9 80.8 L1393.3 81.1 L1393.6 80.1 L1394 81.1 L1394.3 81 L1394.7 81.6 L1395 81.3 L1395.4 80.5 L1396.6 80.6 L1397.8 81.1 L1399 80 L1400.2 80.7 L1401.4 80.3 L1402.6 80.2 L1403.8 80.1 L1405 81.2 L1406.2 80.2 L1407.4 80.4 L1408.6 80.6 L1409.8 81.4 L1411 80.1 L1412.2 80.7 L1413.4 80.9 L1414.6 81.4 L1415.8 81.3 L1417 81.4 L1418.2 94.3 L1418.5 127.5 L1418.9 175.5 L1419.2 233 L1419.6 291 L1419.9 340.9 L1420.3 378.8 L1420.6 398.4 L1421 389.9 L1421.3 372.9 L1421.7 356.6 L1422 340.6 L1422.4 325.7 L1422.7 312.7 L1423.1 299.8 L1423.4 288 L1423.8 277.2 L1424.1 266 L1424.5 255.7 L1424.8 246.3 L1425.2 237.5 L1425.5 228 L1425.9 221.4 L1426.2 213.8 L1426.6 206.9 L1426.9 200.1 L1427.3 193.2 L1427.6 187.3 L1428 181.3 L1428.3 176.9 L1428.7 171 L1429 166.4 L1429.4 162.2 L1429.7 158 L1430.1 154.3 L1431.3 142 L1432.5 132.2 L1433.7 124.4 L1434.9 117.7 L1436.1 112.6 L1437.3 107.5 L1438.5 105.1 L1439.7 101.5 L1440.9 98 L1442.1 95.9 L1443.3 94.1 L1444.5 92.5 L1445.7 90.7 L1446.9 90.7 L1448.1 89.9 L1449.3 88.1 L1450.5 87.4 L1451.7 86.1 L1452.9 98.5 L1453.2 116.7 L1453.6 139.3 L1453.9 164.8 L1454.3 187 L1454.6 205.5 L1455 218.6 L1455.3 219.5 L1455.7 207.6 L1456 197.9 L1456.4 187.8 L1456.7 180 L1457.1 173 L1457.4 165.7 L1457.8 159 L1458.1 152.4 L1458.5 147.1 L1458.8 141.9 L1459.2 138.4 L1459.5 133.9 L1459.9 130.5 L1460.2 126.4 L1460.6 123 L1460.9 121.1 L1461.3 118.7 L1461.6 116.1 L1462 113.8 L1462.3 111.8 L1462.7 109.8 L1463 107.2 L1463.4 106.1 L1463.7 104.4 L1464.1 102.5 L1464.4 101.2 L1465.6 98 L1466.8 95.2 L1468 93.7 L1469.2 92.4 L1470.4 90.2 L1471.6 89.9 L1472.8 89 L1474 88.2 L1475.2 86.6 L1476.4 85.7 L1477.6 85.2 L1478.8 84.7 L1480 84.4 L1481.2 84.7 L1482.4 84.8 L1483.6 84.4 L1484.8 83.6 L1486 83.6 L1487.2 89.1 L1487.6 99 L1487.9 115.4 L1488.3 133.6 L1488.6 151.3 L1489 166.7 L1489.3 177.3 L1489.7 182 L1490 177.2 L1490.4 168.6 L1490.7 162.2 L1491.1 156 L1491.4 149.2 L1491.8 143.8 L1492.1 139.8 L1492.5 134.9 L1492.8 130 L1493.2 126.2 L1493.5 122.8 L1493.9 120.9 L1494.2 117.9 L1494.6 114.2 L1494.9 112.9 L1495.3 111 L1495.6 108.5 L1496 106.2 L1496.3 104.8 L1496.7 102.6 L1497 101 L1497.4 101.2 L1497.7 99.5 L1498.1 98.2 L1498.4 97.9 L1498.8 96.1 L1499.1 96 L1500.3 93.4 L1501.5 90.5 L1502.7 89.1 L1503.9 88 L1505.1 86.9 L1506.3 86.7 L1507.5 85.5 L1508.7 85.2 L1509.9 84.3 L1511.1 85.2 L1512.3 83.9 L1513.5 83.8 L1514.7 83.7 L1515.9 84 L1517.1 83 L1518.3 83.6 L1519.5 82.7 L1520.7 82.6 L1521.9 91.6 L1522.3 102.1 L1522.6 116.8 L1523 131.3 L1523.3 144.8 L1523.7 156.9 L1524 162.3 L1524.4 162.1 L1524.7 155.8 L1525.1 149.5 L1525.4 143.6 L1525.8 138.9 L1526.1 134.3 L1526.5 130.5 L1526.8 125.6 L1527.2 122.8 L1527.5 119.2 L1527.9 116.3 L1528.2 114.5 L1528.6 111.6 L1528.9 109.5 L1529.3 107.8 L1529.6 106.2 L1530 103.7 L1530.3 102.4 L1530.7 100.9 L1531 99.6 L1531.4 98.7 L1531.7 97.2 L1532.1 96.3 L1532.4 95.3 L1532.8 95.2 L1533.1 94 L1533.5 93.5 L1534.7 91.5 L1535.9 88.8 L1537.1 88.1 L1538.3 87.7 L1539.5 86.7 L1540.7 84.9 L1541.9 84.4 L1543.1 84.4 L1544.3 83.5 L1545.5 83.4 L1546.7 82.8 L1547.9 83.6 L1549.1 83.5 L1550.3 83.5 L1551.5 82.1 L1552.7 82.9 L1553.9 82.6 L1555.1 81.7 L1556.3 87.3 L1556.6 95.4 L1557 105.1 L1557.3 118.5 L1557.7 129.7 L1558 140 L1558.4 147.8 L1558.7 150.4 L1559.1 144.5 L1559.4 139.6 L1559.8 135 L1560.1 130.4 L1560.5 126.2 L1560.8 122.8 L1561.2 120.1 L1561.5 116 L1561.9 114.1 L1562.2 111.4 L1562.6 108.5 L1562.9 106.9 L1563.3 105.4 L1563.6 103.5 L1564 101.2 L1564.3 101.2 L1564.7 99.6 L1565 98.7 L1565.4 96.1 L1565.7 95.4 L1566.1 94.1 L1566.4 94.4 L1566.8 92.8 L1567.1 91.8 L1567.5 91.6 L1567.8 91.8 L1569 89.8 L1570.2 87.5 L1571.4 86.3 L1572.6 86.7 L1573.8 85.4 L1575 85.1 L1576.2 83.7 L1577.4 83.2 L1578.6 83.9 L1579.8 83.2 L1581 82.4 L1582.2 83.6 L1583.4 82.9 L1584.6 83 L1585.8 81.7 L1587 82.8 L1588.2 81.4 L1589.4 82.6 L1590.6 83.9 L1591 89.7 L1591.3 99.1 L1591.7 110.7 L1592 121.1 L1592.4 131.2 L1592.7 139.7 L1593.1 143.6 L1593.4 141.8 L1593.8 136.8 L1594.1 132 L1594.5 128.1 L1594.8 124.4 L1595.2 120.9 L1595.5 118.5 L1595.9 114.9 L1596.2 112.6 L1596.6 109.6 L1596.9 107.7 L1597.3 105.2 L1597.6 103.7 L1598 101.7 L1598.3 101.3 L1598.7 99.6 L1599 97.7 L1599.4 97 L1599.7 96.7 L1600.1 94.3 L1600.4 94.6 L1600.8 93.1 L1601.1 92.5 L1601.5 92.3 L1601.8 90.9 L1602.2 90.5 L1602.5 90.3 L1603.7 89.2 L1604.9 86.9 L1606.1 86.7 L1607.3 85.8 L1608.5 85.1 L1609.7 84.2 L1610.9 83.7 L1612.1 82.9 L1613.3 82.7 L1614.5 82.4 L1615.7 83.2 L1616.9 82.3 L1618.1 82 L1619.3 81.7 L1620.5 82.8 L1621.7 82.7 L1622.9 82.3 L1624.1 81.5 L1625.3 86.1 L1625.7 93.4 L1626 103.2 L1626.4 113.2 L1626.7 123.8 L1627.1 131.8 L1627.4 138.5 L1627.8 140.4 L1628.1 134.9 L1628.5 130 L1628.8 127.1 L1629.2 122.4 L1629.5 119.1 L1629.9 115.5 L1630.2 113.4 L1630.6 111 L1630.9 108.7 L1631.3 106.2 L1631.6 104.7 L1632 102.2 L1632.3 101 L1632.7 99.2 L1633 98.4 L1633.4 96.6 L1633.7 95.4 L1634.1 94.9 L1634.4 93.8 L1634.8 93.5 L1635.1 92.6 L1635.5 92.2 L1635.8 91.4 L1636.2 90.9 L1636.5 90.6 L1636.9 89.3 L1638.1 87.7 L1639.3 87.6 L1640.5 85.3 L1641.7 85.5 L1642.9 84.8 L1644.1 83.4 L1645.3 84.3 L1646.5 84.1 L1647.7 83.4 L1648.9 83.3 L1650.1 83.2 L1651.3 82 L1652.5 82.4 L1653.7 82.3 L1654.9 82.7 L1656.1 82.5 L1657.3 82.4 L1658.5 81.9 L1659.7 84.8 L1660 90.3 L1660.4 98.9 L1660.7 108.2 L1661.1 118.2 L1661.4 127.5 L1661.8 134.6 L1662.1 137.6 L1662.5 136.3 L1662.8 131.4 L1663.2 127.4 L1663.5 123.6 L1663.9 120.3 L1664.2 116.9 L1664.6 113.3 L1664.9 112 L1665.3 109.6 L1665.6 107 L1666 105.1 L1666.3 103.5 L1666.7 100.9 L1667 100.5 L1667.4 98.4 L1667.7 96.8 L1668.1 96 L1668.4 95.7 L1668.8 93.9 L1669.1 93.9 L1669.5 93.4 L1669.8 91.9 L1670.2 91 L1670.5 90.6 L1670.9 90.3 L1671.2 89.9 L1671.6 89.2 L1672.8 87.8 L1674 85.8 L1675.2 85.1 L1676.4 84.6 L1677.6 84.8 L1678.8 83.7 L1680 83.7 L1681.2 82.5 L1682.4 82.4 L1683.6 82.5 L1684.8 82.9 L1686 82.8 L1687.2 82.6 L1688.4 81.9 L1689.6 82.1 L1690.8 81.9 L1692 81.8 L1693.2 81.2 L1694.4 87.7 L1694.7 93.9 L1695.1 104.6 L1695.4 114.7 L1695.8 122.8 L1696.1 131.3 L1696.5 136.7 L1696.8 137.6 L1697.2 132.2 L1697.5 127.7 L1697.9 123.8 L1698.2 121.4 L1698.6 117.1 L1698.9 114.8 L1699.3 111.5 L1699.6 109.7 L1700 108.2 L1700.3 104.8 L1700.7 104.1 L1701 101.9 L1701.4 101 L1701.7 99.3 L1702.1 97.3 L1702.4 97.2 L1702.8 95.5 L1703.1 93.7 L1703.5 92.8 L1703.8 92.8 L1704.2 91.9 L1704.5 91 L1704.9 90.1 L1705.2 89.9 L1705.6 89.3 L1705.9 89.6 L1707.1 86.8 L1708.3 86.9 L1709.5 86.2 L1710.7 84.4 L1711.9 85.1 L1713.1 84.3 L1714.3 84.3 L1715.5 83 L1716.7 82.8 L1717.9 82.7 L1719.1 83.4 L1720.3 82.6 L1721.5 82.1 L1722.7 82.1 L1723.9 81.7 L1725.1 81.2 L1726.3 81.2 L1727.5 82.3 L1728.7 84.2 L1729.1 91.1 L1729.4 98.2 L1729.8 107.7 L1730.1 117.6 L1730.5 125.3 L1730.8 131.5 L1731.2 135.1 L1731.5 131.9 L1731.9 127.7 L1732.2 123.6 L1732.6 120.7 L1732.9 117.6 L1733.3 114.1 L1733.6 111.8 L1734 108.3 L1734.3 107.3 L1734.7 104.8 L1735 103.5 L1735.4 101.7 L1735.7 99.6 L1736.1 97.9 L1736.4 98 L1736.8 95.6 L1737.1 95.1 L1737.5 93.9 L1737.8 93 L1738.2 92.9 L1738.5 92.5 L1738.9 90.7 L1739.2 90.7 L1739.6 89.5 L1739.9 89.4 L1740.3 88.7 L1740.6 87.8 L1741.8 86.5 L1743 85.6 L1744.2 85.9 L1745.4 84.7 L1746.6 83.7 L1747.8 84.4 L1749 84.2 L1750.2 83.1 L1751.4 82.3 L1752.6 82.2 L1753.8 81.9 L1755 82.1 L1756.2 81.6 L1757.4 81.7 L1758.6 81.6 L1759.8 82 L1761 82.4 L1762.2 82.1 L1763.4 87.5 L1763.8 95 L1764.1 104.4 L1764.5 114 L1764.8 123 L1765.2 129.7 L1765.5 134.2 L1765.9 134.9 L1766.2 129.2 L1766.6 125.8 L1766.9 122.4 L1767.3 119.4 L1767.6 115.4 L1768 112.7 L1768.3 110.1 L1768.7 108.1 L1769 106.1 L1769.4 105 L1769.7 103.1 L1770.1 101.5 L1770.4 98.7 L1770.8 97.4 L1771.1 97.3 L1771.5 96.5 L1771.8 94.8 L1772.2 94 L1772.5 92.2 L1772.9 92.1 L1773.2 92.2 L1773.6 91.4 L1773.9 90.8 L1774.3 90.4 L1774.6 88.8 L1775 88.1 L1776.2 86.8 L1777.4 86.3 L1778.6 85.7 L1779.8 85.5 L1781 84.6 L1782.2 84.1 L1783.4 83.9 L1784.6 83.1 L1785.8 83 L1787 82 L1788.2 83 L1789.4 82 L1790.6 82.9 L1791.8 82.4 L1793 81.7 L1794.2 81.3 L1795.4 81.4 L1796.6 81.9 L1797.8 85.4 L1798.1 90.6 L1798.5 98.9 L1798.8 109 L1799.2 118.3 L1799.5 125.8 L1799.9 130.8 L1800.2 133.6 L1800.6 129 L1800.9 125.4 L1801.3 122 L1801.6 119.5 L1802 116 L1802.3 113.6 L1802.7 110.4 L1803 107.8 L1803.4 105.7 L1803.7 104.9 L1804.1 102.8 L1804.4 100.5 L1804.8 98.6 L1805.1 98.1 L1805.5 97.1 L1805.8 95.6 L1806.2 94.3 L1806.5 94.1 L1806.9 93.6 L1807.2 91.7 L1807.6 90.7 L1807.9 90.5 L1808.3 90 L1808.6 89.9 L1809 88.6 L1809.3 89.1 L1810.5 87.6 L1811.7 86.2 L1812.9 84.9 L1814.1 85.5 L1815.3 83.9 L1816.5 84.3 L1817.7 83 L1818.9 82.7 L1820.1 83.3 L1821.3 82.4 L1822.5 83.2 L1823.7 82.4 L1824.9 81.7 L1826.1 81.7 L1827.3 81.8 L1828.5 82.1 L1829.7 82.5 L1830.9 81.1 L1832.1 83.3 L1832.5 88.2 L1832.8 97.4 L1833.2 105.6 L1833.5 115.4 L1833.9 124.5 L1834.2 131.9 L1834.6 136.5 L1834.9 135.1 L1835.3 130.4 L1835.6 126.8 L1836 123.1 L1836.3 118.8 L1836.7 115.5 L1837 114 L1837.4 111.1 L1837.7 107.7 L1838.1 106.6 L1838.4 104.2 L1838.8 102.5 L1839.1 100.8 L1839.5 99.1 L1839.8 97.5 L1840.2 96.7 L1840.5 95.7 L1840.9 95.6 L1841.2 93.4 L1841.6 93.9 L1841.9 91.9 L1842.3 91.4 L1842.6 91.4 L1843 90.8 L1843.3 89.6 L1843.7 88.5 L1844 88.7 L1845.2 87.2 L1846.4 87 L1847.6 85 L1848.8 84.6 L1850 84.9 L1851.2 83.1 L1852.4 83.4 L1853.6 83.7 L1854.8 83.4 L1856 82 L1857.2 81.8 L1858.4 81.7 L1859.6 82.9 L1860.8 81.7 L1862 82.4 L1863.2 82.6 L1864.4 81.6 L1865.6 81.4 L1866.8 86.7 L1867.2 93 L1867.5 101.2 L1867.9 111.8 L1868.2 120.5 L1868.6 128.3 L1868.9 132.9 L1869.3 135.9 L1869.6 131.7 L1870 127.1 L1870.3 123.9 L1870.7 119 L1871 116.2 L1871.4 113.8 L1871.7 112 L1872.1 109.6 L1872.4 106.6 L1872.8 104.4 L1873.1 102.9 L1873.5 101.4 L1873.8 100.6 L1874.2 98 L1874.5 97.8 L1874.9 96.5 L1875.2 95.6 L1875.6 94.6 L1875.9 93.4 L1876.3 92.2 L1876.6 91.4 L1877 90.8 L1877.3 90.9 L1877.7 89.2 L1878 88.8 L1878.4 89.2 L1879.6 87 L1880.8 85.6 L1882 84.8 L1883.2 84.9 L1884.4 84 L1885.6 84.7 L1886.8 84.1 L1888 84 L1889.2 82.6 L1890.4 82.1 L1891.6 81.9 L1892.8 82.4 L1894 82.6 L1895.2 82.1 L1896.4 81.6 L1897.6 81.8 L1898.8 82 L1900 82 L1901.2 84.4 L1901.5 90.2 L1901.9 98.2 L1902.2 107 L1902.6 118.1 L1902.9 126 L1903.3 133 L1903.6 136 L1904 134.2 L1904.3 129 L1904.7 125.1 L1905 121.5 L1905.4 118.1 L1905.7 116.2 L1906.1 113 L1906.4 110.1 L1906.8 108 L1907.1 106.9 L1907.5 104.2 L1907.8 102 L1908.2 101.4 L1908.5 99.7 L1908.9 98.9 L1909.2 96.3 L1909.6 95.8 L1909.9 95.3 L1910.3 94.4 L1910.6 93.7 L1911 91.5 L1911.3 91.2 L1911.7 90.2 L1912 89.7 L1912.4 90.4 L1912.7 89.3 L1913.1 89.4 L1914.3 87.1 L1915.5 86.9 L1916.7 85.4 L1917.9 84.4 L1919.1 84.7 L1920.3 84.6 L1921.5 82.9 L1922.7 83.4 L1923.9 83.2 L1925.1 82.3 L1926.3 82.4 L1927.5 81.8 L1928.7 81.8 L1929.9 81.7 L1931.1 82.2 L1932.3 82.2 L1933.5 81.3 L1934.7 81 L1935.9 86.4 L1936.2 94 L1936.6 102.1 L1936.9 111.9 L1937.3 120.8 L1937.6 129.1 L1938 133.3 L1938.3 133.2 L1938.7 128.9 L1939 125.4 L1939.4 122 L1939.7 118.8 L1940.1 114.9 L1940.4 112.3 L1940.8 110.7 L1941.1 107.9 L1941.5 105.7 L1941.8 103.8 L1942.2 103.1 L1942.5 100.5 L1942.9 99.5 L1943.2 97.8 L1943.6 96.7 L1943.9 96.3 L1944.3 95.5 L1944.6 93.6 L1945 92.4 L1945.3 92.5 L1945.7 91 L1946 90 L1946.4 90.8 L1946.7 89.5 L1947.1 89.6 L1947.4 88.5 L1948.6 87.9 L1949.8 86.1 L1951 84.9 L1952.2 84 L1953.4 84.3 L1954.6 84 L1955.8 84.1 L1957 82.5 L1958.2 83.1 L1959.4 82.5 L1960.6 82.5 L1961.8 81.8 L1963 81.9 L1964.2 82.1 L1965.4 82.7 L1966.6 81.3 L1967.8 81.8 L1969 82.2 L1970.2 85.3 L1970.6 90.1 L1970.9 98.3 L1971.3 109.3 L1971.6 119 L1972 126.6 L1972.3 131.9 L1972.7 136 L1973 132.1 L1973.4 128.7 L1973.7 124.4 L1974.1 121.2 L1974.4 117 L1974.8 115.1 L1975.1 111.5 L1975.5 109.4 L1975.8 107.9 L1976.2 105.9 L1976.5 103 L1976.9 101.4 L1977.2 100.1 L1977.6 98.9 L1977.9 97.4 L1978.3 95.8 L1978.6 95 L1979 94.8 L1979.3 94.1 L1979.7 91.9 L1980 92 L1980.4 91.6 L1980.7 89.8 L1981.1 90.5 L1981.4 88.8 L1981.8 89.1 L1982.1 88.6 L1983.3 87.4 L1984.5 85.8 L1985.7 85.2 L1986.9 84.8 L1988.1 84.1 L1989.3 84.1 L1990.5 83.4 L1991.7 83.1 L1992.9 82.2 L1994.1 82.9 L1995.3 82.5 L1996.5 82 L1997.7 82.7 L1998.9 82.6 L2000.1 81.9 L2001.3 81.4 L2002.5 81.8 L2003.7 81.1 L2004.9 86.8 L2005.3 94.5 L2005.6 102.9 L2006 112.9 L2006.3 121.7 L2006.7 127.8 L2007 132.9 L2007.4 131.6 L2007.7 128.4 L2008.1 124.6 L2008.4 120.7 L2008.8 116.7 L2009.1 114.6 L2009.5 111.7 L2009.8 110.2 L2010.2 106.7 L2010.5 105.8 L2010.9 104.2 L2011.2 102.1 L2011.6 100.7 L2011.9 98.3 L2012.3 98.3 L2012.6 96.4 L2013 96 L2013.3 95 L2013.7 92.9 L2014 93 L2014.4 92.5 L2014.7 90.4 L2015.1 90.3 L2015.4 90.3 L2015.8 88.8 L2016.1 89.5 L2016.5 88.1 L2017.7 87.6 L2018.9 85.5 L2020.1 85.3 L2021.3 85.3 L2022.5 83.7 L2023.7 83.4 L2024.9 83.4 L2026.1 82.8 L2027.3 82.1 L2028.5 82.2 L2029.7 82 L2030.9 83 L2032.1 82.5 L2033.3 82.7 L2034.5 81.4 L2035.7 82.3 L2036.9 81.2 L2038.1 81.7 L2039.3 85.4 L2039.6 91.2 L2040 100.5 L2040.3 109.5 L2040.7 118.9 L2041 127.4 L2041.4 131.6 L2041.7 135.2 L2042.1 130.9 L2042.4 126.4 L2042.8 123.3 L2043.1 119.1 L2043.5 117.2 L2043.8 113.7 L2044.2 110.8 L2044.5 109.1 L2044.9 106.5 L2045.2 104.1 L2045.6 103.2 L2045.9 100.5 L2046.3 100.2 L2046.6 98 L2047 97.4 L2047.3 96.8 L2047.7 95.1 L2048 94.3 L2048.4 92.8 L2048.7 91.5 L2049.1 90.9 L2049.4 90.4 L2049.8 90.5 L2050.1 89.6 L2050.5 89.2 L2050.8 89.4 L2052 86.7 L2053.2 85.8 L2054.4 85.7 L2055.6 84 L2056.8 83.5 L2058 83.6 L2059.2 82.9 L2060.4 83 L2061.6 82.5 L2062.8 82.9 L2064 82.7 L2065.2 81.9 L2066.4 82.4 L2067.6 82.1 L2068.8 81.4 L2070 82.6 L2071.2 81.4 L2072.4 81.2 L2073.6 82.8 L2074 88.6 L2074.3 96.7 L2074.7 105.8 L2075 114.8 L2075.4 123.2 L2075.7 129.5 L2076.1 134.2 L2076.4 132.6 L2076.8 128.1 L2077.1 124.7 L2077.5 120.8 L2077.8 118.4 L2078.2 115.1 L2078.5 111.7 L2078.9 110.3 L2079.2 106.7 L2079.6 105.5 L2079.9 103.4 L2080.3 101.5 L2080.6 99.7 L2081 99.4 L2081.3 96.9 L2081.7 96.6 L2082 96.1 L2082.4 93.8 L2082.7 93 L2083.1 92.9 L2083.4 91.9 L2083.8 91.4 L2084.1 91.1 L2084.5 89.5 L2084.8 89.1 L2085.2 88.6 L2085.5 87.8 L2086.7 87.8 L2087.9 86.6 L2089.1 85.7 L2090.3 83.9 L2091.5 84.7 L2092.7 84.2 L2093.9 83.4 L2095.1 83.5 L2096.3 82.8 L2097.5 82.3 L2098.7 81.9 L2099.9 81.9 L2101.1 81.5 L2102.3 81.8 L2103.5 82.4 L2104.7 82.2 L2105.9 82.3 L2107.1 82 L2108.3 81.3 L2108.7 81.7 L2109 81.5 L2109.4 82 L2109.7 81.6 L2110.1 81.2 L2110.4 81.7 L2110.8 82.2 L2111.1 81 L2111.5 82.1 L2111.8 80.7 L2112.2 81 L2112.5 81 L2112.9 81.8 L2113.2 82.1 L2113.6 81.8 L2113.9 81.1 L2114.3 81.9 L2114.6 81.1 L2115 80.9 L2115.3 82 L2115.7 81.5 L2116 81.6 L2116.4 81.5 L2116.7 82 L2117.1 81.2 L2117.4 81.8 L2117.8 81.5 L2118.1 81.8 L2118.5 81.1 L2118.8 81.5 L2119.2 81.3 L2119.5 80.9 L2119.9 80.7 L2121.1 81.3 L2122.3 80.4 L2123.5 81.7 L2124.7 80.5 L2125.9 80.3 L2127.1 80.4 L2128.3 81.7 L2129.5 80.7 L2130.7 80.4 L2131.9 80.2 L2133.1 80.2 L2134.3 81.2 L2135.5 81.1 L2136.7 81.2 L2137.9 81.3 L2139.1 80.2 L2140.3 81 L2141.5 80.7 L2142.7 81.4 L2143 81.4 L2143.4 81.5 L2143.7 80.2 L2144.1 81.5 L2144.4 81.5 L2144.8 81.6 L2145.1 80.2 L2145.5 80.4 L2145.8 80.2 L2146.2 80.1 L2146.5 81.4 L2146.9 81.4 L2147.2 81.1 L2147.6 81.4 L2147.9 81.1 L2148.3 80.5 L2148.6 80.2 L2149 80.2" fill="none" stroke="#000" stroke-width="2.8" stroke-linejoin="round" />
<path d="M1353 81 L1353.3 80.6 L1353.7 80.7 L1354 80.7 L1354.4 80.4 L1354.7 80.6 L1355.1 80.6 L1355.4 81 L1355.8 80.7 L1356.1 80.7 L1356.5 81.2 L1356.8 80.8 L1357.2 81.1 L1357.5 80.9 L1357.9 80.4 L1358.2 80.7 L1358.6 80.7 L1358.9 81 L1359.3 80.7 L1359.6 81 L1360 80.8 L1360.3 80.6 L1360.7 81.1 L1361 80.5 L1362.2 81.1 L1363.4 80.5 L1364.6 80.4 L1365.8 80.6 L1367 81 L1368.2 81.2 L1369.4 80.4 L1370.6 80.8 L1371.8 80.8 L1373 81 L1374.2 80.5 L1375.4 80.8 L1376.6 80.7 L1377.8 81.1 L1379 80.6 L1380.2 81.2 L1381.4 80.6 L1382.6 80.6 L1383.8 81 L1384.2 80.8 L1384.5 80.5 L1384.9 80.9 L1385.2 80.5 L1385.6 81 L1385.9 81 L1386.3 81 L1386.6 80.9 L1387 80.7 L1387.3 80.7 L1387.7 80.7 L1388 81.1 L1388.4 80.5 L1388.7 81.1 L1389.1 80.4 L1389.4 80.6 L1389.8 80.6 L1390.1 81.1 L1390.5 80.8 L1390.8 80.7 L1391.2 81.1 L1391.5 80.6 L1391.9 80.8 L1392.2 80.8 L1392.6 81 L1392.9 81 L1393.3 80.9 L1393.6 80.7 L1394 80.7 L1394.3 80.5 L1394.7 81.1 L1395 80.9 L1395.4 81 L1396.6 80.5 L1397.8 80.8 L1399 81 L1400.2 80.9 L1401.4 80.5 L1402.6 80.8 L1403.8 81.1 L1405 80.6 L1406.2 80.6 L1407.4 80.6 L1408.6 81 L1409.8 81.1 L1411 80.5 L1412.2 80.5 L1413.4 80.6 L1414.6 80.7 L1415.8 80.8 L1417 80.5 L1418.2 92.8 L1418.5 121.7 L1418.9 165.2 L1419.2 216.7 L1419.6 270.5 L1419.9 321.9 L1420.3 362.4 L1420.6 389.4 L1421 399.2 L1421.3 370 L1421.7 343.8 L1422 319.8 L1422.4 298.2 L1422.7 279.1 L1423.1 261.1 L1423.4 245.2 L1423.8 231 L1424.1 217.6 L1424.5 206.1 L1424.8 195.7 L1425.2 185.9 L1425.5 176.9 L1425.9 169 L1426.2 161.6 L1426.6 154.8 L1426.9 149.1 L1427.3 143.5 L1427.6 138.8 L1428 134.5 L1428.3 130 L1428.7 126.4 L1429 123.1 L1429.4 119.7 L1429.7 116.8 L1430.1 114.6 L1431.3 107.4 L1432.5 101.9 L1433.7 97.8 L1434.9 94.9 L1436.1 92.4 L1437.3 90.5 L1438.5 88.9 L1439.7 87.6 L1440.9 86.9 L1442.1 85.7 L1443.3 85.3 L1444.5 85.1 L1445.7 84.5 L1446.9 84.1 L1448.1 83.4 L1449.3 83.2 L1450.5 83 L1451.7 82.9 L1452.9 105.1 L1453.2 136.8 L1453.6 177.9 L1453.9 222.7 L1454.3 267.8 L1454.6 306.5 L1455 334.3 L1455.3 348.8 L1455.7 336.3 L1456 312.4 L1456.4 291.9 L1456.7 272.7 L1457.1 256.1 L1457.4 240.7 L1457.8 226.3 L1458.1 213.3 L1458.5 202.1 L1458.8 191.7 L1459.2 182.3 L1459.5 173.6 L1459.9 165.9 L1460.2 159 L1460.6 152.4 L1460.9 146.5 L1461.3 141.6 L1461.6 136.2 L1462 132.2 L1462.3 128 L1462.7 124.7 L1463 120.9 L1463.4 118.6 L1463.7 115.3 L1464.1 112.6 L1464.4 110.5 L1465.6 104.1 L1466.8 99 L1468 95.8 L1469.2 93 L1470.4 91.2 L1471.6 89.3 L1472.8 87.9 L1474 86.8 L1475.2 86.4 L1476.4 85.9 L1477.6 84.9 L1478.8 84.2 L1480 84.2 L1481.2 83.5 L1482.4 83.1 L1483.6 82.7 L1484.8 83 L1486 82.8 L1487.2 93.6 L1487.6 116.1 L1487.9 148.5 L1488.3 186.2 L1488.6 226.1 L1489 261.7 L1489.3 290.5 L1489.7 308.3 L1490 310.1 L1490.4 289.1 L1490.7 270.1 L1491.1 253.3 L1491.4 237.5 L1491.8 224.2 L1492.1 211.2 L1492.5 200.1 L1492.8 189.3 L1493.2 180 L1493.5 171.4 L1493.9 163.8 L1494.2 156.6 L1494.6 150.2 L1494.9 145 L1495.3 139.4 L1495.6 134.6 L1496 130.3 L1496.3 126.6 L1496.7 122.9 L1497 119.9 L1497.4 116.9 L1497.7 114 L1498.1 112 L1498.4 109.7 L1498.8 107 L1499.1 105.7 L1500.3 100.5 L1501.5 96.5 L1502.7 93 L1503.9 91.3 L1505.1 89.5 L1506.3 87.6 L1507.5 86.5 L1508.7 86.4 L1509.9 85.5 L1511.1 84.6 L1512.3 84 L1513.5 83.6 L1514.7 83.3 L1515.9 83.4 L1517.1 82.8 L1518.3 82.4 L1519.5 82.8 L1520.7 82.5 L1521.9 103.3 L1522.3 130.9 L1522.6 164.7 L1523 201.9 L1523.3 237.7 L1523.7 268.3 L1524 289.7 L1524.4 299.6 L1524.7 285.2 L1525.1 267.1 L1525.4 250.2 L1525.8 235.2 L1526.1 221.2 L1526.5 209.1 L1526.8 197.6 L1527.2 187.2 L1527.5 177.9 L1527.9 169.5 L1528.2 162.2 L1528.6 154.9 L1528.9 149 L1529.3 143.1 L1529.6 138.2 L1530 133.6 L1530.3 129.4 L1530.7 125.8 L1531 121.6 L1531.4 119.1 L1531.7 115.9 L1532.1 113.3 L1532.4 111 L1532.8 108.9 L1533.1 106.5 L1533.5 104.7 L1534.7 100 L1535.9 95.4 L1537.1 93 L1538.3 90.8 L1539.5 88.6 L1540.7 87.8 L1541.9 86.8 L1543.1 86.2 L1544.3 85 L1545.5 85 L1546.7 84.1 L1547.9 83.7 L1549.1 83.7 L1550.3 82.7 L1551.5 83 L1552.7 82.7 L1553.9 82.3 L1555.1 82.5 L1556.3 94.2 L1556.6 115.9 L1557 145.8 L1557.3 180.4 L1557.7 214.9 L1558 246.6 L1558.4 270.9 L1558.7 285.3 L1559.1 283 L1559.4 264.2 L1559.8 248.1 L1560.1 232.7 L1560.5 219.2 L1560.8 206.8 L1561.2 195.8 L1561.5 186.1 L1561.9 176.8 L1562.2 168.6 L1562.6 160.7 L1562.9 153.9 L1563.3 147.8 L1563.6 142.4 L1564 137.4 L1564.3 132.9 L1564.7 128.1 L1565 124.8 L1565.4 121.5 L1565.7 118.1 L1566.1 114.8 L1566.4 112.4 L1566.8 109.8 L1567.1 107.8 L1567.5 106.4 L1567.8 104.3 L1569 99.3 L1570.2 95.6 L1571.4 92.9 L1572.6 90.5 L1573.8 88.9 L1575 87.6 L1576.2 86.6 L1577.4 85.7 L1578.6 85.1 L1579.8 84.2 L1581 84.1 L1582.2 83.6 L1583.4 83.5 L1584.6 82.7 L1585.8 82.5 L1587 82.2 L1588.2 82.6 L1589.4 82.5 L1590.6 87.9 L1591 104.3 L1591.3 130.2 L1591.7 161.6 L1592 195.2 L1592.4 227 L1592.7 253.6 L1593.1 271.7 L1593.4 279 L1593.8 263.6 L1594.1 247.2 L1594.5 232.5 L1594.8 218.2 L1595.2 206.4 L1595.5 194.9 L1595.9 184.9 L1596.2 176.3 L1596.6 167.9 L1596.9 160.7 L1597.3 153.5 L1597.6 147 L1598 141.8 L1598.3 136.9 L1598.7 132.6 L1599 128.4 L1599.4 124.2 L1599.7 120.7 L1600.1 117.4 L1600.4 114.9 L1600.8 112 L1601.1 109.6 L1601.5 107.3 L1601.8 105.3 L1602.2 104.1 L1602.5 102 L1603.7 98 L1604.9 93.9 L1606.1 92 L1607.3 89.4 L1608.5 87.8 L1609.7 87.2 L1610.9 85.9 L1612.1 85.5 L1613.3 84.5 L1614.5 83.9 L1615.7 84 L1616.9 83.6 L1618.1 83.4 L1619.3 83 L1620.5 82.3 L1621.7 82.5 L1622.9 82.4 L1624.1 82.1 L1625.3 96.2 L1625.7 117.4 L1626 146.9 L1626.4 179.5 L1626.7 211.8 L1627.1 240.7 L1627.4 263 L1627.8 275.1 L1628.1 268.5 L1628.5 251.6 L1628.8 236.6 L1629.2 222.1 L1629.5 210.1 L1629.9 198.3 L1630.2 187.6 L1630.6 178.5 L1630.9 170.2 L1631.3 162.4 L1631.6 155.6 L1632 148.8 L1632.3 143.6 L1632.7 138 L1633 133.5 L1633.4 129.2 L1633.7 125.2 L1634.1 121.6 L1634.4 118.7 L1634.8 115.9 L1635.1 113.1 L1635.5 110.5 L1635.8 108.1 L1636.2 105.9 L1636.5 104.8 L1636.9 102.9 L1638.1 98.2 L1639.3 94.3 L1640.5 91.9 L1641.7 90.2 L1642.9 88.5 L1644.1 87.1 L1645.3 86 L1646.5 85.3 L1647.7 85 L1648.9 84.1 L1650.1 83.9 L1651.3 83.5 L1652.5 83.4 L1653.7 83.1 L1654.9 82.5 L1656.1 82 L1657.3 82.1 L1658.5 82 L1659.7 89.6 L1660 108.1 L1660.4 135.1 L1660.7 166.8 L1661.1 201.6 L1661.4 233.4 L1661.8 259.3 L1662.1 275.9 L1662.5 281.5 L1662.8 263.7 L1663.2 247.2 L1663.5 232.1 L1663.9 218.8 L1664.2 206.1 L1664.6 194.8 L1664.9 185.1 L1665.3 176.2 L1665.6 167.5 L1666 160.5 L1666.3 153.9 L1666.7 147.2 L1667 141.9 L1667.4 136.9 L1667.7 132.2 L1668.1 127.8 L1668.4 124 L1668.8 121 L1669.1 117.9 L1669.5 114.8 L1669.8 111.9 L1670.2 110.1 L1670.5 107.9 L1670.9 105.5 L1671.2 104 L1671.6 102.6 L1672.8 98 L1674 94.3 L1675.2 91.7 L1676.4 89.8 L1677.6 88 L1678.8 86.8 L1680 85.8 L1681.2 85.5 L1682.4 84.6 L1683.6 84.3 L1684.8 83.7 L1686 83.5 L1687.2 82.9 L1688.4 82.5 L1689.6 83 L1690.8 82.3 L1692 81.9 L1693.2 82.2 L1694.4 98.4 L1694.7 120.6 L1695.1 150.3 L1695.4 182.7 L1695.8 214.9 L1696.1 242.3 L1696.5 262.5 L1696.8 273.6 L1697.2 264.2 L1697.5 247.3 L1697.9 232.4 L1698.2 218.6 L1698.6 206.7 L1698.9 195.3 L1699.3 185.6 L1699.6 176.3 L1700 168.1 L1700.3 160.7 L1700.7 153.4 L1701 147 L1701.4 141.6 L1701.7 136.5 L1702.1 131.8 L1702.4 127.6 L1702.8 124.2 L1703.1 121 L1703.5 117.5 L1703.8 115.1 L1704.2 112.4 L1704.5 109.4 L1704.9 107.7 L1705.2 105.5 L1705.6 103.5 L1705.9 102.6 L1707.1 97.4 L1708.3 94.2 L1709.5 91.7 L1710.7 90 L1711.9 88.2 L1713.1 86.9 L1714.3 86 L1715.5 85 L1716.7 85 L1717.9 84.6 L1719.1 83.5 L1720.3 83 L1721.5 82.9 L1722.7 82.7 L1723.9 82.9 L1725.1 82.7 L1726.3 82.5 L1727.5 81.7 L1728.7 91.5 L1729.1 110.6 L1729.4 137.8 L1729.8 170.2 L1730.1 202.6 L1730.5 233.2 L1730.8 257.8 L1731.2 272.9 L1731.5 274.2 L1731.9 256.3 L1732.2 240.7 L1732.6 226.4 L1732.9 212.9 L1733.3 201.3 L1733.6 190.6 L1734 180.9 L1734.3 172.4 L1734.7 164.2 L1735 157.1 L1735.4 150.5 L1735.7 145.1 L1736.1 139.2 L1736.4 134.9 L1736.8 130.1 L1737.1 125.9 L1737.5 123 L1737.8 119.1 L1738.2 116.7 L1738.5 113.9 L1738.9 111.4 L1739.2 108.5 L1739.6 106.7 L1739.9 104.5 L1740.3 103.5 L1740.6 101.8 L1741.8 97.2 L1743 93.8 L1744.2 91.2 L1745.4 89.7 L1746.6 88 L1747.8 86.9 L1749 85.7 L1750.2 85 L1751.4 84.3 L1752.6 84.3 L1753.8 83.8 L1755 83.1 L1756.2 83.4 L1757.4 82.6 L1758.6 82.5 L1759.8 82.1 L1761 82 L1762.2 82.3 L1763.4 101 L1763.8 125 L1764.1 155.7 L1764.5 188.7 L1764.8 221.3 L1765.2 247.9 L1765.5 267.8 L1765.9 275.9 L1766.2 264.1 L1766.6 247.4 L1766.9 232 L1767.3 218.6 L1767.6 206.2 L1768 195.1 L1768.3 185 L1768.7 176 L1769 168.2 L1769.4 160.7 L1769.7 153.9 L1770.1 147.1 L1770.4 141.6 L1770.8 137.1 L1771.1 131.8 L1771.5 128.2 L1771.8 124 L1772.2 121.1 L1772.5 117.2 L1772.9 115 L1773.2 112 L1773.6 109.5 L1773.9 107.2 L1774.3 105.9 L1774.6 103.9 L1775 102 L1776.2 97.6 L1777.4 94.5 L1778.6 91.4 L1779.8 89.7 L1781 87.9 L1782.2 86.7 L1783.4 86.3 L1784.6 85.5 L1785.8 84.4 L1787 83.8 L1788.2 83.4 L1789.4 83.5 L1790.6 83.1 L1791.8 82.7 L1793 82.4 L1794.2 82.5 L1795.4 82.4 L1796.6 82.3 L1797.8 93.4 L1798.1 113.3 L1798.5 140.9 L1798.8 173.6 L1799.2 205.9 L1799.5 235.5 L1799.9 257.7 L1800.2 271.6 L1800.6 268.9 L1800.9 252.2 L1801.3 236.7 L1801.6 222.5 L1802 209.4 L1802.3 198.7 L1802.7 188 L1803 178.9 L1803.4 169.9 L1803.7 162.1 L1804.1 155.7 L1804.4 149 L1804.8 143.1 L1805.1 138 L1805.5 133.5 L1805.8 128.7 L1806.2 125.2 L1806.5 121.6 L1806.9 118.4 L1807.2 115.2 L1807.6 113 L1807.9 110.6 L1808.3 108.5 L1808.6 106 L1809 104.5 L1809.3 102.5 L1810.5 98.1 L1811.7 94 L1812.9 92 L1814.1 90.1 L1815.3 88.2 L1816.5 87 L1817.7 86.1 L1818.9 85.4 L1820.1 84.3 L1821.3 84.6 L1822.5 83.6 L1823.7 83.2 L1824.9 82.8 L1826.1 82.6 L1827.3 82.9 L1828.5 82 L1829.7 81.9 L1830.9 82.2 L1832.1 87.5 L1832.5 103.9 L1832.8 129.9 L1833.2 161.4 L1833.5 195.1 L1833.9 227.2 L1834.2 253.3 L1834.6 272 L1834.9 279.2 L1835.3 263.3 L1835.6 246.8 L1836 232.1 L1836.3 218.5 L1836.7 206.1 L1837 194.9 L1837.4 185.1 L1837.7 175.7 L1838.1 167.9 L1838.4 160.6 L1838.8 153.3 L1839.1 147.4 L1839.5 142 L1839.8 136.5 L1840.2 132.4 L1840.5 128.3 L1840.9 124.1 L1841.2 120.7 L1841.6 117.9 L1841.9 114.8 L1842.3 112.1 L1842.6 110.2 L1843 107.9 L1843.3 105.6 L1843.7 103.7 L1844 102.1 L1845.2 97.6 L1846.4 94.6 L1847.6 91.9 L1848.8 90 L1850 88.4 L1851.2 87.3 L1852.4 85.7 L1853.6 85.3 L1854.8 85.1 L1856 84.6 L1857.2 83.6 L1858.4 83.4 L1859.6 83.2 L1860.8 82.7 L1862 82.7 L1863.2 82.1 L1864.4 82.2 L1865.6 82.1 L1866.8 95.4 L1867.2 117.3 L1867.5 146.9 L1867.9 179.6 L1868.2 212.5 L1868.6 241.2 L1868.9 263.1 L1869.3 275.2 L1869.6 269.2 L1870 251.4 L1870.3 236.5 L1870.7 222.2 L1871 209.9 L1871.4 198.1 L1871.7 188 L1872.1 178.9 L1872.4 170.2 L1872.8 162.2 L1873.1 155.4 L1873.5 149 L1873.8 143.7 L1874.2 138 L1874.5 133.3 L1874.9 129.3 L1875.2 124.9 L1875.6 121.8 L1875.9 118.8 L1876.3 115.6 L1876.6 112.7 L1877 110.4 L1877.3 108.3 L1877.7 105.9 L1878 104.1 L1878.4 102.4 L1879.6 97.8 L1880.8 94.3 L1882 91.6 L1883.2 89.6 L1884.4 87.9 L1885.6 87.1 L1886.8 86.4 L1888 85.4 L1889.2 84.8 L1890.4 84.3 L1891.6 83.6 L1892.8 83.6 L1894 83.1 L1895.2 82.9 L1896.4 82.7 L1897.6 82.4 L1898.8 82.1 L1900 81.9 L1901.2 89.2 L1901.5 107.3 L1901.9 133.6 L1902.2 165.5 L1902.6 198.5 L1902.9 230 L1903.3 255.8 L1903.6 271.8 L1904 277.7 L1904.3 259.8 L1904.7 243.4 L1905 229.3 L1905.4 215.5 L1905.7 203.9 L1906.1 192.6 L1906.4 182.7 L1906.8 174.4 L1907.1 166 L1907.5 158.4 L1907.8 152 L1908.2 146 L1908.5 140.8 L1908.9 135.4 L1909.2 131 L1909.6 127.5 L1909.9 123.6 L1910.3 119.7 L1910.6 116.8 L1911 114 L1911.3 111.8 L1911.7 109.4 L1912 107.5 L1912.4 105.5 L1912.7 103.5 L1913.1 102.1 L1914.3 97.6 L1915.5 94.2 L1916.7 91.4 L1917.9 89.8 L1919.1 88.2 L1920.3 87.2 L1921.5 85.7 L1922.7 85.6 L1923.9 84.3 L1925.1 84.4 L1926.3 83.8 L1927.5 83.4 L1928.7 83.5 L1929.9 82.9 L1931.1 82.5 L1932.3 82.6 L1933.5 82.5 L1934.7 82.2 L1935.9 98.2 L1936.2 121.1 L1936.6 150.7 L1936.9 183.8 L1937.3 215.8 L1937.6 243.8 L1938 264.3 L1938.3 274.6 L1938.7 265.2 L1939 248.9 L1939.4 233.8 L1939.7 219.8 L1940.1 207.4 L1940.4 195.9 L1940.8 185.9 L1941.1 176.6 L1941.5 168.6 L1941.8 161 L1942.2 153.8 L1942.5 148.2 L1942.9 142.1 L1943.2 137.4 L1943.6 132.8 L1943.9 128.7 L1944.3 124.2 L1944.6 121 L1945 118.2 L1945.3 114.6 L1945.7 112 L1946 110 L1946.4 107.8 L1946.7 106.1 L1947.1 104.2 L1947.4 102.4 L1948.6 98.1 L1949.8 94.2 L1951 91.7 L1952.2 89.8 L1953.4 88.1 L1954.6 86.9 L1955.8 86.1 L1957 85.2 L1958.2 85.1 L1959.4 84.3 L1960.6 83.8 L1961.8 83.1 L1963 83 L1964.2 82.8 L1965.4 82.7 L1966.6 82.5 L1967.8 82.5 L1969 82.5 L1970.2 91.2 L1970.6 110.3 L1970.9 137.5 L1971.3 169.7 L1971.6 202.3 L1972 232.7 L1972.3 256.9 L1972.7 271.3 L1973 272.9 L1973.4 256 L1973.7 240 L1974.1 225.5 L1974.4 212.2 L1974.8 201.2 L1975.1 190.4 L1975.5 180.9 L1975.8 172.4 L1976.2 164.4 L1976.5 156.9 L1976.9 150.2 L1977.2 144.4 L1977.6 139.3 L1977.9 134.5 L1978.3 129.8 L1978.6 125.8 L1979 122.6 L1979.3 119.2 L1979.7 116 L1980 113.8 L1980.4 111.1 L1980.7 108.3 L1981.1 106.6 L1981.4 105 L1981.8 102.9 L1982.1 101.6 L1983.3 96.6 L1984.5 93.6 L1985.7 91.5 L1986.9 89.5 L1988.1 88.1 L1989.3 86.6 L1990.5 85.9 L1991.7 85.2 L1992.9 84.4 L1994.1 84.2 L1995.3 83.7 L1996.5 83.8 L1997.7 83.1 L1998.9 82.7 L2000.1 82.3 L2001.3 82.1 L2002.5 82.4 L2003.7 81.7 L2004.9 100.1 L2005.3 123.4 L2005.6 153 L2006 185.3 L2006.3 216.1 L2006.7 242.5 L2007 260.4 L2007.4 268.9 L2007.7 257.5 L2008.1 241.1 L2008.4 227 L2008.8 213.6 L2009.1 201.6 L2009.5 191 L2009.8 181.1 L2010.2 173 L2010.5 164.8 L2010.9 157.4 L2011.2 150.9 L2011.6 144.9 L2011.9 139.3 L2012.3 135.1 L2012.6 130.4 L2013 126.7 L2013.3 122.6 L2013.7 119.4 L2014 116.1 L2014.4 113.2 L2014.7 111.4 L2015.1 109 L2015.4 106.5 L2015.8 105.1 L2016.1 103.3 L2016.5 101.3 L2017.7 97.1 L2018.9 94.1 L2020.1 91.2 L2021.3 89.7 L2022.5 87.7 L2023.7 86.7 L2024.9 86 L2026.1 84.9 L2027.3 84.4 L2028.5 84.4 L2029.7 83.7 L2030.9 83.6 L2032.1 82.8 L2033.3 82.5 L2034.5 82.4 L2035.7 82.1 L2036.9 82.6 L2038.1 81.9 L2039.3 93.3 L2039.6 113 L2040 141 L2040.3 172.8 L2040.7 205.2 L2041 234.2 L2041.4 256.8 L2041.7 270.6 L2042.1 267.9 L2042.4 250.8 L2042.8 235.4 L2043.1 221.5 L2043.5 208.9 L2043.8 197.4 L2044.2 187.6 L2044.5 178 L2044.9 169.3 L2045.2 162.1 L2045.6 154.7 L2045.9 148.5 L2046.3 143.3 L2046.6 137.5 L2047 133.1 L2047.3 129.1 L2047.7 125.2 L2048 121.2 L2048.4 118.1 L2048.7 115.5 L2049.1 112.5 L2049.4 110.6 L2049.8 107.8 L2050.1 106.4 L2050.5 104.2 L2050.8 102.3 L2052 97.8 L2053.2 94 L2054.4 91.8 L2055.6 89.5 L2056.8 88.5 L2058 87.1 L2059.2 85.9 L2060.4 85.1 L2061.6 84.8 L2062.8 84 L2064 84.1 L2065.2 83.1 L2066.4 83.1 L2067.6 82.9 L2068.8 82.4 L2070 82.6 L2071.2 82.1 L2072.4 82.2 L2073.6 87.5 L2074 103.1 L2074.3 127.5 L2074.7 157.2 L2075 189.3 L2075.4 220.4 L2075.7 245.2 L2076.1 262.7 L2076.4 269.3 L2076.8 254.9 L2077.1 239 L2077.5 224.9 L2077.8 211.8 L2078.2 199.9 L2078.5 189.6 L2078.9 179.9 L2079.2 171.2 L2079.6 163.8 L2079.9 156.3 L2080.3 150 L2080.6 144.5 L2081 139.1 L2081.3 134.4 L2081.7 130 L2082 125.5 L2082.4 122 L2082.7 118.5 L2083.1 116 L2083.4 113.3 L2083.8 110.6 L2084.1 108.4 L2084.5 106.5 L2084.8 104.7 L2085.2 102.6 L2085.5 101.5 L2086.7 96.7 L2087.9 93.7 L2089.1 90.9 L2090.3 89 L2091.5 88.2 L2092.7 86.9 L2093.9 86 L2095.1 84.7 L2096.3 84.2 L2097.5 83.8 L2098.7 83.4 L2099.9 83.1 L2101.1 82.9 L2102.3 82.4 L2103.5 82.4 L2104.7 82.5 L2105.9 81.9 L2107.1 82.3 L2108.3 82 L2108.7 82 L2109 81.6 L2109.4 81.7 L2109.7 81.9 L2110.1 81.6 L2110.4 81.3 L2110.8 81.9 L2111.1 81.9 L2111.5 81.5 L2111.8 81.2 L2112.2 81.9 L2112.5 81.6 L2112.9 81.2 L2113.2 81.3 L2113.6 81.2 L2113.9 81.7 L2114.3 81.2 L2114.6 81.7 L2115 81.6 L2115.3 81 L2115.7 81.5 L2116 81.3 L2116.4 81.5 L2116.7 81.6 L2117.1 81.1 L2117.4 80.9 L2117.8 81.6 L2118.1 81.2 L2118.5 81.6 L2118.8 81.4 L2119.2 81.4 L2119.5 81.5 L2119.9 81.3 L2121.1 81.1 L2122.3 80.7 L2123.5 81.2 L2124.7 81 L2125.9 81 L2127.1 81.3 L2128.3 80.7 L2129.5 81.2 L2130.7 80.6 L2131.9 81.1 L2133.1 81.2 L2134.3 80.7 L2135.5 80.9 L2136.7 81.3 L2137.9 81 L2139.1 80.9 L2140.3 80.7 L2141.5 80.5 L2142.7 80.7 L2143 80.8 L2143.4 80.6 L2143.7 80.7 L2144.1 80.6 L2144.4 81 L2144.8 81 L2145.1 80.6 L2145.5 80.6 L2145.8 80.8 L2146.2 80.8 L2146.5 81.2 L2146.9 80.7 L2147.2 80.7 L2147.6 81.1 L2147.9 80.5 L2148.3 80.9 L2148.6 80.7 L2149 81.1" fill="none" stroke="#14c014" stroke-width="3.4" stroke-linejoin="round" />
<path d="M1420.6 398.4 L1455.3 219.5 L1489.7 182 L1524 162.3 L1558.7 150.4 L1593.1 143.6 L1627.8 140.4 L1662.1 137.6 L1696.8 137.6 L1731.2 135.1 L1765.9 134.9 L1800.2 133.6 L1834.6 136.5 L1869.3 135.9 L1903.6 136 L1938 133.3 L1972.7 136 L2007 132.9 L2041.7 135.2 L2076.1 134.2" fill="none" stroke="#7a7a7a" stroke-width="1.2" stroke-linejoin="round" stroke-dasharray="2 3"/>
<rect x="1506" y="340.5" width="68.5" height="5.5" fill="#000" />
<text x="1506" y="371" font-size="25">20 ms</text>
<text x="1836" y="316.5" font-size="25" textLength="178" lengthAdjust="spacingAndGlyphs">GluA1–TARP-<tspan font-family="Liberation Serif" font-style="italic">γ</tspan>2</text>
<text x="1836" y="349" font-size="25" fill="#0cb80c" textLength="205.5" lengthAdjust="spacingAndGlyphs">GluA3-G–TARP-<tspan font-family="Liberation Serif" font-style="italic">γ</tspan>2</text>
<text x="1466" y="466" font-size="33" font-weight="bold">c</text>
<text x="1787.7" y="504" font-size="25" fill="#0cb80c" textLength="205" lengthAdjust="spacingAndGlyphs">GluA3-G–TARP-<tspan font-family="Liberation Serif" font-style="italic">γ</tspan>2</text>
<text x="1787.7" y="537" font-size="25" textLength="376" lengthAdjust="spacingAndGlyphs">GluA3-G(K129C/E458C)–TARP-<tspan font-family="Liberation Serif" font-style="italic">γ</tspan>2</text>
<text x="1579" y="537" font-size="25">10 mM <tspan font-size="18">L</tspan>-glu</text>
<line x1="1563" y1="557" x2="2042" y2="557" stroke="#000" stroke-width="2" />
<path d="M1513 567.5 L1563 567.5 L1563.7 600.1 L1564.4 685.5 L1565.1 791 L1565.8 876.4 L1566.5 909 L1567.2 899.7 L1567.9 891.8 L1568.6 883.3 L1569.3 875.8 L1570 868.2 L1570.7 859.9 L1571.4 852.7 L1572.1 847.3 L1572.8 839.6 L1573.5 833.2 L1574.2 828.4 L1574.9 821.5 L1575.6 816.4 L1576.3 810.2 L1577 805.1 L1577.7 799 L1578.4 794.9 L1579.1 790.5 L1579.8 785.2 L1580.5 781.1 L1581.2 776.6 L1581.9 771.3 L1582.6 768.5 L1583.3 764.2 L1584 759.9 L1584.7 755.8 L1585.4 753.7 L1586.1 749.6 L1586.8 746.8 L1587.5 743.8 L1588.2 740.5 L1588.9 737.9 L1589.6 734 L1590.3 732 L1591 728.6 L1591.7 726.9 L1592.4 724.3 L1593.1 720.4 L1593.8 718.2 L1594.5 716 L1595.2 715.2 L1595.9 712.1 L1596.6 710.4 L1597.3 707.8 L1598 706.3 L1598.7 704.2 L1599.4 702.3 L1600.1 701 L1602.1 696.3 L1604.1 692.6 L1606.1 688.3 L1608.1 685.2 L1610.1 681.8 L1612.1 679.1 L1614.1 675.8 L1616.1 672.5 L1618.1 671.4 L1620.1 669.5 L1622.1 667.5 L1624.1 665.2 L1626.1 663.8 L1628.1 661.4 L1630.1 661.2 L1632.1 659.4 L1634.1 657.7 L1636.1 656.2 L1638.1 656.7 L1640.1 656 L1642.1 653.5 L1644.1 653.9 L1646.1 652.5 L1648.1 651.3 L1650.1 650.9 L1652.1 651.2 L1654.1 650.8 L1656.1 648.8 L1658.1 649.3 L1660.1 647.8 L1662.1 648.5 L1664.1 647.4 L1666.1 648 L1668.1 647.8 L1670.1 646.6 L1672.1 647.2 L1674.1 645.6 L1676.1 644.9 L1678.1 645.5 L1680.1 644.3 L1682.1 644.3 L1684.1 644.4 L1686.1 644.6 L1688.1 643.5 L1690.1 643.1 L1692.1 644.4 L1694.1 643.2 L1696.1 644.2 L1698.1 643.9 L1700.1 642.8 L1702.1 642.7 L1704.1 642.7 L1706.1 642.8 L1708.1 642.5 L1710.1 642.3 L1712.1 642.3 L1714.1 642.8 L1716.1 641.9 L1718.1 641.6 L1720.1 642 L1722.1 641 L1724.1 641 L1726.1 642.2 L1728.1 641.2 L1730.1 641.2 L1732.1 640.1 L1734.1 640.8 L1736.1 641 L1738.1 639.9 L1740.1 640.9 L1742.1 640.8 L1744.1 639.7 L1746.1 640.7 L1748.1 640.3 L1750.1 640.6 L1752.1 640 L1754.1 640.6 L1756.1 640.6 L1758.1 639.2 L1760.1 639.2 L1762.1 640.3 L1764.1 640.7 L1766.1 639.4 L1768.1 639.7 L1770.1 639.9 L1772.1 639.4 L1774.1 639.4 L1776.1 639.3 L1778.1 639.4 L1780.1 639.7 L1782.1 639.2 L1784.1 639.3 L1786.1 639.9 L1788.1 638.6 L1790.1 639.5 L1792.1 639.8 L1794.1 639 L1796.1 638.8 L1798.1 639.8 L1800.1 638.8 L1802.1 638.6 L1804.1 639.1 L1806.1 639.5 L1808.1 638.4 L1810.1 638.8 L1812.1 638.8 L1814.1 639.7 L1816.1 638.9 L1818.1 639.7 L1820.1 638.4 L1822.1 638.7 L1824.1 639.2 L1826.1 639.6 L1828.1 638.8 L1830.1 638.4 L1832.1 638.2 L1834.1 638.9 L1836.1 638.3 L1838.1 639.4 L1840.1 639.4 L1842.1 638.2 L1844.1 638.4 L1846.1 639.3 L1848.1 639 L1850.1 639.3 L1852.1 638.5 L1854.1 638.1 L1856.1 638.4 L1858.1 639.2 L1860.1 638.3 L1862.1 638.4 L1864.1 638.5 L1866.1 638.5 L1868.1 638.5 L1870.1 639.4 L1872.1 638 L1874.1 637.7 L1876.1 639.4 L1878.1 639.3 L1880.1 639.5 L1882.1 638.5 L1884.1 639.4 L1886.1 639.4 L1888.1 638.1 L1890.1 639 L1892.1 639.2 L1894.1 638.9 L1896.1 638.6 L1898.1 638.2 L1900.1 638.3 L1902.1 638.1 L1904.1 637.8 L1906.1 638.7 L1908.1 638.2 L1910.1 639.1 L1912.1 637.7 L1914.1 639.3 L1916.1 638.9 L1918.1 639.3 L1920.1 639.2 L1922.1 639.2 L1924.1 638.6 L1926.1 637.6 L1928.1 638.9 L1930.1 637.9 L1932.1 638.1 L1934.1 638.8 L1936.1 638.5 L1938.1 638.3 L1940.1 639.3 L1942.1 638.7 L1944.1 638.2 L1946.1 638 L1948.1 639.1 L1950.1 638.4 L1952.1 639 L1954.1 638.2 L1956.1 637.9 L1958.1 638.5 L1960.1 639 L1962.1 637.9 L1964.1 639 L1966.1 639.2 L1968.1 639 L1970.1 639 L1972.1 637.6 L1974.1 638.7 L1976.1 639.1 L1978.1 637.6 L1980.1 638 L1982.1 638 L1984.1 638.5 L1986.1 638.3 L1988.1 638.4 L1990.1 638.9 L1992.1 637.5 L1994.1 637.6 L1996.1 637.8 L1998.1 637.8 L2000.1 637.7 L2002.1 639.3 L2004.1 639.1 L2006.1 637.7 L2008.1 638.4 L2010.1 638.1 L2012.1 638.1 L2014.1 638.2 L2016.1 638.7 L2018.1 638.6 L2020.1 638.2 L2022.1 637.9 L2024.1 638.1 L2026.1 637.7 L2028.1 638.5 L2030.1 638.1 L2032.1 624.1 L2034.1 612.8 L2036.1 604.2 L2038.1 597.5 L2040.1 592.2 L2042.1 587.9 L2044.1 583.4 L2046.1 581.1 L2048.1 578.3 L2050.1 575.9 L2052.1 574.2 L2054.1 573.1 L2056.1 572.4 L2058.1 571 L2060.1 570.8 L2062.1 569.8 L2064.1 569 L2066.1 569.2 L2068.1 569.1 L2070.1 567.8 L2072.1 568.2 L2074.1 568 L2076.1 568.7 L2078.1 568.7 L2080.1 567.6 L2082.1 568.5 L2084.1 568.3 L2086.1 567.3 L2088.1 567.6 L2090.1 566.9 L2092.1 568.2 L2094.1 567.9 L2096.1 568.3 L2098.1 568.1 L2100.1 567.8 L2102.1 568 L2104.1 567.6 L2106.1 566.8 L2108.1 567.7 L2110.1 566.6 L2112.1 566.9 L2114.1 568 L2116.1 566.7 L2117 566.8" fill="none" stroke="#000" stroke-width="2.6" stroke-linejoin="round" />
<path d="M1513 567.5 L1563 567.5 L1563.7 600.1 L1564.4 685.5 L1565.1 791 L1565.8 876.4 L1566.5 909 L1567.2 892.7 L1567.9 878.3 L1568.6 863.3 L1569.3 849.4 L1570 837.3 L1570.7 824.2 L1571.4 813.2 L1572.1 801.8 L1572.8 791.4 L1573.5 781.4 L1574.2 771.5 L1574.9 762.6 L1575.6 753.1 L1576.3 745.6 L1577 737.5 L1577.7 730.3 L1578.4 722.6 L1579.1 716.5 L1579.8 710.2 L1580.5 703.2 L1581.2 697.7 L1581.9 692.4 L1582.6 687.4 L1583.3 681.8 L1584 677 L1584.7 672.6 L1585.4 668.6 L1586.1 664.7 L1586.8 660.4 L1587.5 656.7 L1588.2 653.2 L1588.9 649.8 L1589.6 646.6 L1590.3 643.2 L1591 640.7 L1591.7 638.4 L1592.4 635.2 L1593.1 633.1 L1593.8 630.1 L1594.5 628.3 L1595.2 626.2 L1595.9 624.1 L1596.6 622 L1597.3 620 L1598 618.4 L1598.7 617 L1599.4 614.6 L1600.1 613 L1602.1 609.6 L1604.1 606.2 L1606.1 602.7 L1608.1 599.9 L1610.1 597.8 L1612.1 595.1 L1614.1 593.4 L1616.1 591.7 L1618.1 590.6 L1620.1 589.1 L1622.1 587.8 L1624.1 587.3 L1626.1 586.6 L1628.1 585.2 L1630.1 584.9 L1632.1 583.9 L1634.1 583.8 L1636.1 583 L1638.1 582.2 L1640.1 581.8 L1642.1 581.2 L1644.1 581.3 L1646.1 580.9 L1648.1 580.4 L1650.1 580.3 L1652.1 580 L1654.1 580.2 L1656.1 579.4 L1658.1 580 L1660.1 579.3 L1662.1 579.3 L1664.1 579 L1666.1 579.2 L1668.1 579.1 L1670.1 578.7 L1672.1 578.5 L1674.1 578.6 L1676.1 578.7 L1678.1 578.1 L1680.1 578.4 L1682.1 578.5 L1684.1 577.9 L1686.1 577.6 L1688.1 577.5 L1690.1 578 L1692.1 577.9 L1694.1 578.1 L1696.1 577.9 L1698.1 577.3 L1700.1 577.1 L1702.1 577.2 L1704.1 577.1 L1706.1 577.5 L1708.1 577.6 L1710.1 577.6 L1712.1 577 L1714.1 577.5 L1716.1 576.9 L1718.1 577 L1720.1 577.3 L1722.1 576.6 L1724.1 576.6 L1726.1 577.3 L1728.1 576.8 L1730.1 576.8 L1732.1 577 L1734.1 577.1 L1736.1 576.4 L1738.1 576.7 L1740.1 576.8 L1742.1 576.8 L1744.1 576.5 L1746.1 576.9 L1748.1 577.2 L1750.1 576.7 L1752.1 576.8 L1754.1 576.4 L1756.1 576.5 L1758.1 576.9 L1760.1 576.3 L1762.1 577.1 L1764.1 577.1 L1766.1 576.3 L1768.1 577.1 L1770.1 576.5 L1772.1 576.9 L1774.1 576.9 L1776.1 576.4 L1778.1 576.8 L1780.1 576.8 L1782.1 576.9 L1784.1 576.4 L1786.1 576.9 L1788.1 577.1 L1790.1 576.8 L1792.1 576.6 L1794.1 576.2 L1796.1 576.6 L1798.1 576.4 L1800.1 576.8 L1802.1 576.8 L1804.1 576.6 L1806.1 576.2 L1808.1 576.7 L1810.1 576.7 L1812.1 576.2 L1814.1 576.9 L1816.1 576.7 L1818.1 576.2 L1820.1 577 L1822.1 576.2 L1824.1 576.4 L1826.1 576.8 L1828.1 576.6 L1830.1 576.6 L1832.1 576.7 L1834.1 576.5 L1836.1 576.3 L1838.1 576.2 L1840.1 576.1 L1842.1 576.7 L1844.1 576.8 L1846.1 576.6 L1848.1 576.8 L1850.1 576.4 L1852.1 576.3 L1854.1 576.4 L1856.1 576.9 L1858.1 576.1 L1860.1 576.5 L1862.1 576.3 L1864.1 576.8 L1866.1 576.4 L1868.1 576.3 L1870.1 576.4 L1872.1 576.6 L1874.1 576.8 L1876.1 576.4 L1878.1 576.9 L1880.1 576.1 L1882.1 576.3 L1884.1 576.1 L1886.1 576.1 L1888.1 576.8 L1890.1 576.7 L1892.1 576.2 L1894.1 576.2 L1896.1 576.4 L1898.1 576.7 L1900.1 576.8 L1902.1 576.8 L1904.1 576.6 L1906.1 576.2 L1908.1 576.4 L1910.1 576.2 L1912.1 576.5 L1914.1 576.6 L1916.1 576.2 L1918.1 576.3 L1920.1 576.8 L1922.1 576 L1924.1 576.8 L1926.1 576.9 L1928.1 577 L1930.1 576.4 L1932.1 576.6 L1934.1 576.6 L1936.1 576.6 L1938.1 577 L1940.1 576.7 L1942.1 576.3 L1944.1 576.9 L1946.1 576.5 L1948.1 576.6 L1950.1 576.7 L1952.1 576 L1954.1 576.8 L1956.1 576.7 L1958.1 576.5 L1960.1 576.5 L1962.1 576.5 L1964.1 576.2 L1966.1 576.5 L1968.1 576 L1970.1 576.5 L1972.1 576.6 L1974.1 576.4 L1976.1 576.6 L1978.1 577 L1980.1 576.9 L1982.1 576.1 L1984.1 576.8 L1986.1 576.6 L1988.1 576.1 L1990.1 576.4 L1992.1 576.2 L1994.1 576.1 L1996.1 576.5 L1998.1 576.9 L2000.1 576.3 L2002.1 576.9 L2004.1 576.7 L2006.1 576.1 L2008.1 576.9 L2010.1 576.6 L2012.1 576.9 L2014.1 576.7 L2016.1 576.7 L2018.1 576.3 L2020.1 576.8 L2022.1 576.9 L2024.1 576.9 L2026.1 576.4 L2028.1 576.6 L2030.1 574.2 L2032.1 572.1 L2034.1 570.8 L2036.1 569.9 L2038.1 569.3 L2040.1 568.8 L2042.1 568.7 L2044.1 568.6 L2046.1 568.2 L2048.1 567.9 L2050.1 568 L2052.1 567.6 L2054.1 567.7 L2056.1 567.9 L2058.1 567.5 L2060.1 567.3 L2062.1 568 L2064.1 567.8 L2066.1 567.4 L2068.1 567.4 L2070.1 567.6 L2072.1 567.6 L2074.1 567.2 L2076.1 567 L2078.1 567.2 L2080.1 567.8 L2082.1 567.1 L2084.1 567.5 L2086.1 567.2 L2088.1 567.2 L2090.1 567.2 L2092.1 567.4 L2094.1 567.2 L2096.1 567 L2098.1 567.1 L2100.1 567.2 L2102.1 567.5 L2104.1 567.1 L2106.1 567 L2108.1 567.4 L2110.1 567.4 L2112.1 567.7 L2114.1 567.1 L2116.1 567.4 L2117 567.4" fill="none" stroke="#0cb80c" stroke-width="2.8" stroke-linejoin="round" />
<rect x="1598" y="879.5" width="49" height="5.5" fill="#000" />
<text x="1589" y="909.5" font-size="25">20 ms</text>
<line x1="1746.7" y1="701.4" x2="1746.7" y2="884.2" stroke="#333" stroke-width="1.6" />
<line x1="1739.6" y1="884.2" x2="1993" y2="884.2" stroke="#333" stroke-width="1.6" />
<line x1="1739" y1="884.2" x2="1746.7" y2="884.2" stroke="#333" stroke-width="1.6" />
<text x="1728" y="893.2" font-size="25" text-anchor="end">0</text>
<line x1="1739" y1="838.5" x2="1746.7" y2="838.5" stroke="#333" stroke-width="1.6" />
<text x="1728" y="847.5" font-size="25" text-anchor="end">10</text>
<line x1="1739" y1="792.8" x2="1746.7" y2="792.8" stroke="#333" stroke-width="1.6" />
<text x="1728" y="801.8" font-size="25" text-anchor="end">20</text>
<line x1="1739" y1="747.1" x2="1746.7" y2="747.1" stroke="#333" stroke-width="1.6" />
<text x="1728" y="756.1" font-size="25" text-anchor="end">30</text>
<line x1="1739" y1="701.4" x2="1746.7" y2="701.4" stroke="#333" stroke-width="1.6" />
<text x="1728" y="710.4" font-size="25" text-anchor="end">40</text>
<rect x="1777.7" y="872.8" width="60.9" height="11.4" fill="#c8f2c8" stroke="#333" stroke-width="1.5" />
<rect x="1901.7" y="754" width="60.3" height="130.2" fill="#e8e8e8" stroke="#333" stroke-width="1.5" />
<line x1="1808" y1="884.2" x2="1808" y2="891.5" stroke="#333" stroke-width="1.6" />
<line x1="1932" y1="884.2" x2="1932" y2="891.5" stroke="#333" stroke-width="1.6" />
<line x1="1932" y1="726" x2="1932" y2="781.6" stroke="#222" stroke-width="1.1" />
<line x1="1916.5" y1="726.5" x2="1947.5" y2="726.5" stroke="#222" stroke-width="1.1" />
<line x1="1916.5" y1="781.3" x2="1947.5" y2="781.3" stroke="#222" stroke-width="1.1" />
<line x1="1792.5" y1="869.5" x2="1823.5" y2="869.5" stroke="#222" stroke-width="1.1" />
<line x1="1792.5" y1="875.5" x2="1823.5" y2="875.5" stroke="#222" stroke-width="1.1" />
<circle cx="1932" cy="711" r="3.4" fill="#000" />
<circle cx="1932" cy="743.5" r="3.4" fill="#000" />
<circle cx="1932" cy="750" r="3.4" fill="#000" />
<circle cx="1932" cy="752" r="3.4" fill="#000" />
<circle cx="1932" cy="777" r="3.4" fill="#000" />
<circle cx="1932" cy="790.5" r="3.4" fill="#000" />
<circle cx="1808" cy="867.5" r="3.4" fill="#000" />
<circle cx="1808" cy="870" r="3.4" fill="#000" />
<circle cx="1808" cy="872.5" r="3.4" fill="#000" />
<circle cx="1808" cy="874.5" r="3.4" fill="#000" />
<line x1="1803" y1="705" x2="1932.7" y2="705" stroke="#111" stroke-width="1.5" />
<text x="1811" y="695.4" font-size="25"><tspan font-style="italic">P</tspan> &lt; 0.0001</text>
<text x="0" y="0" font-size="25" text-anchor="middle" transform="translate(1679.7 793) rotate(-90)">SS (% peak)</text>
<text x="1792.5" y="920" font-size="25" text-anchor="middle" fill="#0cb80c">GluA3-G</text>
<text x="1943" y="920" font-size="25" text-anchor="middle">K129C/E458C</text>
<line x1="1563" y1="1020.6" x2="1563" y2="1260.6" stroke="#333" stroke-width="1.6" />
<line x1="1549" y1="1260.6" x2="2059.7" y2="1260.6" stroke="#333" stroke-width="1.6" />
<line x1="1549" y1="1260.6" x2="1563" y2="1260.6" stroke="#333" stroke-width="1.6" />
<text x="1539" y="1269.6" font-size="25" text-anchor="end">0</text>
<line x1="1549" y1="1180.6" x2="1563" y2="1180.6" stroke="#333" stroke-width="1.6" />
<text x="1539" y="1189.6" font-size="25" text-anchor="end">5</text>
<line x1="1549" y1="1100.6" x2="1563" y2="1100.6" stroke="#333" stroke-width="1.6" />
<text x="1539" y="1109.6" font-size="25" text-anchor="end">10</text>
<line x1="1549" y1="1020.6" x2="1563" y2="1020.6" stroke="#333" stroke-width="1.6" />
<text x="1539" y="1029.6" font-size="25" text-anchor="end">15</text>
<line x1="1563" y1="1156.5" x2="2058" y2="1156.5" stroke="#9ed89e" stroke-width="1.5" stroke-dasharray="1.5 5"/>
<rect x="1596.7" y="1156.8" width="65.4" height="103.8" fill="#cef2ce" stroke="#111" stroke-width="1.6" />
<line x1="1629.4" y1="1260.6" x2="1629.4" y2="1272" stroke="#333" stroke-width="1.6" />
<line x1="1629.4" y1="1143" x2="1629.4" y2="1168.7" stroke="#111" stroke-width="1.6" />
<line x1="1612.9" y1="1143" x2="1645.9" y2="1143" stroke="#111" stroke-width="1.6" />
<line x1="1612.9" y1="1168.7" x2="1645.9" y2="1168.7" stroke="#111" stroke-width="1.6" />
<circle cx="1629.4" cy="1129.5" r="3.6" fill="#000" />
<circle cx="1629.4" cy="1144" r="3.6" fill="#000" />
<circle cx="1629.4" cy="1156" r="3.6" fill="#000" />
<circle cx="1629.4" cy="1160" r="3.6" fill="#000" />
<circle cx="1629.4" cy="1165" r="3.6" fill="#000" />
<circle cx="1629.4" cy="1168" r="3.6" fill="#000" />
<rect x="1717.5" y="1159.8" width="65.4" height="100.8" fill="#ededed" stroke="#111" stroke-width="1.6" />
<line x1="1750.2" y1="1260.6" x2="1750.2" y2="1272" stroke="#333" stroke-width="1.6" />
<line x1="1750.2" y1="1150" x2="1750.2" y2="1168.3" stroke="#111" stroke-width="1.6" />
<line x1="1733.7" y1="1150" x2="1766.7" y2="1150" stroke="#111" stroke-width="1.6" />
<line x1="1733.7" y1="1168.3" x2="1766.7" y2="1168.3" stroke="#111" stroke-width="1.6" />
<circle cx="1750.2" cy="1145.5" r="3.6" fill="#000" />
<circle cx="1750.2" cy="1150" r="3.6" fill="#000" />
<circle cx="1750.2" cy="1153" r="3.6" fill="#000" />
<circle cx="1750.2" cy="1158" r="3.6" fill="#000" />
<circle cx="1750.2" cy="1162" r="3.6" fill="#000" />
<circle cx="1750.2" cy="1166" r="3.6" fill="#000" />
<circle cx="1750.2" cy="1174" r="3.6" fill="#000" />
<rect x="1838.2" y="1165.7" width="65.4" height="94.9" fill="#ededed" stroke="#111" stroke-width="1.6" />
<line x1="1870.9" y1="1260.6" x2="1870.9" y2="1272" stroke="#333" stroke-width="1.6" />
<line x1="1870.9" y1="1158.8" x2="1870.9" y2="1171.3" stroke="#111" stroke-width="1.6" />
<line x1="1854.4" y1="1158.8" x2="1887.4" y2="1158.8" stroke="#111" stroke-width="1.6" />
<line x1="1854.4" y1="1171.3" x2="1887.4" y2="1171.3" stroke="#111" stroke-width="1.6" />
<circle cx="1870.9" cy="1157.5" r="3.6" fill="#000" />
<circle cx="1870.9" cy="1160" r="3.6" fill="#000" />
<circle cx="1870.9" cy="1163" r="3.6" fill="#000" />
<circle cx="1870.9" cy="1166" r="3.6" fill="#000" />
<circle cx="1870.9" cy="1169" r="3.6" fill="#000" />
<circle cx="1870.9" cy="1176" r="3.6" fill="#000" />
<rect x="1959.6" y="1094.7" width="65.4" height="165.9" fill="#ededed" stroke="#111" stroke-width="1.6" />
<line x1="1992.3" y1="1260.6" x2="1992.3" y2="1272" stroke="#333" stroke-width="1.6" />
<line x1="1992.3" y1="1065.6" x2="1992.3" y2="1122.8" stroke="#111" stroke-width="1.6" />
<line x1="1975.8" y1="1065.6" x2="2008.8" y2="1065.6" stroke="#111" stroke-width="1.6" />
<line x1="1975.8" y1="1122.8" x2="2008.8" y2="1122.8" stroke="#111" stroke-width="1.6" />
<circle cx="1992.3" cy="1063.3" r="3.6" fill="#000" />
<circle cx="1992.3" cy="1074" r="3.6" fill="#000" />
<circle cx="1992.3" cy="1080.5" r="3.6" fill="#000" />
<circle cx="1992.3" cy="1087.7" r="3.6" fill="#000" />
<circle cx="1992.3" cy="1122.8" r="3.6" fill="#000" />
<circle cx="1992.3" cy="1135" r="3.6" fill="#000" />
<line x1="1629" y1="1094.7" x2="1750.7" y2="1094.7" stroke="#111" stroke-width="1.5" />
<text x="1626.7" y="1085.4" font-size="25"><tspan font-style="italic">P</tspan> = 0.9239</text>
<line x1="1629" y1="1042.8" x2="1871" y2="1042.8" stroke="#111" stroke-width="1.5" />
<text x="1689.5" y="1034" font-size="25"><tspan font-style="italic">P</tspan> = 0.2863</text>
<line x1="1629" y1="997.8" x2="1992" y2="997.8" stroke="#111" stroke-width="1.5" />
<text x="1750" y="989" font-size="25"><tspan font-style="italic">P</tspan> = 0.0047</text>
<text x="0" y="0" font-size="25" transform="translate(1487.5 1141) rotate(-90)" text-anchor="middle"><tspan font-style="italic">τ</tspan><tspan font-size="17" dy="5">des</tspan><tspan dy="-5"> (ms)</tspan></text>
<text x="1645.9" y="1293.5" font-size="25.5" text-anchor="end" fill="#0cb80c" transform="rotate(-45 1645.9 1293.5)">GluA3-G</text>
<text x="1766.7" y="1293.5" font-size="25.5" text-anchor="end" transform="rotate(-45 1766.7 1293.5)">K129C</text>
<text x="1887.4" y="1293.5" font-size="25.5" text-anchor="end" transform="rotate(-45 1887.4 1293.5)">E458C</text>
<text x="2008.8" y="1293.5" font-size="25.5" text-anchor="end" transform="rotate(-45 2008.8 1293.5)">K129C/E458C</text>
<text x="0" y="466" font-size="33" font-weight="bold">d</text>
<line x1="121" y1="530" x2="121" y2="1105.7" stroke="#333" stroke-width="1.8" />
<line x1="97" y1="1104.9" x2="985" y2="1104.9" stroke="#333" stroke-width="1.8" />
<line x1="97" y1="1104.9" x2="121" y2="1104.9" stroke="#333" stroke-width="1.8" />
<text x="84" y="1113.9" font-size="25" text-anchor="end">0</text>
<line x1="110.5" y1="1050.2" x2="121" y2="1050.2" stroke="#333" stroke-width="1.8" />
<line x1="97" y1="995.4" x2="121" y2="995.4" stroke="#333" stroke-width="1.8" />
<text x="84" y="1004.4" font-size="25" text-anchor="end">0.2</text>
<line x1="110.5" y1="940.7" x2="121" y2="940.7" stroke="#333" stroke-width="1.8" />
<line x1="97" y1="886" x2="121" y2="886" stroke="#333" stroke-width="1.8" />
<text x="84" y="895" font-size="25" text-anchor="end">0.4</text>
<line x1="110.5" y1="831.3" x2="121" y2="831.3" stroke="#333" stroke-width="1.8" />
<line x1="97" y1="776.5" x2="121" y2="776.5" stroke="#333" stroke-width="1.8" />
<text x="84" y="785.5" font-size="25" text-anchor="end">0.6</text>
<line x1="110.5" y1="721.8" x2="121" y2="721.8" stroke="#333" stroke-width="1.8" />
<line x1="97" y1="667.1" x2="121" y2="667.1" stroke="#333" stroke-width="1.8" />
<text x="84" y="676.1" font-size="25" text-anchor="end">0.8</text>
<line x1="110.5" y1="612.3" x2="121" y2="612.3" stroke="#333" stroke-width="1.8" />
<line x1="97" y1="557.6" x2="121" y2="557.6" stroke="#333" stroke-width="1.8" />
<text x="84" y="566.6" font-size="25" text-anchor="end">1.0</text>
<line x1="126" y1="754.5" x2="985" y2="754.5" stroke="#b4b4b4" stroke-width="1.6" stroke-dasharray="1.6 5.5"/>
<line x1="153" y1="1104.9" x2="153" y2="1124.6" stroke="#333" stroke-width="1.8" />
<text x="153" y="1155.5" font-size="25" text-anchor="middle">1</text>
<line x1="202.3" y1="1104.9" x2="202.3" y2="1124.6" stroke="#333" stroke-width="1.8" />
<text x="202.3" y="1155.5" font-size="25" text-anchor="middle">2</text>
<line x1="251.7" y1="1104.9" x2="251.7" y2="1124.6" stroke="#333" stroke-width="1.8" />
<text x="251.7" y="1155.5" font-size="25" text-anchor="middle">3</text>
<line x1="301.1" y1="1104.9" x2="301.1" y2="1124.6" stroke="#333" stroke-width="1.8" />
<text x="301.1" y="1155.5" font-size="25" text-anchor="middle">4</text>
<line x1="350.4" y1="1104.9" x2="350.4" y2="1124.6" stroke="#333" stroke-width="1.8" />
<text x="350.4" y="1155.5" font-size="25" text-anchor="middle">5</text>
<path d="M153 557.6 C161.2 575.8 185.9 640.7 202.3 667.1 C218.8 693.4 235.2 702.7 251.7 715.8 C268.1 728.8 284.6 738.8 301.1 745.3 C317.5 751.8 342.2 753.1 350.4 754.6" fill="none" stroke="#555" stroke-width="2" stroke-dasharray="3 4"/>
<circle cx="153" cy="557.6" r="8" fill="#00be00" />
<circle cx="202.3" cy="667.1" r="8" fill="#00be00" />
<line x1="202.3" y1="657.1" x2="202.3" y2="677.1" stroke="#111" stroke-width="2" />
<line x1="195.3" y1="657.1" x2="209.3" y2="657.1" stroke="#111" stroke-width="2" />
<line x1="195.3" y1="677.1" x2="209.3" y2="677.1" stroke="#111" stroke-width="2" />
<circle cx="251.7" cy="715.8" r="8" fill="#00be00" />
<line x1="251.7" y1="703.2" x2="251.7" y2="728.4" stroke="#111" stroke-width="2" />
<line x1="244.7" y1="703.2" x2="258.7" y2="703.2" stroke="#111" stroke-width="2" />
<line x1="244.7" y1="728.4" x2="258.7" y2="728.4" stroke="#111" stroke-width="2" />
<circle cx="301.1" cy="745.3" r="8" fill="#00be00" />
<line x1="301.1" y1="731.3" x2="301.1" y2="759.3" stroke="#111" stroke-width="2" />
<line x1="294.1" y1="731.3" x2="308.1" y2="731.3" stroke="#111" stroke-width="2" />
<line x1="294.1" y1="759.3" x2="308.1" y2="759.3" stroke="#111" stroke-width="2" />
<circle cx="350.4" cy="754.6" r="8" fill="#00be00" />
<line x1="350.4" y1="742" x2="350.4" y2="767.2" stroke="#111" stroke-width="2" />
<line x1="343.4" y1="742" x2="357.4" y2="742" stroke="#111" stroke-width="2" />
<line x1="343.4" y1="767.2" x2="357.4" y2="767.2" stroke="#111" stroke-width="2" />
<line x1="449.7" y1="1104.9" x2="449.7" y2="1124.6" stroke="#333" stroke-width="1.8" />
<text x="449.7" y="1155.5" font-size="25" text-anchor="middle">1</text>
<line x1="499.1" y1="1104.9" x2="499.1" y2="1124.6" stroke="#333" stroke-width="1.8" />
<text x="499.1" y="1155.5" font-size="25" text-anchor="middle">2</text>
<line x1="548.4" y1="1104.9" x2="548.4" y2="1124.6" stroke="#333" stroke-width="1.8" />
<text x="548.4" y="1155.5" font-size="25" text-anchor="middle">3</text>
<line x1="597.8" y1="1104.9" x2="597.8" y2="1124.6" stroke="#333" stroke-width="1.8" />
<text x="597.8" y="1155.5" font-size="25" text-anchor="middle">4</text>
<line x1="647.1" y1="1104.9" x2="647.1" y2="1124.6" stroke="#333" stroke-width="1.8" />
<text x="647.1" y="1155.5" font-size="25" text-anchor="middle">5</text>
<path d="M449.7 557.6 C457.9 567.2 482.6 600.5 499.1 615.1 C515.5 629.7 531.9 638.1 548.4 645.2 C564.9 652.2 581.3 653.9 597.8 657.2 C614.2 660.5 638.9 663.6 647.1 664.9" fill="none" stroke="#555" stroke-width="2" stroke-dasharray="3 4"/>
<circle cx="449.7" cy="557.6" r="8" fill="#ff6a0a" />
<circle cx="499.1" cy="615.1" r="8" fill="#ff6a0a" />
<line x1="499.1" y1="607.1" x2="499.1" y2="623.1" stroke="#111" stroke-width="2" />
<line x1="492.1" y1="607.1" x2="506.1" y2="607.1" stroke="#111" stroke-width="2" />
<line x1="492.1" y1="623.1" x2="506.1" y2="623.1" stroke="#111" stroke-width="2" />
<circle cx="548.4" cy="645.2" r="8" fill="#ff6a0a" />
<line x1="548.4" y1="633.2" x2="548.4" y2="657.2" stroke="#111" stroke-width="2" />
<line x1="541.4" y1="633.2" x2="555.4" y2="633.2" stroke="#111" stroke-width="2" />
<line x1="541.4" y1="657.2" x2="555.4" y2="657.2" stroke="#111" stroke-width="2" />
<circle cx="597.8" cy="657.2" r="8" fill="#ff6a0a" />
<line x1="597.8" y1="642.2" x2="597.8" y2="672.2" stroke="#111" stroke-width="2" />
<line x1="590.8" y1="642.2" x2="604.8" y2="642.2" stroke="#111" stroke-width="2" />
<line x1="590.8" y1="672.2" x2="604.8" y2="672.2" stroke="#111" stroke-width="2" />
<circle cx="647.1" cy="664.9" r="8" fill="#ff6a0a" />
<line x1="647.1" y1="648.9" x2="647.1" y2="680.9" stroke="#111" stroke-width="2" />
<line x1="640.1" y1="648.9" x2="654.1" y2="648.9" stroke="#111" stroke-width="2" />
<line x1="640.1" y1="680.9" x2="654.1" y2="680.9" stroke="#111" stroke-width="2" />
<line x1="744.8" y1="1104.9" x2="744.8" y2="1124.6" stroke="#333" stroke-width="1.8" />
<text x="744.8" y="1155.5" font-size="25" text-anchor="middle">1</text>
<line x1="794.1" y1="1104.9" x2="794.1" y2="1124.6" stroke="#333" stroke-width="1.8" />
<text x="794.1" y="1155.5" font-size="25" text-anchor="middle">2</text>
<line x1="843.5" y1="1104.9" x2="843.5" y2="1124.6" stroke="#333" stroke-width="1.8" />
<text x="843.5" y="1155.5" font-size="25" text-anchor="middle">3</text>
<line x1="892.8" y1="1104.9" x2="892.8" y2="1124.6" stroke="#333" stroke-width="1.8" />
<text x="892.8" y="1155.5" font-size="25" text-anchor="middle">4</text>
<line x1="942.2" y1="1104.9" x2="942.2" y2="1124.6" stroke="#333" stroke-width="1.8" />
<text x="942.2" y="1155.5" font-size="25" text-anchor="middle">5</text>
<path d="M744.8 557.6 C753 590.5 777.7 709.4 794.1 755.2 C810.6 801 827 815.7 843.5 832.3 C860 849 876.4 850.1 892.8 855.3 C909.3 860.5 934 862.2 942.2 863.5" fill="none" stroke="#555" stroke-width="2" stroke-dasharray="3 4"/>
<circle cx="744.8" cy="557.6" r="8" fill="#a300e6" />
<circle cx="794.1" cy="755.2" r="8" fill="#a300e6" />
<line x1="794.1" y1="741.2" x2="794.1" y2="769.2" stroke="#111" stroke-width="2" />
<line x1="787.1" y1="741.2" x2="801.1" y2="741.2" stroke="#111" stroke-width="2" />
<line x1="787.1" y1="769.2" x2="801.1" y2="769.2" stroke="#111" stroke-width="2" />
<circle cx="843.5" cy="832.3" r="8" fill="#a300e6" />
<line x1="843.5" y1="817.7" x2="843.5" y2="846.9" stroke="#111" stroke-width="2" />
<line x1="836.5" y1="817.7" x2="850.5" y2="817.7" stroke="#111" stroke-width="2" />
<line x1="836.5" y1="846.9" x2="850.5" y2="846.9" stroke="#111" stroke-width="2" />
<circle cx="892.8" cy="855.3" r="8" fill="#a300e6" />
<line x1="892.8" y1="840.8" x2="892.8" y2="869.8" stroke="#111" stroke-width="2" />
<line x1="885.8" y1="840.8" x2="899.8" y2="840.8" stroke="#111" stroke-width="2" />
<line x1="885.8" y1="869.8" x2="899.8" y2="869.8" stroke="#111" stroke-width="2" />
<circle cx="942.2" cy="863.5" r="8" fill="#a300e6" />
<line x1="942.2" y1="847" x2="942.2" y2="880" stroke="#111" stroke-width="2" />
<line x1="935.2" y1="847" x2="949.2" y2="847" stroke="#111" stroke-width="2" />
<line x1="935.2" y1="880" x2="949.2" y2="880" stroke="#111" stroke-width="2" />
<text x="170" y="555.5" font-size="25">P1</text>
<text x="470" y="555.5" font-size="25">P1</text>
<text x="765" y="555.5" font-size="25">P1</text>
<text x="344" y="798" font-size="25">P5</text>
<text x="635" y="718" font-size="25">P5</text>
<text x="944.5" y="910" font-size="25">P5</text>
<text x="121" y="1155.5" font-size="25" text-anchor="end">Pulse</text>
<text x="121" y="1185.5" font-size="25" text-anchor="end">number:</text>
<text x="252" y="1197" font-size="25" text-anchor="middle" fill="#12b812">GluA3-G</text>
<text x="543.5" y="1197" font-size="25" text-anchor="middle" fill="#f0843a">GluA3-G(K129C/E458C)</text>
<text x="847.5" y="1197" font-size="25" text-anchor="middle" fill="#7a34b4">GluA3-G(Q185glyco)</text>
<text x="0" y="0" font-size="25" transform="translate(21 819.5) rotate(-90)" text-anchor="middle"><tspan font-style="italic">I</tspan><tspan font-style="italic" font-size="16" dy="6">n</tspan><tspan dy="-6">/</tspan><tspan font-style="italic">I</tspan><tspan font-size="16" dy="6">1</tspan></text>
<path d="M376.1 899.2 L381.6 899.4 L383.2 930 L385 1010 L386.8 1075 L388.7 1099 L389.2 1098.5 L389.7 1098 L390.2 1097 L390.7 1095.8 L391.2 1094.2 L391.7 1092.4 L392.2 1090.3 L392.7 1088.1 L393.2 1085.6 L393.7 1083.1 L394.2 1080.4 L394.7 1077.6 L395.2 1074.9 L395.7 1072.1 L396.2 1069.3 L396.7 1066.5 L397.2 1063.7 L397.7 1061 L398.2 1058.4 L398.7 1055.8 L399.2 1053.3 L399.7 1050.9 L400.2 1048.5 L400.7 1046.2 L401.2 1044 L401.7 1041.9 L402.2 1039.8 L402.7 1037.8 L403.2 1035.9 L403.7 1034.1 L404.2 1032.3 L404.7 1030.6 L405.2 1029 L405.7 1027.4 L406.2 1025.9 L406.7 1024.4 L407.2 1023 L407.7 1021.6 L408.2 1020.3 L408.7 1019 L409.2 1017.8 L409.7 1016.6 L410.2 1015.5 L410.7 1014.4 L411.2 1013.3 L411.7 1012.3 L412.2 1011.3 L412.7 1010.3 L413.2 1009.3 L413.7 1008.4 L414.2 1007.5 L414.7 1006.6 L415.2 1005.8 L415.7 1005 L416.2 1004.2 L416.7 1003.4 L417.2 1002.6 L417.7 1001.9 L418.2 1001.1 L418.7 1000.4 L419.2 999.7 L419.7 999 L420.2 998.3 L420.7 997.7 L421.2 997 L421.7 996.4 L422.2 995.8 L422.7 995.2 L423.2 994.6 L423.7 994 L424.2 993.4 L424.7 992.8 L425.2 992.3 L425.7 991.7 L426.2 991.2 L426.7 990.6 L427.2 990.1 L427.7 989.6 L428.2 989.1 L428.7 988.5 L429.2 988 L429.7 987.6 L430.2 987.1 L432.2 985.2 L434.2 983.4 L436.2 981.7 L438.2 980.1 L440.2 978.5 L442.2 977 L444.2 975.6 L446.2 974.2 L448.2 972.9 L450.2 971.6 L452.2 970.4 L454.2 969.3 L456.2 968.2 L458.2 967.1 L460.2 966.1 L462.2 965.1 L464.2 964.2 L466.2 963.3 L468.2 962.4 L470.2 961.6 L472.2 960.8 L474.2 960 L476.2 959.3 L478.2 958.6 L480.2 957.9 L482.2 957.3 L484.2 956.7 L486.2 956.1 L488.2 955.5 L490.2 955 L492.2 954.4 L494.2 953.9 L496.2 953.5 L498.2 953 L500.2 952.6 L502.2 952.1 L504.2 951.7 L506.2 951.3 L508.2 951 L510.2 950.6 L512.2 950.3 L514.2 949.9 L516.2 949.6 L518.2 949.3 L520.2 949 L522.2 948.7 L524.2 948.5 L526.2 948.2 L528.2 948 L530.2 947.7 L532.2 947.5 L534.2 947.3 L536.2 947.1 L538.2 946.9 L540.2 946.7 L542.2 946.5 L544.2 946.3 L546.2 946.2 L548.2 946 L550.2 945.8 L552.2 945.7 L554.2 945.5 L556.2 945.4 L558.2 945.3 L560.2 945.1 L562.2 945 L564.2 944.9 L566.2 944.8 L568.2 944.7 L570.2 944.6 L572.2 944.5 L574.2 944.4 L576.2 944.3 L578.2 944.2 L580.2 944.1 L582.2 944.1 L584.2 944 L586.2 943.9 L588.2 943.8 L590.2 943.8 L592.2 943.7 L594.2 943.6 L596.2 943.6 L598.2 943.5 L600.2 943.5 L602.2 943.4 L604.2 943.4 L606.2 943.3 L608.2 943.3 L610.2 943.2 L612.2 943.2 L614.2 943.2 L616.2 943.1 L618.2 943.1 L620.2 943 L622.2 943 L624.2 943 L626.2 942.9 L628.2 942.9 L630.2 942.9 L632.2 942.9 L634.2 942.8 L635.3 942.8" fill="none" stroke="#ff8000" stroke-width="2.8" stroke-linejoin="round" />
<path d="M376.1 899.2 L381.6 899.4 L383.2 930 L385 1010 L386.8 1075 L388.7 1099 L389.2 1098.3 L389.7 1097.1 L390.2 1095.2 L390.7 1092.6 L391.2 1089.3 L391.7 1085.5 L392.2 1081.2 L392.7 1076.5 L393.2 1071.4 L393.7 1066.1 L394.2 1060.6 L394.7 1055 L395.2 1049.4 L395.7 1043.8 L396.2 1038.2 L396.7 1032.7 L397.2 1027.3 L397.7 1022 L398.2 1016.9 L398.7 1012 L399.2 1007.3 L399.7 1002.7 L400.2 998.3 L400.7 994.1 L401.2 990.1 L401.7 986.3 L402.2 982.7 L402.7 979.3 L403.2 976 L403.7 972.9 L404.2 969.9 L404.7 967.1 L405.2 964.5 L405.7 962 L406.2 959.6 L406.7 957.3 L407.2 955.2 L407.7 953.2 L408.2 951.3 L408.7 949.5 L409.2 947.8 L409.7 946.1 L410.2 944.6 L410.7 943.1 L411.2 941.7 L411.7 940.4 L412.2 939.2 L412.7 938 L413.2 936.9 L413.7 935.8 L414.2 934.8 L414.7 933.8 L415.2 932.9 L415.7 932 L416.2 931.1 L416.7 930.3 L417.2 929.6 L417.7 928.8 L418.2 928.1 L418.7 927.5 L419.2 926.8 L419.7 926.2 L420.2 925.6 L420.7 925 L421.2 924.5 L421.7 923.9 L422.2 923.4 L422.7 922.9 L423.2 922.4 L423.7 922 L424.2 921.5 L424.7 921.1 L425.2 920.7 L425.7 920.3 L426.2 919.9 L426.7 919.5 L427.2 919.1 L427.7 918.8 L428.2 918.4 L428.7 918.1 L429.2 917.8 L429.7 917.4 L430.2 917.1 L432.2 916 L434.2 914.9 L436.2 913.9 L438.2 913.1 L440.2 912.3 L442.2 911.5 L444.2 910.8 L446.2 910.2 L448.2 909.6 L450.2 909 L452.2 908.5 L454.2 908 L456.2 907.6 L458.2 907.2 L460.2 906.8 L462.2 906.4 L464.2 906.1 L466.2 905.8 L468.2 905.5 L470.2 905.2 L472.2 904.9 L474.2 904.7 L476.2 904.5 L478.2 904.3 L480.2 904.1 L482.2 903.9 L484.2 903.7 L486.2 903.6 L488.2 903.4 L490.2 903.3 L492.2 903.1 L494.2 903 L496.2 902.9 L498.2 902.8 L500.2 902.7 L502.2 902.6 L504.2 902.5 L506.2 902.4 L508.2 902.4 L510.2 902.3 L512.2 902.2 L514.2 902.2 L516.2 902.1 L518.2 902.1 L520.2 902 L522.2 902 L524.2 901.9 L526.2 901.9 L528.2 901.9 L530.2 901.8 L532.2 901.8 L534.2 901.8 L536.2 901.7 L538.2 901.7 L540.2 901.7 L542.2 901.7 L544.2 901.6 L546.2 901.6 L548.2 901.6 L550.2 901.6 L552.2 901.6 L554.2 901.6 L556.2 901.5 L558.2 901.5 L560.2 901.5 L562.2 901.5 L564.2 901.5 L566.2 901.5 L568.2 901.5 L570.2 901.5 L572.2 901.5 L574.2 901.4 L576.2 901.4 L578.2 901.4 L580.2 901.4 L582.2 901.4 L584.2 901.4 L586.2 901.4 L588.2 901.4 L590.2 901.4 L592.2 901.4 L594.2 901.4 L596.2 901.4 L598.2 901.4 L600.2 901.4 L602.2 901.4 L604.2 901.4 L606.2 901.4 L608.2 901.4 L610.2 901.4 L612.2 901.4 L614.2 901.4 L616.2 901.4 L618.2 901.4 L620.2 901.4 L622.2 901.4 L624.2 901.4 L626.2 901.4 L628.2 901.4 L630.2 901.4 L632.2 901.4 L634.2 901.4 L635.3 901.4" fill="none" stroke="#b45ee0" stroke-width="2.8" stroke-linejoin="round" />
<path d="M376.1 899.2 L381.6 899.4 L383.2 930 L385 1010 L386.8 1075 L388.7 1099 L389.2 1098.4 L389.7 1097.6 L390.2 1096.2 L390.7 1094.3 L391.2 1091.9 L391.7 1089.2 L392.2 1086.1 L392.7 1082.7 L393.2 1079.1 L393.7 1075.2 L394.2 1071.3 L394.7 1067.3 L395.2 1063.2 L395.7 1059.1 L396.2 1055 L396.7 1051 L397.2 1047 L397.7 1043.1 L398.2 1039.3 L398.7 1035.6 L399.2 1032 L399.7 1028.5 L400.2 1025.2 L400.7 1021.9 L401.2 1018.7 L401.7 1015.7 L402.2 1012.8 L402.7 1009.9 L403.2 1007.2 L403.7 1004.6 L404.2 1002.1 L404.7 999.6 L405.2 997.3 L405.7 995.1 L406.2 992.9 L406.7 990.8 L407.2 988.8 L407.7 986.9 L408.2 985 L408.7 983.2 L409.2 981.5 L409.7 979.8 L410.2 978.2 L410.7 976.7 L411.2 975.2 L411.7 973.7 L412.2 972.3 L412.7 970.9 L413.2 969.6 L413.7 968.3 L414.2 967.1 L414.7 965.9 L415.2 964.7 L415.7 963.6 L416.2 962.5 L416.7 961.4 L417.2 960.3 L417.7 959.3 L418.2 958.3 L418.7 957.4 L419.2 956.4 L419.7 955.5 L420.2 954.6 L420.7 953.7 L421.2 952.9 L421.7 952 L422.2 951.2 L422.7 950.4 L423.2 949.6 L423.7 948.9 L424.2 948.1 L424.7 947.4 L425.2 946.7 L425.7 946 L426.2 945.3 L426.7 944.6 L427.2 944 L427.7 943.3 L428.2 942.7 L428.7 942.1 L429.2 941.5 L429.7 940.9 L430.2 940.3 L432.2 938 L434.2 935.9 L436.2 934 L438.2 932.2 L440.2 930.5 L442.2 928.9 L444.2 927.4 L446.2 926 L448.2 924.7 L450.2 923.4 L452.2 922.3 L454.2 921.2 L456.2 920.2 L458.2 919.3 L460.2 918.4 L462.2 917.5 L464.2 916.7 L466.2 916 L468.2 915.3 L470.2 914.7 L472.2 914.1 L474.2 913.5 L476.2 913 L478.2 912.5 L480.2 912 L482.2 911.5 L484.2 911.1 L486.2 910.7 L488.2 910.4 L490.2 910 L492.2 909.7 L494.2 909.4 L496.2 909.1 L498.2 908.9 L500.2 908.6 L502.2 908.4 L504.2 908.2 L506.2 908 L508.2 907.8 L510.2 907.6 L512.2 907.4 L514.2 907.2 L516.2 907.1 L518.2 907 L520.2 906.8 L522.2 906.7 L524.2 906.6 L526.2 906.5 L528.2 906.4 L530.2 906.3 L532.2 906.2 L534.2 906.1 L536.2 906 L538.2 906 L540.2 905.9 L542.2 905.8 L544.2 905.8 L546.2 905.7 L548.2 905.6 L550.2 905.6 L552.2 905.5 L554.2 905.5 L556.2 905.5 L558.2 905.4 L560.2 905.4 L562.2 905.4 L564.2 905.3 L566.2 905.3 L568.2 905.3 L570.2 905.2 L572.2 905.2 L574.2 905.2 L576.2 905.2 L578.2 905.1 L580.2 905.1 L582.2 905.1 L584.2 905.1 L586.2 905.1 L588.2 905.1 L590.2 905 L592.2 905 L594.2 905 L596.2 905 L598.2 905 L600.2 905 L602.2 905 L604.2 905 L606.2 905 L608.2 904.9 L610.2 904.9 L612.2 904.9 L614.2 904.9 L616.2 904.9 L618.2 904.9 L620.2 904.9 L622.2 904.9 L624.2 904.9 L626.2 904.9 L628.2 904.9 L630.2 904.9 L632.2 904.9 L634.2 904.9 L635.3 904.9" fill="none" stroke="#0d7a0d" stroke-width="2.8" stroke-linejoin="round" />
<text x="641" y="902.5" font-size="24.3" fill="#12b812">GluA3-G</text>
<text x="641" y="928" font-size="24.3" fill="#7a34b4">GluA3-G(Q185glyco)</text>
<text x="641" y="955.4" font-size="24.3" fill="#f0843a">GluA3-G(K129C/E458C)</text>
<rect x="473" y="1002.8" width="44.6" height="5.8" fill="#000" />
<text x="493" y="1033.5" font-size="25" text-anchor="middle">20 ms</text>
<line x1="1157.8" y1="729.9" x2="1157.8" y2="1106.4" stroke="#333" stroke-width="1.8" />
<line x1="1143.3" y1="1106.4" x2="1383.5" y2="1106.4" stroke="#333" stroke-width="1.8" />
<line x1="1143.3" y1="1106.4" x2="1157.8" y2="1106.4" stroke="#333" stroke-width="1.8" />
<text x="1131" y="1115.4" font-size="25" text-anchor="end">0</text>
<line x1="1143.3" y1="1031.3" x2="1157.8" y2="1031.3" stroke="#333" stroke-width="1.8" />
<text x="1131" y="1040.3" font-size="25" text-anchor="end">0.2</text>
<line x1="1143.3" y1="956.1" x2="1157.8" y2="956.1" stroke="#333" stroke-width="1.8" />
<text x="1131" y="965.1" font-size="25" text-anchor="end">0.4</text>
<line x1="1143.3" y1="881" x2="1157.8" y2="881" stroke="#333" stroke-width="1.8" />
<text x="1131" y="890" font-size="25" text-anchor="end">0.6</text>
<line x1="1143.3" y1="805.8" x2="1157.8" y2="805.8" stroke="#333" stroke-width="1.8" />
<text x="1131" y="814.8" font-size="25" text-anchor="end">0.8</text>
<line x1="1143.3" y1="730.7" x2="1157.8" y2="730.7" stroke="#333" stroke-width="1.8" />
<text x="1131" y="739.7" font-size="25" text-anchor="end">1.0</text>
<rect x="1183.3" y="866" width="49.4" height="240.4" fill="#c0f8c0" stroke="#333" stroke-width="1.6" />
<line x1="1208" y1="1106.4" x2="1208" y2="1121.5" stroke="#333" stroke-width="1.8" />
<line x1="1208" y1="838" x2="1208" y2="893" stroke="#111" stroke-width="2" />
<line x1="1195.5" y1="838" x2="1220.5" y2="838" stroke="#111" stroke-width="2" />
<line x1="1195.5" y1="893" x2="1220.5" y2="893" stroke="#111" stroke-width="2" />
<circle cx="1208" cy="828" r="4.8" fill="#000" />
<circle cx="1208" cy="834" r="4.8" fill="#000" />
<circle cx="1208" cy="848.7" r="4.8" fill="#000" />
<circle cx="1208" cy="852.8" r="4.8" fill="#000" />
<circle cx="1208" cy="859" r="4.8" fill="#000" />
<circle cx="1208" cy="863" r="4.8" fill="#000" />
<circle cx="1208" cy="885" r="4.8" fill="#000" />
<circle cx="1208" cy="905.8" r="4.8" fill="#000" />
<circle cx="1208" cy="910" r="4.8" fill="#000" />
<circle cx="1208" cy="914" r="4.8" fill="#000" />
<rect x="1258.6" y="804" width="49.4" height="302.4" fill="#fcd6c0" stroke="#333" stroke-width="1.6" />
<line x1="1283.3" y1="1106.4" x2="1283.3" y2="1121.5" stroke="#333" stroke-width="1.8" />
<line x1="1283.3" y1="777" x2="1283.3" y2="831" stroke="#111" stroke-width="2" />
<line x1="1270.8" y1="777" x2="1295.8" y2="777" stroke="#111" stroke-width="2" />
<line x1="1270.8" y1="831" x2="1295.8" y2="831" stroke="#111" stroke-width="2" />
<circle cx="1283.3" cy="785" r="4.8" fill="#000" />
<circle cx="1283.3" cy="806" r="4.8" fill="#000" />
<circle cx="1283.3" cy="855" r="4.8" fill="#000" />
<rect x="1334" y="941.1" width="49.4" height="165.3" fill="#dcc2e8" stroke="#333" stroke-width="1.6" />
<line x1="1358.7" y1="1106.4" x2="1358.7" y2="1121.5" stroke="#333" stroke-width="1.8" />
<line x1="1358.7" y1="910" x2="1358.7" y2="970.8" stroke="#111" stroke-width="2" />
<line x1="1346.2" y1="910" x2="1371.2" y2="910" stroke="#111" stroke-width="2" />
<line x1="1346.2" y1="970.8" x2="1371.2" y2="970.8" stroke="#111" stroke-width="2" />
<circle cx="1358.7" cy="904.8" r="4.8" fill="#000" />
<circle cx="1358.7" cy="911" r="4.8" fill="#000" />
<circle cx="1358.7" cy="952.6" r="4.8" fill="#000" />
<circle cx="1358.7" cy="964" r="4.8" fill="#000" />
<circle cx="1358.7" cy="971" r="4.8" fill="#000" />
<line x1="1200.5" y1="729" x2="1283" y2="729" stroke="#111" stroke-width="1.6" />
<text x="1175.5" y="721.3" font-size="25"><tspan font-style="italic">P</tspan> = 0.0006</text>
<line x1="1200.5" y1="666.8" x2="1353" y2="666.8" stroke="#111" stroke-width="1.6" />
<text x="1213" y="657.4" font-size="25"><tspan font-style="italic">P</tspan> &lt; 0.0001</text>
<text x="0" y="0" font-size="25" transform="translate(1069 920) rotate(-90)" text-anchor="middle">P<tspan font-size="17" dy="5">5</tspan><tspan dy="-5">/P</tspan><tspan font-size="17" dy="5">1</tspan></text>
<text x="1221" y="1139" font-size="26" text-anchor="end" transform="rotate(-45 1221 1139)">GluA3-G</text>
<text x="1296.3" y="1139" font-size="26" text-anchor="end" transform="rotate(-45 1296.3 1139)" textLength="276" lengthAdjust="spacingAndGlyphs">GluA3-G(K129C/E458C)</text>
<text x="1371.7" y="1139" font-size="26" text-anchor="end" transform="rotate(-45 1371.7 1139)" textLength="235" lengthAdjust="spacingAndGlyphs">GluA3-G(Q185glyco)</text>
</svg>
</body></html>
